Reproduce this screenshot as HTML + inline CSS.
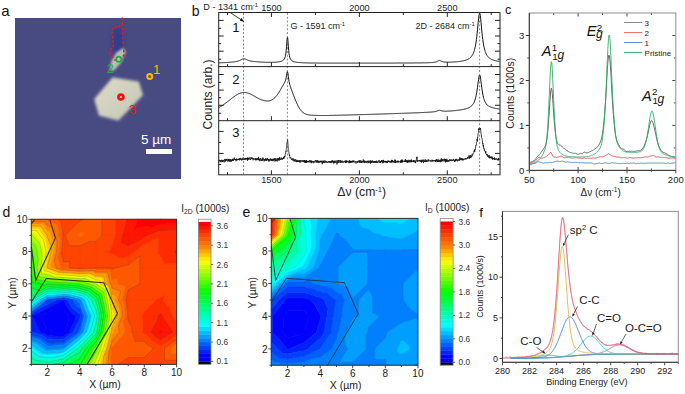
<!DOCTYPE html>
<html><head><meta charset="utf-8"><style>
html,body{margin:0;padding:0;background:#fff;}
svg{display:block;}
text{font-family:"Liberation Sans",sans-serif;}
</style></head><body>
<svg width="685" height="394" viewBox="0 0 685 394">
<defs>
<linearGradient id="hg" x1="0" y1="0" x2="1" y2="1"><stop offset="0" stop-color="#dcdcc8"/><stop offset="1" stop-color="#c4c5b3"/></linearGradient>
<filter id="b1" x="-20%" y="-20%" width="140%" height="140%"><feGaussianBlur stdDeviation="1.2"/></filter>
<filter id="b3" x="-20%" y="-20%" width="140%" height="140%"><feGaussianBlur stdDeviation="1.6"/></filter>
<filter id="b2" x="-30%" y="-30%" width="160%" height="160%"><feGaussianBlur stdDeviation="2"/></filter>
</defs>
<rect width="685" height="394" fill="#fff"/>
<text x="1.2" y="16.2" font-size="15" fill="#111">a</text>
<rect x="15" y="18" width="166" height="161" fill="#484a82"/>
<polygon points="113,31 122,27 123.5,50 116,53 112,49" fill="#2c3a8c" filter="url(#b2)" opacity="0.8"/>
<polygon points="123,48 126,51.5 121.5,62 114,70.5 109.5,70.5 111.5,61 116.5,52.5" fill="#bcbdb4" filter="url(#b1)"/>
<polygon points="113,78.2 138.3,82.2 142.2,95 118.2,119.8 99.6,115 95,99.3" fill="url(#hg)" stroke="url(#hg)" stroke-width="1.5" stroke-linejoin="round" filter="url(#b3)"/>
<g fill="none" stroke="#d82030" stroke-width="1.5" stroke-dasharray="2.6,1.8">
<polyline points="122.4,17.5 122.4,23.5 117.5,28 114.5,26.5 111.7,30.2 113.6,45.5 109.5,51.5 111.5,56 114.8,59.9 118.5,61"/>
<polyline points="122.4,23.5 123.2,40 123.9,54.6 122.4,59.1"/>
</g>
<circle cx="118.8" cy="59.3" r="2.6" fill="none" stroke="#18b040" stroke-width="1.8"/>
<circle cx="149.7" cy="76.5" r="2.5" fill="#6a5a40" stroke="#ffbb00" stroke-width="1.9"/>
<circle cx="120.9" cy="97" r="2.4" fill="#f4e8e8" stroke="#f81010" stroke-width="2.8"/>
<text x="153" y="73.6" font-size="13" fill="#ffbb00">1</text>
<text x="106.4" y="73.2" font-size="13" fill="#18b040">2</text>
<text x="128.8" y="114" font-size="13.5" fill="#f41010">3</text>
<text x="141" y="143.8" font-size="12" fill="#fff" textLength="30.3" lengthAdjust="spacingAndGlyphs">5 µm</text>
<rect x="146" y="149" width="26" height="5" fill="#fff"/>
<text x="191.8" y="15.6" font-size="14" fill="#111">b</text>
<g fill="none" stroke="#111" stroke-width="1" stroke-linejoin="round">
<path d="M218.7,62.8L219.1,62.8L219.4,62.8L219.8,62.8L220.1,62.8L220.5,62.8L220.8,62.8L221.2,62.8L221.5,62.7L221.9,62.7L222.2,62.7L222.6,62.7L222.9,62.7L223.3,62.7L223.6,62.7L224,62.6L224.3,62.6L224.7,62.6L225,62.6L225.4,62.6L225.7,62.6L226.1,62.5L226.4,62.5L226.8,62.5L227.1,62.5L227.5,62.5L227.8,62.4L228.2,62.4L228.5,62.4L228.9,62.4L229.2,62.3L229.6,62.3L230,62.3L230.3,62.3L230.7,62.2L231,62.2L231.4,62.2L231.7,62.1L232.1,62.1L232.4,62.1L232.8,62L233.1,62L233.5,61.9L233.8,61.9L234.2,61.8L234.5,61.8L234.9,61.7L235.2,61.7L235.6,61.6L235.9,61.6L236.3,61.5L236.6,61.4L237,61.4L237.3,61.3L237.7,61.2L238,61.1L238.4,61L238.7,60.9L239.1,60.7L239.4,60.6L239.8,60.5L240.1,60.3L240.5,60.1L240.9,60L241.2,59.8L241.6,59.6L241.9,59.4L242.3,59.2L242.6,59.1L243,58.9L243.3,58.8L243.7,58.8L244,58.7L244.4,58.8L244.7,58.9L245.1,59L245.4,59.1L245.8,59.3L246.1,59.4L246.5,59.6L246.8,59.8L247.2,59.9L247.5,60.1L247.9,60.2L248.2,60.3L248.6,60.5L248.9,60.6L249.3,60.7L249.6,60.8L250,60.8L250.3,60.9L250.7,61L251,61.1L251.4,61.1L251.8,61.2L252.1,61.2L252.5,61.3L252.8,61.3L253.2,61.4L253.5,61.4L253.9,61.5L254.2,61.5L254.6,61.5L254.9,61.6L255.3,61.6L255.6,61.7L256,61.7L256.3,61.7L256.7,61.7L257,61.8L257.4,61.8L257.7,61.8L258.1,61.9L258.4,61.9L258.8,61.9L259.1,61.9L259.5,62L259.8,62L260.2,62L260.5,62L260.9,62.1L261.2,62.1L261.6,62.1L261.9,62.1L262.3,62.1L262.7,62.2L263,62.2L263.4,62.2L263.7,62.2L264.1,62.2L264.4,62.2L264.8,62.2L265.1,62.3L265.5,62.3L265.8,62.3L266.2,62.3L266.5,62.3L266.9,62.3L267.2,62.3L267.6,62.3L267.9,62.3L268.3,62.3L268.6,62.3L269,62.3L269.3,62.3L269.7,62.3L270,62.3L270.4,62.3L270.7,62.3L271.1,62.3L271.4,62.3L271.8,62.3L272.1,62.3L272.5,62.3L272.9,62.3L273.2,62.3L273.6,62.3L273.9,62.3L274.3,62.3L274.6,62.2L275,62.2L275.3,62.2L275.7,62.2L276,62.2L276.4,62.1L276.7,62.1L277.1,62.1L277.4,62L277.8,62L278.1,61.9L278.5,61.9L278.8,61.8L279.2,61.8L279.5,61.7L279.9,61.6L280.2,61.6L280.6,61.5L280.9,61.4L281.3,61.3L281.6,61.1L282,61L282.3,60.8L282.7,60.6L283,60.4L283.4,60.1L283.8,59.7L284.1,59.3L284.5,58.7L284.8,57.9L285.2,56.8L285.5,55.3L285.9,53.2L286.2,50.2L286.6,46.1L286.9,41.2L287.3,37.4L287.6,37.4L288,41.3L288.3,46.2L288.7,50.4L289,53.4L289.4,55.5L289.7,57L290.1,58.1L290.4,58.9L290.8,59.5L291.1,60L291.5,60.4L291.8,60.7L292.2,60.9L292.5,61.1L292.9,61.3L293.2,61.5L293.6,61.6L293.9,61.7L294.3,61.8L294.7,61.9L295,62L295.4,62.1L295.7,62.1L296.1,62.2L296.4,62.2L296.8,62.3L297.1,62.3L297.5,62.4L297.8,62.4L298.2,62.5L298.5,62.5L298.9,62.5L299.2,62.5L299.6,62.6L299.9,62.6L300.3,62.6L300.6,62.6L301,62.7L301.3,62.7L301.7,62.7L302,62.7L302.4,62.7L302.7,62.8L303.1,62.8L303.4,62.8L303.8,62.8L304.1,62.8L304.5,62.8L304.8,62.8L305.2,62.8L305.6,62.9L305.9,62.9L306.3,62.9L306.6,62.9L307,62.9L307.3,62.9L307.7,62.9L308,62.9L308.4,62.9L308.7,62.9L309.1,62.9L309.4,63L309.8,63L310.1,63L310.5,63L310.8,63L311.2,63L311.5,63L311.9,63L312.2,63L312.6,63L312.9,63L313.3,63L313.6,63L314,63L314.3,63L314.7,63L315,63L315.4,63L315.7,63L316.1,63L316.5,63L316.8,63L317.2,63L317.5,63L317.9,63.1L318.2,63.1L318.6,63.1L318.9,63.1L319.3,63.1L319.6,63.1L320,63.1L320.3,63.1L320.7,63.1L321,63.1L321.4,63.1L321.7,63.1L322.1,63.1L322.4,63.1L322.8,63.1L323.1,63.1L323.5,63.1L323.8,63.1L324.2,63.1L324.5,63.1L324.9,63.1L325.2,63.1L325.6,63.1L325.9,63.1L326.3,63.1L326.6,63.1L327,63.1L327.4,63.1L327.7,63.1L328.1,63.1L328.4,63.1L328.8,63.1L329.1,63.1L329.5,63.1L329.8,63.1L330.2,63.1L330.5,63.1L330.9,63.1L331.2,63.1L331.6,63.1L331.9,63.1L332.3,63.1L332.6,63.1L333,63.1L333.3,63.1L333.7,63.1L334,63.1L334.4,63.1L334.7,63.1L335.1,63.1L335.4,63.1L335.8,63.1L336.1,63.1L336.5,63.1L336.8,63.1L337.2,63.1L337.5,63.1L337.9,63.1L338.3,63.1L338.6,63.1L339,63.1L339.3,63.1L339.7,63.1L340,63.1L340.4,63.1L340.7,63.1L341.1,63.1L341.4,63.1L341.8,63.1L342.1,63.1L342.5,63.1L342.8,63.1L343.2,63.1L343.5,63.1L343.9,63.1L344.2,63.1L344.6,63.1L344.9,63.1L345.3,63.1L345.6,63.1L346,63.1L346.3,63.1L346.7,63.1L347,63.1L347.4,63.1L347.7,63.1L348.1,63.1L348.4,63.1L348.8,63.1L349.2,63.1L349.5,63.1L349.9,63.1L350.2,63.1L350.6,63.1L350.9,63.1L351.3,63.1L351.6,63.1L352,63.1L352.3,63.1L352.7,63.1L353,63.1L353.4,63.1L353.7,63.1L354.1,63.1L354.4,63.1L354.8,63.1L355.1,63.1L355.5,63.1L355.8,63.1L356.2,63.1L356.5,63.1L356.9,63.1L357.2,63.1L357.6,63.1L357.9,63.1L358.3,63.1L358.6,63.1L359,63.1L359.4,63.1L359.7,63.1L360.1,63.1L360.4,63.1L360.8,63.1L361.1,63.1L361.5,63.1L361.8,63.1L362.2,63.1L362.5,63.1L362.9,63.1L363.2,63.1L363.6,63.1L363.9,63.1L364.3,63.1L364.6,63.1L365,63.1L365.3,63.1L365.7,63.1L366,63.1L366.4,63.1L366.7,63.1L367.1,63.1L367.4,63.1L367.8,63.1L368.1,63.1L368.5,63.1L368.8,63.1L369.2,63.1L369.5,63.1L369.9,63.1L370.3,63.1L370.6,63.1L371,63.1L371.3,63.1L371.7,63.1L372,63.1L372.4,63.1L372.7,63.1L373.1,63.1L373.4,63.1L373.8,63.1L374.1,63.1L374.5,63.1L374.8,63.1L375.2,63.1L375.5,63.1L375.9,63.1L376.2,63.1L376.6,63.1L376.9,63.1L377.3,63.1L377.6,63.1L378,63.1L378.3,63.1L378.7,63.1L379,63.1L379.4,63.1L379.7,63.1L380.1,63.1L380.4,63.1L380.8,63.1L381.2,63.1L381.5,63.1L381.9,63.1L382.2,63.1L382.6,63.1L382.9,63.1L383.3,63.1L383.6,63.1L384,63.1L384.3,63.1L384.7,63.1L385,63.1L385.4,63.1L385.7,63.1L386.1,63.1L386.4,63.1L386.8,63.1L387.1,63.1L387.5,63.1L387.8,63.1L388.2,63.1L388.5,63.1L388.9,63.1L389.2,63.1L389.6,63.1L389.9,63.1L390.3,63.1L390.6,63.1L391,63.1L391.3,63.1L391.7,63.1L392.1,63.1L392.4,63.1L392.8,63.1L393.1,63.1L393.5,63.1L393.8,63.1L394.2,63.1L394.5,63.1L394.9,63.1L395.2,63.1L395.6,63L395.9,63L396.3,63L396.6,63L397,63L397.3,63L397.7,63L398,63L398.4,63L398.7,63L399.1,63L399.4,63L399.8,63L400.1,63L400.5,63L400.8,63L401.2,63L401.5,63L401.9,63L402.2,63L402.6,63L403,63L403.3,63L403.7,63L404,63L404.4,63L404.7,63L405.1,63L405.4,63L405.8,63L406.1,63L406.5,63L406.8,63L407.2,63L407.5,63L407.9,63L408.2,63L408.6,63L408.9,63L409.3,63L409.6,63L410,63L410.3,63L410.7,63L411,63L411.4,63L411.7,63L412.1,63L412.4,63L412.8,63L413.1,63L413.5,63L413.9,62.9L414.2,62.9L414.6,62.9L414.9,62.9L415.3,62.9L415.6,62.9L416,62.9L416.3,62.9L416.7,62.9L417,62.9L417.4,62.9L417.7,62.9L418.1,62.9L418.4,62.9L418.8,62.9L419.1,62.9L419.5,62.9L419.8,62.9L420.2,62.9L420.5,62.9L420.9,62.9L421.2,62.9L421.6,62.9L421.9,62.9L422.3,62.9L422.6,62.8L423,62.8L423.3,62.8L423.7,62.8L424,62.8L424.4,62.8L424.8,62.8L425.1,62.8L425.5,62.8L425.8,62.8L426.2,62.8L426.5,62.8L426.9,62.8L427.2,62.8L427.6,62.7L427.9,62.7L428.3,62.7L428.6,62.7L429,62.7L429.3,62.7L429.7,62.7L430,62.7L430.4,62.6L430.7,62.6L431.1,62.6L431.4,62.6L431.8,62.6L432.1,62.5L432.5,62.5L432.8,62.5L433.2,62.4L433.5,62.4L433.9,62.3L434.2,62.3L434.6,62.2L434.9,62.2L435.3,62.1L435.7,62L436,61.9L436.4,61.8L436.7,61.6L437.1,61.4L437.4,61.3L437.8,61.1L438.1,60.9L438.5,60.7L438.8,60.6L439.2,60.5L439.5,60.5L439.9,60.5L440.2,60.7L440.6,60.8L440.9,61L441.3,61.2L441.6,61.3L442,61.5L442.3,61.6L442.7,61.7L443,61.8L443.4,61.9L443.7,62L444.1,62L444.4,62L444.8,62.1L445.1,62.1L445.5,62.1L445.8,62.2L446.2,62.2L446.6,62.2L446.9,62.2L447.3,62.2L447.6,62.2L448,62.2L448.3,62.2L448.7,62.2L449,62.2L449.4,62.2L449.7,62.2L450.1,62.2L450.4,62.1L450.8,62.1L451.1,62.1L451.5,62.1L451.8,62.1L452.2,62.1L452.5,62.1L452.9,62L453.2,62L453.6,62L453.9,62L454.3,61.9L454.6,61.9L455,61.9L455.3,61.9L455.7,61.8L456,61.8L456.4,61.8L456.8,61.8L457.1,61.7L457.5,61.7L457.8,61.7L458.2,61.6L458.5,61.6L458.9,61.5L459.2,61.5L459.6,61.4L459.9,61.4L460.3,61.3L460.6,61.3L461,61.2L461.3,61.2L461.7,61.1L462,61.1L462.4,61L462.7,60.9L463.1,60.9L463.4,60.8L463.8,60.7L464.1,60.6L464.5,60.5L464.8,60.4L465.2,60.3L465.5,60.2L465.9,60.1L466.2,60L466.6,59.8L466.9,59.7L467.3,59.5L467.7,59.4L468,59.2L468.4,59L468.7,58.8L469.1,58.6L469.4,58.3L469.8,58.1L470.1,57.8L470.5,57.5L470.8,57.1L471.2,56.8L471.5,56.3L471.9,55.9L472.2,55.3L472.6,54.8L472.9,54.1L473.3,53.4L473.6,52.5L474,51.6L474.3,50.5L474.7,49.2L475,47.8L475.4,46.1L475.7,44.2L476.1,42L476.4,39.5L476.8,36.6L477.1,33.4L477.5,29.9L477.8,26.1L478.2,22.3L478.6,18.8L478.9,15.8L479.3,13.8L479.6,13.1L480,13.8L480.3,15.8L480.7,18.8L481,22.3L481.4,26.1L481.7,29.9L482.1,33.4L482.4,36.6L482.8,39.5L483.1,42L483.5,44.2L483.8,46.1L484.2,47.8L484.5,49.2L484.9,50.5L485.2,51.5L485.6,52.5L485.9,53.3L486.3,54.1L486.6,54.7L487,55.3L487.3,55.9L487.7,56.3L488,56.7L488.4,57.1L488.7,57.5L489.1,57.8L489.5,58.1L489.8,58.3L490.2,58.6L490.5,58.8L490.9,59L491.2,59.2L491.6,59.4L491.9,59.5L492.3,59.7L492.6,59.8L493,60L493.3,60.1L493.7,60.2L494,60.3L494.4,60.4L494.7,60.5L495.1,60.6L495.4,60.7L495.8,60.8L496.1,60.8L496.5,60.9L496.8,61L497.2,61.1L497.5,61.1L497.9,61.2L498.2,61.2L498.6,61.3L498.9,61.3L499.3,61.4L499.6,61.4L500,61.5"/>
<path d="M218.7,107.7L219.1,107.5L219.4,107.3L219.8,107.1L220.1,106.9L220.5,106.7L220.8,106.4L221.2,106.2L221.5,106L221.9,105.8L222.2,105.5L222.6,105.3L222.9,105.1L223.3,104.8L223.6,104.6L224,104.3L224.3,104.1L224.7,103.8L225,103.6L225.4,103.3L225.7,103.1L226.1,102.8L226.4,102.5L226.8,102.3L227.1,102L227.5,101.7L227.8,101.5L228.2,101.2L228.5,100.9L228.9,100.6L229.2,100.4L229.6,100.1L230,99.8L230.3,99.5L230.7,99.3L231,99L231.4,98.7L231.7,98.4L232.1,98.2L232.4,97.9L232.8,97.6L233.1,97.4L233.5,97.1L233.8,96.8L234.2,96.6L234.5,96.3L234.9,96.1L235.2,95.8L235.6,95.6L235.9,95.4L236.3,95.1L236.6,94.9L237,94.7L237.3,94.5L237.7,94.3L238,94.1L238.4,93.9L238.7,93.8L239.1,93.6L239.4,93.5L239.8,93.3L240.1,93.2L240.5,93.1L240.9,92.9L241.2,92.8L241.6,92.8L241.9,92.7L242.3,92.6L242.6,92.6L243,92.5L243.3,92.5L243.7,92.5L244,92.4L244.4,92.4L244.7,92.5L245.1,92.5L245.4,92.5L245.8,92.6L246.1,92.6L246.5,92.7L246.8,92.8L247.2,92.9L247.5,93L247.9,93.1L248.2,93.2L248.6,93.3L248.9,93.4L249.3,93.6L249.6,93.7L250,93.9L250.3,94L250.7,94.2L251,94.4L251.4,94.6L251.8,94.7L252.1,94.9L252.5,95.1L252.8,95.3L253.2,95.5L253.5,95.7L253.9,95.9L254.2,96.1L254.6,96.3L254.9,96.5L255.3,96.7L255.6,96.9L256,97.1L256.3,97.3L256.7,97.5L257,97.6L257.4,97.8L257.7,98L258.1,98.2L258.4,98.4L258.8,98.6L259.1,98.7L259.5,98.9L259.8,99.1L260.2,99.2L260.5,99.4L260.9,99.5L261.2,99.7L261.6,99.8L261.9,100L262.3,100.1L262.7,100.2L263,100.3L263.4,100.4L263.7,100.5L264.1,100.6L264.4,100.7L264.8,100.8L265.1,100.8L265.5,100.9L265.8,100.9L266.2,100.9L266.5,101L266.9,101L267.2,101L267.6,101L267.9,101L268.3,100.9L268.6,100.9L269,100.8L269.3,100.8L269.7,100.7L270,100.6L270.4,100.5L270.7,100.4L271.1,100.2L271.4,100.1L271.8,99.9L272.1,99.7L272.5,99.5L272.9,99.3L273.2,99L273.6,98.8L273.9,98.5L274.3,98.2L274.6,97.9L275,97.5L275.3,97.2L275.7,96.8L276,96.4L276.4,96L276.7,95.6L277.1,95.1L277.4,94.6L277.8,94.1L278.1,93.6L278.5,93.1L278.8,92.5L279.2,91.9L279.5,91.4L279.9,90.8L280.2,90.2L280.6,89.6L280.9,88.9L281.3,88.3L281.6,87.7L282,87.1L282.3,86.5L282.7,85.9L283,85.3L283.4,84.7L283.8,84.1L284.1,83.4L284.5,82.8L284.8,82.1L285.2,81.3L285.5,80.3L285.9,79.1L286.2,77.5L286.6,75.4L286.9,73.1L287.3,71.5L287.6,71.8L288,73.8L288.3,76.6L288.7,79.1L289,81.2L289.4,82.9L289.7,84.3L290.1,85.5L290.4,86.6L290.8,87.7L291.1,88.7L291.5,89.6L291.8,90.6L292.2,91.6L292.5,92.5L292.9,93.5L293.2,94.4L293.6,95.3L293.9,96.3L294.3,97.2L294.7,98.1L295,99L295.4,99.9L295.7,100.8L296.1,101.6L296.4,102.4L296.8,103.2L297.1,104L297.5,104.7L297.8,105.4L298.2,106.1L298.5,106.8L298.9,107.4L299.2,108L299.6,108.6L299.9,109.1L300.3,109.6L300.6,110.1L301,110.5L301.3,110.9L301.7,111.3L302,111.7L302.4,112L302.7,112.3L303.1,112.6L303.4,112.8L303.8,113.1L304.1,113.3L304.5,113.5L304.8,113.7L305.2,113.9L305.6,114L305.9,114.2L306.3,114.3L306.6,114.4L307,114.5L307.3,114.6L307.7,114.7L308,114.8L308.4,114.8L308.7,114.9L309.1,114.9L309.4,115L309.8,115L310.1,115.1L310.5,115.1L310.8,115.2L311.2,115.2L311.5,115.2L311.9,115.2L312.2,115.3L312.6,115.3L312.9,115.3L313.3,115.3L313.6,115.3L314,115.3L314.3,115.3L314.7,115.4L315,115.4L315.4,115.4L315.7,115.4L316.1,115.4L316.5,115.4L316.8,115.4L317.2,115.4L317.5,115.4L317.9,115.4L318.2,115.4L318.6,115.5L318.9,115.5L319.3,115.5L319.6,115.5L320,115.5L320.3,115.5L320.7,115.5L321,115.5L321.4,115.5L321.7,115.5L322.1,115.5L322.4,115.5L322.8,115.5L323.1,115.5L323.5,115.5L323.8,115.5L324.2,115.5L324.5,115.5L324.9,115.5L325.2,115.5L325.6,115.5L325.9,115.5L326.3,115.5L326.6,115.5L327,115.5L327.4,115.5L327.7,115.5L328.1,115.5L328.4,115.5L328.8,115.5L329.1,115.5L329.5,115.4L329.8,115.4L330.2,115.4L330.5,115.4L330.9,115.4L331.2,115.4L331.6,115.4L331.9,115.4L332.3,115.4L332.6,115.4L333,115.4L333.3,115.4L333.7,115.4L334,115.3L334.4,115.3L334.7,115.3L335.1,115.3L335.4,115.3L335.8,115.3L336.1,115.3L336.5,115.3L336.8,115.3L337.2,115.3L337.5,115.3L337.9,115.3L338.3,115.2L338.6,115.2L339,115.2L339.3,115.2L339.7,115.2L340,115.2L340.4,115.2L340.7,115.2L341.1,115.2L341.4,115.2L341.8,115.2L342.1,115.1L342.5,115.1L342.8,115.1L343.2,115.1L343.5,115.1L343.9,115.1L344.2,115.1L344.6,115.1L344.9,115.1L345.3,115.1L345.6,115.1L346,115L346.3,115L346.7,115L347,115L347.4,115L347.7,115L348.1,115L348.4,115L348.8,115L349.2,115L349.5,115L349.9,114.9L350.2,114.9L350.6,114.9L350.9,114.9L351.3,114.9L351.6,114.9L352,114.9L352.3,114.9L352.7,114.9L353,114.9L353.4,114.8L353.7,114.8L354.1,114.8L354.4,114.8L354.8,114.8L355.1,114.8L355.5,114.8L355.8,114.8L356.2,114.8L356.5,114.8L356.9,114.7L357.2,114.7L357.6,114.7L357.9,114.7L358.3,114.7L358.6,114.7L359,114.7L359.4,114.7L359.7,114.7L360.1,114.7L360.4,114.6L360.8,114.6L361.1,114.6L361.5,114.6L361.8,114.6L362.2,114.6L362.5,114.6L362.9,114.6L363.2,114.6L363.6,114.6L363.9,114.5L364.3,114.5L364.6,114.5L365,114.5L365.3,114.5L365.7,114.5L366,114.5L366.4,114.5L366.7,114.5L367.1,114.5L367.4,114.4L367.8,114.4L368.1,114.4L368.5,114.4L368.8,114.4L369.2,114.4L369.5,114.4L369.9,114.4L370.3,114.4L370.6,114.3L371,114.3L371.3,114.3L371.7,114.3L372,114.3L372.4,114.3L372.7,114.3L373.1,114.3L373.4,114.3L373.8,114.2L374.1,114.2L374.5,114.2L374.8,114.2L375.2,114.2L375.5,114.2L375.9,114.2L376.2,114.2L376.6,114.2L376.9,114.2L377.3,114.1L377.6,114.1L378,114.1L378.3,114.1L378.7,114.1L379,114.1L379.4,114.1L379.7,114.1L380.1,114.1L380.4,114L380.8,114L381.2,114L381.5,114L381.9,114L382.2,114L382.6,114L382.9,114L383.3,113.9L383.6,113.9L384,113.9L384.3,113.9L384.7,113.9L385,113.9L385.4,113.9L385.7,113.9L386.1,113.9L386.4,113.8L386.8,113.8L387.1,113.8L387.5,113.8L387.8,113.8L388.2,113.8L388.5,113.8L388.9,113.8L389.2,113.8L389.6,113.7L389.9,113.7L390.3,113.7L390.6,113.7L391,113.7L391.3,113.7L391.7,113.7L392.1,113.7L392.4,113.7L392.8,113.6L393.1,113.6L393.5,113.6L393.8,113.6L394.2,113.6L394.5,113.6L394.9,113.6L395.2,113.6L395.6,113.5L395.9,113.5L396.3,113.5L396.6,113.5L397,113.5L397.3,113.5L397.7,113.5L398,113.5L398.4,113.4L398.7,113.4L399.1,113.4L399.4,113.4L399.8,113.4L400.1,113.4L400.5,113.4L400.8,113.4L401.2,113.4L401.5,113.3L401.9,113.3L402.2,113.3L402.6,113.3L403,113.3L403.3,113.3L403.7,113.3L404,113.3L404.4,113.2L404.7,113.2L405.1,113.2L405.4,113.2L405.8,113.2L406.1,113.2L406.5,113.2L406.8,113.2L407.2,113.1L407.5,113.1L407.9,113.1L408.2,113.1L408.6,113.1L408.9,113.1L409.3,113.1L409.6,113L410,113L410.3,113L410.7,113L411,113L411.4,113L411.7,113L412.1,113L412.4,112.9L412.8,112.9L413.1,112.9L413.5,112.9L413.9,112.9L414.2,112.9L414.6,112.9L414.9,112.8L415.3,112.8L415.6,112.8L416,112.8L416.3,112.8L416.7,112.8L417,112.8L417.4,112.8L417.7,112.7L418.1,112.7L418.4,112.7L418.8,112.7L419.1,112.7L419.5,112.7L419.8,112.6L420.2,112.6L420.5,112.6L420.9,112.6L421.2,112.6L421.6,112.6L421.9,112.6L422.3,112.5L422.6,112.5L423,112.5L423.3,112.5L423.7,112.5L424,112.5L424.4,112.4L424.8,112.4L425.1,112.4L425.5,112.4L425.8,112.4L426.2,112.4L426.5,112.3L426.9,112.3L427.2,112.3L427.6,112.3L427.9,112.3L428.3,112.2L428.6,112.2L429,112.2L429.3,112.2L429.7,112.2L430,112.1L430.4,112.1L430.7,112.1L431.1,112.1L431.4,112L431.8,112L432.1,112L432.5,111.9L432.8,111.9L433.2,111.9L433.5,111.8L433.9,111.8L434.2,111.7L434.6,111.7L434.9,111.6L435.3,111.6L435.7,111.5L436,111.4L436.4,111.3L436.7,111.2L437.1,111.1L437.4,110.9L437.8,110.8L438.1,110.6L438.5,110.5L438.8,110.4L439.2,110.3L439.5,110.3L439.9,110.3L440.2,110.4L440.6,110.5L440.9,110.6L441.3,110.7L441.6,110.8L442,110.9L442.3,111L442.7,111L443,111.1L443.4,111.1L443.7,111.1L444.1,111.2L444.4,111.2L444.8,111.2L445.1,111.2L445.5,111.2L445.8,111.2L446.2,111.2L446.6,111.2L446.9,111.2L447.3,111.1L447.6,111.1L448,111.1L448.3,111.1L448.7,111.1L449,111.1L449.4,111L449.7,111L450.1,111L450.4,111L450.8,110.9L451.1,110.9L451.5,110.9L451.8,110.9L452.2,110.8L452.5,110.8L452.9,110.8L453.2,110.8L453.6,110.7L453.9,110.7L454.3,110.7L454.6,110.6L455,110.6L455.3,110.6L455.7,110.5L456,110.5L456.4,110.4L456.8,110.4L457.1,110.4L457.5,110.3L457.8,110.3L458.2,110.2L458.5,110.2L458.9,110.1L459.2,110.1L459.6,110L459.9,110L460.3,109.9L460.6,109.9L461,109.8L461.3,109.8L461.7,109.7L462,109.6L462.4,109.6L462.7,109.5L463.1,109.4L463.4,109.4L463.8,109.3L464.1,109.2L464.5,109.1L464.8,109L465.2,109L465.5,108.9L465.9,108.8L466.2,108.7L466.6,108.6L466.9,108.4L467.3,108.3L467.7,108.2L468,108L468.4,107.9L468.7,107.7L469.1,107.6L469.4,107.4L469.8,107.2L470.1,107L470.5,106.8L470.8,106.5L471.2,106.2L471.5,105.9L471.9,105.6L472.2,105.2L472.6,104.8L472.9,104.3L473.3,103.8L473.6,103.2L474,102.6L474.3,101.8L474.7,100.9L475,99.9L475.4,98.8L475.7,97.5L476.1,95.9L476.4,94.2L476.8,92.2L477.1,89.9L477.5,87.4L477.8,84.7L478.2,81.9L478.6,79.3L478.9,77.1L479.3,75.6L479.6,75L480,75.5L480.3,77L480.7,79.2L481,81.8L481.4,84.5L481.7,87.2L482.1,89.7L482.4,92L482.8,94L483.1,95.7L483.5,97.2L483.8,98.5L484.2,99.7L484.5,100.6L484.9,101.5L485.2,102.2L485.6,102.9L485.9,103.4L486.3,103.9L486.6,104.4L487,104.7L487.3,105.1L487.7,105.4L488,105.7L488.4,105.9L488.7,106.2L489.1,106.4L489.5,106.6L489.8,106.7L490.2,106.9L490.5,107L490.9,107.2L491.2,107.3L491.6,107.4L491.9,107.5L492.3,107.6L492.6,107.7L493,107.8L493.3,107.9L493.7,108L494,108.1L494.4,108.2L494.7,108.2L495.1,108.3L495.4,108.4L495.8,108.4L496.1,108.5L496.5,108.6L496.8,108.6L497.2,108.7L497.5,108.7L497.9,108.8L498.2,108.8L498.6,108.9L498.9,108.9L499.3,109L499.6,109L500,109"/>
<path d="M218.7,162.5L218.9,161.5L219.1,161.2L219.2,159.8L219.4,160.9L219.6,160.9L219.8,161.1L219.9,160.6L220.1,161.1L220.3,160.7L220.5,160.1L220.6,161.7L220.8,161.7L221,162.3L221.2,161.1L221.3,160.7L221.5,160.6L221.7,159.8L221.9,161.7L222,160.1L222.2,160.1L222.4,160.8L222.6,162L222.7,161.1L222.9,160.1L223.1,160.4L223.3,161.3L223.4,160.7L223.6,160.3L223.8,160.7L224,161.4L224.2,162.3L224.3,159.8L224.5,160.3L224.7,160.1L224.9,158.9L225,160L225.2,159.9L225.4,161.5L225.6,160.6L225.7,159.4L225.9,161.1L226.1,160.4L226.3,159.3L226.4,160.1L226.6,160.1L226.8,159.9L227,160.6L227.1,158.8L227.3,160.3L227.5,161.3L227.7,161.1L227.8,161.3L228,161.3L228.2,161.5L228.4,159.6L228.5,161L228.7,159L228.9,159.9L229.1,158.9L229.2,161.1L229.4,161.3L229.6,160.1L229.8,161.6L230,159.7L230.1,160.3L230.3,160.3L230.5,159.4L230.7,160.5L230.8,161.6L231,159.4L231.2,160.8L231.4,160L231.5,161.4L231.7,160.4L231.9,160.6L232.1,160.5L232.2,160.2L232.4,158.9L232.6,161L232.8,158.9L232.9,160.1L233.1,160.4L233.3,159.3L233.5,160L233.6,160.7L233.8,159.8L234,159.2L234.2,157.6L234.3,159.1L234.5,159.3L234.7,159.4L234.9,159L235.1,160L235.2,159.3L235.4,159.6L235.6,160.2L235.8,159L235.9,159.4L236.1,161.2L236.3,160.2L236.5,158.6L236.6,159.5L236.8,160L237,160.4L237.2,159.6L237.3,159.1L237.5,158.9L237.7,159.9L237.9,159.7L238,159L238.2,159.2L238.4,159.1L238.6,159.9L238.7,158.8L238.9,159.7L239.1,159.9L239.3,159.7L239.4,158.6L239.6,160.3L239.8,158.7L240,159.5L240.1,158.6L240.3,157.9L240.5,159.4L240.7,159.4L240.9,159.1L241,159.3L241.2,158.6L241.4,158.6L241.6,159L241.7,160.5L241.9,159.7L242.1,158.7L242.3,159.5L242.4,158.7L242.6,158.7L242.8,159.6L243,158.6L243.1,157.7L243.3,158.3L243.5,159L243.7,159L243.8,159.9L244,158.4L244.2,159.5L244.4,159.2L244.5,158.8L244.7,159.5L244.9,159.2L245.1,158.2L245.2,159.7L245.4,157.9L245.6,158.9L245.8,158.8L246,159.1L246.1,158.3L246.3,158.8L246.5,158.7L246.7,159.5L246.8,158.2L247,158.8L247.2,158.6L247.4,157.8L247.5,160.8L247.7,158.7L247.9,157.6L248.1,159.8L248.2,157.9L248.4,159L248.6,159.4L248.8,158.2L248.9,158.4L249.1,158.3L249.3,158.6L249.5,157.5L249.6,157.8L249.8,158.6L250,159.5L250.2,159.2L250.3,160L250.5,159.2L250.7,158.3L250.9,158.6L251,157.2L251.2,158L251.4,157.9L251.6,158.9L251.8,159.2L251.9,158.3L252.1,158.3L252.3,157.6L252.5,158.6L252.6,158.9L252.8,159.1L253,158.1L253.2,160.2L253.3,159.6L253.5,158.7L253.7,158.3L253.9,158.5L254,158.9L254.2,158.7L254.4,159.1L254.6,159.3L254.7,159.8L254.9,159.6L255.1,158.7L255.3,159.1L255.4,158.5L255.6,158.4L255.8,160.2L256,158.5L256.1,160.3L256.3,158.6L256.5,159L256.7,159.7L256.9,158.9L257,159.2L257.2,158.7L257.4,158.5L257.6,158.8L257.7,158.4L257.9,160.1L258.1,158.8L258.3,160.2L258.4,156.9L258.6,159L258.8,159.4L259,158.8L259.1,159.8L259.3,159.5L259.5,158.8L259.7,159.4L259.8,161.2L260,159.3L260.2,159.3L260.4,158.8L260.5,159.2L260.7,158.1L260.9,159L261.1,161L261.2,160L261.4,159.6L261.6,160L261.8,160.6L261.9,159.7L262.1,160.8L262.3,160L262.5,159.4L262.7,160.5L262.8,157.5L263,158.9L263.2,159.5L263.4,158.6L263.5,159.2L263.7,158.9L263.9,158.9L264.1,161.4L264.2,159.9L264.4,159.4L264.6,160.4L264.8,159.3L264.9,160.1L265.1,159.7L265.3,160.7L265.5,158.4L265.6,160.1L265.8,159.6L266,158.7L266.2,160.3L266.3,158.9L266.5,160.8L266.7,160L266.9,160.1L267,159.7L267.2,160.3L267.4,158.2L267.6,159.7L267.8,159.2L267.9,159.9L268.1,159.7L268.3,160.2L268.5,159.1L268.6,161.1L268.8,161.5L269,159.6L269.2,159.8L269.3,160L269.5,160.7L269.7,161.2L269.9,158.9L270,159.4L270.2,159L270.4,159L270.6,158.6L270.7,160.1L270.9,159L271.1,161L271.3,160.6L271.4,159.1L271.6,159.1L271.8,159.5L272,161L272.1,159.3L272.3,158.8L272.5,159.9L272.7,160.2L272.9,159.5L273,161.2L273.2,160.1L273.4,160.3L273.6,159.3L273.7,159.9L273.9,159.9L274.1,158.3L274.3,160.2L274.4,158.6L274.6,160L274.8,158.9L275,161.5L275.1,160.2L275.3,160.6L275.5,160.7L275.7,159L275.8,158.2L276,159.7L276.2,160.6L276.4,160L276.5,160.5L276.7,160.6L276.9,158.8L277.1,160.1L277.2,161.4L277.4,159.4L277.6,158.3L277.8,159.7L277.9,159.5L278.1,160.1L278.3,159.1L278.5,159.8L278.7,158.1L278.8,160.3L279,160.9L279.2,160.6L279.4,158.5L279.5,159.8L279.7,157.3L279.9,159.7L280.1,159.4L280.2,158.7L280.4,159.6L280.6,159.4L280.8,160L280.9,159.3L281.1,159.3L281.3,157.6L281.5,158.2L281.6,158.6L281.8,159.1L282,158.8L282.2,159.8L282.3,158L282.5,158.4L282.7,158.6L282.9,158.2L283,158.6L283.2,157.7L283.4,159L283.6,157.6L283.8,158.5L283.9,157.4L284.1,158.4L284.3,156L284.5,157.2L284.6,156.2L284.8,156.4L285,156.7L285.2,154.5L285.3,153.9L285.5,153.5L285.7,153.8L285.9,151.3L286,151.8L286.2,149.6L286.4,148.4L286.6,147.4L286.7,146.2L286.9,143.7L287.1,142.2L287.3,141.4L287.4,140.8L287.6,139.5L287.8,142.4L288,144.4L288.1,147L288.3,149.5L288.5,150.1L288.7,151.1L288.8,151.5L289,153.3L289.2,154.7L289.4,155.8L289.6,154.8L289.7,156.2L289.9,157.1L290.1,158.3L290.3,157.4L290.4,157.1L290.6,157.3L290.8,157.8L291,157.8L291.1,159.1L291.3,159.4L291.5,159.3L291.7,159.8L291.8,158.7L292,159.5L292.2,159L292.4,159.5L292.5,160.4L292.7,159.6L292.9,158.3L293.1,159.6L293.2,159.3L293.4,158.8L293.6,159.4L293.8,160.8L293.9,161.4L294.1,159.8L294.3,161L294.5,161.2L294.7,159.5L294.8,160.4L295,160.4L295.2,160.6L295.4,159.3L295.5,160.3L295.7,161.4L295.9,161.6L296.1,162L296.2,160.4L296.4,162.1L296.6,161.3L296.8,159.8L296.9,161.4L297.1,160.6L297.3,161.3L297.5,160.8L297.6,161.8L297.8,161.1L298,160.7L298.2,161.7L298.3,161.2L298.5,160.7L298.7,162L298.9,160.8L299,160.6L299.2,160.7L299.4,160L299.6,160.7L299.7,162.5L299.9,160.5L300.1,161.2L300.3,160.4L300.5,160.7L300.6,162.4L300.8,161.9L301,160.8L301.2,161.3L301.3,160.6L301.5,160.7L301.7,160.6L301.9,160.6L302,161.6L302.2,161.8L302.4,161.7L302.6,161.2L302.7,160.3L302.9,161.3L303.1,160.7L303.3,162L303.4,161.8L303.6,161.9L303.8,161.1L304,160L304.1,162.1L304.3,162.3L304.5,160.3L304.7,161.5L304.8,162.3L305,160.6L305.2,162.8L305.4,161.2L305.6,160.7L305.7,162.5L305.9,161.7L306.1,161L306.3,162.1L306.4,160L306.6,162.9L306.8,160.9L307,161.7L307.1,161.2L307.3,161.8L307.5,162.2L307.7,160.9L307.8,162.1L308,161.3L308.2,161L308.4,161.4L308.5,160.8L308.7,161L308.9,162.3L309.1,161.4L309.2,162.4L309.4,161.9L309.6,160.8L309.8,160.1L309.9,161.1L310.1,161.8L310.3,161.6L310.5,161L310.6,162.3L310.8,160.3L311,160.6L311.2,161.7L311.4,163.2L311.5,161.9L311.7,160.8L311.9,162L312.1,162.1L312.2,162.3L312.4,161.3L312.6,161L312.8,161.7L312.9,161.9L313.1,162.8L313.3,163.2L313.5,161.1L313.6,161.2L313.8,161.6L314,161.4L314.2,162L314.3,162L314.5,161.8L314.7,162.6L314.9,161.5L315,160.9L315.2,160.5L315.4,160.9L315.6,160.9L315.7,160.2L315.9,162.1L316.1,161.8L316.3,161.3L316.5,161L316.6,160.5L316.8,161L317,163L317.2,160L317.3,161.8L317.5,162.2L317.7,161.8L317.9,161.4L318,162.2L318.2,160.8L318.4,162.1L318.6,162.7L318.7,160.9L318.9,161.1L319.1,161.8L319.3,162.4L319.4,162.7L319.6,162.2L319.8,161.2L320,160.8L320.1,161.9L320.3,162L320.5,160.9L320.7,161.7L320.8,161.9L321,162.5L321.2,160.9L321.4,162.1L321.6,160.8L321.7,161.4L321.9,161.6L322.1,162.8L322.3,164.2L322.4,161.9L322.6,162.1L322.8,162.5L323,160.7L323.1,162.3L323.3,160.8L323.5,162.9L323.7,162.8L323.8,162.1L324,161.1L324.2,163L324.4,161.9L324.5,161.8L324.7,162.1L324.9,160.4L325.1,162L325.2,162.5L325.4,162L325.6,161.8L325.8,161L325.9,162.2L326.1,161.9L326.3,161.7L326.5,161.3L326.6,162.4L326.8,162.6L327,162L327.2,162.4L327.4,162.7L327.5,162.9L327.7,161.9L327.9,161.6L328.1,161.4L328.2,161.7L328.4,162.1L328.6,162.4L328.8,161.4L328.9,161.8L329.1,161L329.3,162.7L329.5,161.4L329.6,162L329.8,161.2L330,161.5L330.2,161.2L330.3,163L330.5,162L330.7,161.6L330.9,161L331,161.3L331.2,162.2L331.4,163L331.6,160.7L331.7,161L331.9,161.6L332.1,161.3L332.3,160.5L332.5,161.7L332.6,162.3L332.8,160.5L333,161.9L333.2,162.5L333.3,162.5L333.5,161.4L333.7,163.5L333.9,162.1L334,161.1L334.2,162.5L334.4,160.9L334.6,162.4L334.7,160.8L334.9,162.3L335.1,161.3L335.3,162.6L335.4,162.3L335.6,162.1L335.8,161.8L336,162.6L336.1,160.4L336.3,162.1L336.5,162L336.7,162.2L336.8,162.4L337,164.5L337.2,161.8L337.4,162.3L337.5,161.9L337.7,162.9L337.9,160.2L338.1,163L338.3,161.2L338.4,160L338.6,160.9L338.8,161.6L339,161.9L339.1,161.7L339.3,162.4L339.5,161.7L339.7,161.7L339.8,160.1L340,162.1L340.2,162.5L340.4,161.4L340.5,160.3L340.7,160.7L340.9,163L341.1,161.3L341.2,161.2L341.4,161.1L341.6,162.3L341.8,161.3L341.9,161.1L342.1,160.6L342.3,161.7L342.5,162.5L342.6,161.6L342.8,162.4L343,161.9L343.2,161.9L343.4,161.9L343.5,161.8L343.7,162.5L343.9,162.1L344.1,161.3L344.2,161.8L344.4,161.7L344.6,162.1L344.8,161.9L344.9,162.1L345.1,160.6L345.3,162L345.5,162.7L345.6,160.7L345.8,162.9L346,162L346.2,161.6L346.3,160.4L346.5,162.6L346.7,161L346.9,161.4L347,162.2L347.2,161L347.4,161L347.6,160.9L347.7,161.7L347.9,162.2L348.1,162.1L348.3,162.1L348.4,161.5L348.6,161.9L348.8,161.2L349,163.2L349.2,161.9L349.3,160.3L349.5,160.9L349.7,163L349.9,160.7L350,161.4L350.2,162.1L350.4,160.9L350.6,162.5L350.7,163L350.9,161.1L351.1,162.6L351.3,161.1L351.4,161L351.6,161.9L351.8,161.9L352,161.3L352.1,162.4L352.3,160.6L352.5,161.1L352.7,160.9L352.8,162.3L353,162.4L353.2,162.3L353.4,160.8L353.5,161.9L353.7,162.1L353.9,160.5L354.1,161.1L354.3,162.2L354.4,162.3L354.6,161.9L354.8,162.2L355,162L355.1,161.9L355.3,161.7L355.5,161.1L355.7,161.6L355.8,161.5L356,163.5L356.2,161.9L356.4,161.7L356.5,161.6L356.7,161.7L356.9,161.5L357.1,162.2L357.2,161.7L357.4,162.4L357.6,161.2L357.8,162L357.9,162.4L358.1,160.9L358.3,161.9L358.5,161.9L358.6,161.5L358.8,161.4L359,160.4L359.2,162.6L359.4,161.1L359.5,160.8L359.7,162.2L359.9,160.4L360.1,162.5L360.2,162.1L360.4,162.2L360.6,161.6L360.8,160.8L360.9,160.3L361.1,162.8L361.3,161.4L361.5,161.4L361.6,162.9L361.8,161.3L362,161.6L362.2,161.6L362.3,161.7L362.5,161L362.7,161.3L362.9,162.7L363,162.3L363.2,159.5L363.4,160.3L363.6,162L363.7,161.7L363.9,161.5L364.1,162.5L364.3,160.4L364.4,162.7L364.6,161.9L364.8,162.2L365,161.9L365.2,162.4L365.3,161.6L365.5,161.3L365.7,162.3L365.9,161.9L366,160.8L366.2,162.8L366.4,162.7L366.6,162.8L366.7,161.8L366.9,162L367.1,161.5L367.3,161L367.4,161.8L367.6,161.9L367.8,161.3L368,163.1L368.1,160.5L368.3,161.1L368.5,161.3L368.7,162.7L368.8,161.6L369,161.5L369.2,161.1L369.4,161.2L369.5,160.8L369.7,162.5L369.9,162.2L370.1,162.5L370.3,161.3L370.4,163.6L370.6,161L370.8,160.2L371,161.5L371.1,161.9L371.3,162.3L371.5,161L371.7,162.2L371.8,163L372,161.1L372.2,161.2L372.4,160.5L372.5,161.9L372.7,162.4L372.9,162.3L373.1,162.4L373.2,162.8L373.4,161.8L373.6,162.5L373.8,161L373.9,161.2L374.1,161.9L374.3,161.1L374.5,162.2L374.6,162.8L374.8,162.1L375,161.2L375.2,161.2L375.3,162.8L375.5,161.2L375.7,161.8L375.9,161.6L376.1,161.8L376.2,162.6L376.4,161.3L376.6,160.7L376.8,162.8L376.9,161.9L377.1,162.3L377.3,161.7L377.5,162.3L377.6,162.7L377.8,162.8L378,161.5L378.2,161.5L378.3,162L378.5,161.9L378.7,162.2L378.9,161.2L379,160L379.2,162.1L379.4,162.3L379.6,162.2L379.7,163L379.9,162.3L380.1,161.4L380.3,162.4L380.4,161.6L380.6,162.6L380.8,161.9L381,162L381.2,161.9L381.3,161.7L381.5,160.6L381.7,161.7L381.9,160L382,162.1L382.2,162.4L382.4,163.2L382.6,161.9L382.7,161.1L382.9,160.5L383.1,163.1L383.3,160.6L383.4,162.3L383.6,159.9L383.8,161.6L384,162.2L384.1,161.9L384.3,161.6L384.5,161L384.7,161L384.8,162.4L385,162L385.2,161.5L385.4,161.8L385.5,160.9L385.7,162.4L385.9,162.6L386.1,161L386.2,161.7L386.4,162.4L386.6,161.1L386.8,163.1L387,162.7L387.1,161.4L387.3,162.3L387.5,162.8L387.7,160.7L387.8,162.1L388,161.5L388.2,161.4L388.4,162.1L388.5,161.2L388.7,160.5L388.9,160.5L389.1,161.6L389.2,162L389.4,161.5L389.6,161.5L389.8,161.5L389.9,162.5L390.1,162L390.3,161L390.5,161.3L390.6,162.5L390.8,161.1L391,161.2L391.2,161.5L391.3,160.7L391.5,162.2L391.7,159.9L391.9,162.6L392.1,161.2L392.2,160.6L392.4,161.7L392.6,160.2L392.8,161.9L392.9,162.1L393.1,161.1L393.3,161.2L393.5,162.2L393.6,161L393.8,161.5L394,161.8L394.2,162.7L394.3,161.1L394.5,161.5L394.7,162.3L394.9,159.6L395,161.3L395.2,160L395.4,160.1L395.6,162.9L395.7,161.6L395.9,162.6L396.1,161.3L396.3,161.9L396.4,161.1L396.6,161L396.8,161.4L397,161.5L397.1,162.6L397.3,161.3L397.5,161.7L397.7,161.2L397.9,161.5L398,160.5L398.2,162.3L398.4,161L398.6,161.5L398.7,161.3L398.9,162.2L399.1,161.8L399.3,161.4L399.4,161.5L399.6,161.7L399.8,162L400,161.8L400.1,162.4L400.3,162.6L400.5,161.9L400.7,160.4L400.8,162.7L401,163L401.2,161.1L401.4,161.1L401.5,159.8L401.7,162L401.9,160.6L402.1,162.7L402.2,159.5L402.4,161.4L402.6,161.9L402.8,161.1L403,160.8L403.1,161.5L403.3,161L403.5,161.1L403.7,161.3L403.8,160.9L404,161.2L404.2,161.9L404.4,161L404.5,161.5L404.7,160.8L404.9,162L405.1,160.4L405.2,162L405.4,159.1L405.6,160.6L405.8,160.1L405.9,162.1L406.1,161.5L406.3,160.3L406.5,160.9L406.6,162.3L406.8,161.2L407,161.7L407.2,160.2L407.3,160.2L407.5,161.7L407.7,163L407.9,160.9L408.1,161.7L408.2,160.6L408.4,162.2L408.6,160.9L408.8,160.9L408.9,159.8L409.1,160.9L409.3,161.4L409.5,162.3L409.6,160.4L409.8,162L410,161L410.2,161L410.3,160.5L410.5,159.9L410.7,160.3L410.9,162.4L411,160.3L411.2,160.9L411.4,162L411.6,159.6L411.7,161.5L411.9,160.8L412.1,161.3L412.3,161.8L412.4,161.1L412.6,161L412.8,161.7L413,161.6L413.1,160.6L413.3,161L413.5,160.1L413.7,162.1L413.9,160.2L414,161.3L414.2,162.4L414.4,161.7L414.6,160.9L414.7,160.6L414.9,160.7L415.1,161.8L415.3,161.4L415.4,161.1L415.6,163.1L415.8,160.5L416,160.8L416.1,160.8L416.3,161.3L416.5,157.3L416.7,156.9L416.8,157.7L417,157.5L417.2,156.9L417.4,159.3L417.5,161.7L417.7,160.4L417.9,160.6L418.1,161L418.2,160.1L418.4,160.5L418.6,161.1L418.8,160.8L419,161.3L419.1,160.4L419.3,160.9L419.5,160.2L419.7,160.8L419.8,161.2L420,160.8L420.2,159.9L420.4,160.9L420.5,161.1L420.7,161.9L420.9,161L421.1,160.7L421.2,160.1L421.4,162.5L421.6,160.3L421.8,160.1L421.9,160.9L422.1,159.6L422.3,161.8L422.5,161.1L422.6,161.3L422.8,160.2L423,160.6L423.2,161.6L423.3,161.6L423.5,163.1L423.7,161.8L423.9,159.5L424,161L424.2,160.7L424.4,161.8L424.6,160.9L424.8,161.3L424.9,160.7L425.1,161.4L425.3,162L425.5,160.5L425.6,159.4L425.8,160.2L426,162.1L426.2,161.1L426.3,160.7L426.5,160.2L426.7,161.7L426.9,161.1L427,160.8L427.2,160.5L427.4,160.8L427.6,160.7L427.7,161.3L427.9,161.9L428.1,159.4L428.3,159.8L428.4,160.8L428.6,160.9L428.8,159.7L429,160.4L429.1,160.6L429.3,160.5L429.5,160.5L429.7,160.8L429.9,161.5L430,161.4L430.2,161.3L430.4,161.1L430.6,160.3L430.7,160.5L430.9,161.4L431.1,160.9L431.3,161.4L431.4,161L431.6,160.9L431.8,161.1L432,159.7L432.1,160.7L432.3,160.4L432.5,161.4L432.7,160.3L432.8,161L433,160.5L433.2,161.1L433.4,161.3L433.5,160.6L433.7,160.9L433.9,160.9L434.1,161.3L434.2,160.5L434.4,160.8L434.6,160.4L434.8,160L434.9,160.9L435.1,161.1L435.3,160.1L435.5,161.9L435.7,160.2L435.8,161.3L436,161L436.2,159.4L436.4,160.7L436.5,159.5L436.7,160.6L436.9,161.2L437.1,162.1L437.2,161.3L437.4,159.5L437.6,160.4L437.8,161.8L437.9,160.8L438.1,162L438.3,160.1L438.5,160.2L438.6,159.6L438.8,160.4L439,161.6L439.2,159.9L439.3,161.3L439.5,161L439.7,161.2L439.9,160.4L440,160.6L440.2,162.2L440.4,159.7L440.6,161.2L440.8,161.7L440.9,160.9L441.1,161.8L441.3,158.4L441.5,160.3L441.6,159.7L441.8,160.2L442,160.5L442.2,160.9L442.3,159.9L442.5,161.2L442.7,159.3L442.9,161.2L443,160.3L443.2,159.2L443.4,159.2L443.6,159.2L443.7,159.7L443.9,160.6L444.1,161.5L444.3,161.1L444.4,159.5L444.6,158.7L444.8,160.2L445,159.4L445.1,160.3L445.3,159.9L445.5,162.4L445.7,159.1L445.8,160.6L446,161.8L446.2,160.1L446.4,159.8L446.6,161.6L446.7,158.8L446.9,159.1L447.1,159.4L447.3,160.7L447.4,160.9L447.6,160.2L447.8,162L448,160.2L448.1,160.3L448.3,160.1L448.5,161.2L448.7,160.3L448.8,160L449,161.6L449.2,161.3L449.4,161.1L449.5,159.3L449.7,159.5L449.9,160.1L450.1,160.1L450.2,159.9L450.4,160.1L450.6,160.8L450.8,159.5L450.9,160.4L451.1,159.9L451.3,159.9L451.5,160L451.7,160.8L451.8,160.4L452,159.6L452.2,160.5L452.4,160.3L452.5,160.5L452.7,160L452.9,160.9L453.1,160.5L453.2,159.3L453.4,159.2L453.6,159.1L453.8,160.5L453.9,159.6L454.1,159.9L454.3,160.1L454.5,161L454.6,161.8L454.8,160L455,161.6L455.2,160.5L455.3,161L455.5,159.9L455.7,159.1L455.9,160.4L456,161L456.2,158.8L456.4,160L456.6,160.2L456.8,160.4L456.9,159.2L457.1,159.5L457.3,160.6L457.5,161.3L457.6,160L457.8,160.6L458,160L458.2,160.2L458.3,159.6L458.5,159.7L458.7,159.4L458.9,159.9L459,160.6L459.2,159.9L459.4,160.3L459.6,159.3L459.7,160.3L459.9,157.3L460.1,158.6L460.3,159.4L460.4,158.3L460.6,160.1L460.8,159.8L461,158.9L461.1,159.6L461.3,158.4L461.5,158.9L461.7,159.2L461.8,158.3L462,160.3L462.2,158.9L462.4,160.2L462.6,159.3L462.7,159.6L462.9,158.7L463.1,159.1L463.3,159L463.4,159.4L463.6,160.3L463.8,158.8L464,159L464.1,159.4L464.3,159.7L464.5,159L464.7,158.7L464.8,158.5L465,159L465.2,159.1L465.4,158.4L465.5,158.6L465.7,159.4L465.9,158.7L466.1,158.3L466.2,159.2L466.4,159.1L466.6,159L466.8,159L466.9,158.1L467.1,158.5L467.3,158.6L467.5,158.3L467.7,156.9L467.8,158.1L468,158.3L468.2,158.4L468.4,157.7L468.5,157.9L468.7,156.4L468.9,156.5L469.1,155.3L469.2,157.3L469.4,158.6L469.6,158.6L469.8,156.3L469.9,157.6L470.1,157.9L470.3,156.6L470.5,155.2L470.6,157.6L470.8,156.2L471,156L471.2,157.4L471.3,156.3L471.5,156.4L471.7,156.8L471.9,155.3L472,154.5L472.2,155.6L472.4,154.8L472.6,155.1L472.7,154.6L472.9,153.5L473.1,153.8L473.3,153.2L473.5,153L473.6,152.8L473.8,152.7L474,152.3L474.2,150.7L474.3,151.8L474.5,149.8L474.7,152L474.9,149.3L475,149.2L475.2,149.7L475.4,148L475.6,146.5L475.7,145.7L475.9,146.2L476.1,145.5L476.3,145L476.4,143.8L476.6,142.3L476.8,142L477,141.8L477.1,139.1L477.3,141.3L477.5,137.2L477.7,137.4L477.8,136.8L478,134.9L478.2,133.4L478.4,132.8L478.6,132.3L478.7,128.5L478.9,130.1L479.1,128.9L479.3,128.2L479.4,128.5L479.6,128.5L479.8,128.8L480,128.3L480.1,130L480.3,128.1L480.5,129.7L480.7,130.3L480.8,132.2L481,132.8L481.2,134.6L481.4,134.7L481.5,137.3L481.7,138L481.9,138.1L482.1,138.3L482.2,139.7L482.4,140.4L482.6,143.5L482.8,144L482.9,143.3L483.1,146.5L483.3,145.7L483.5,144.9L483.6,148.1L483.8,148.9L484,148.6L484.2,148.5L484.4,150.6L484.5,149.8L484.7,150.7L484.9,151.5L485.1,151.8L485.2,151.6L485.4,151.5L485.6,153.2L485.8,151.4L485.9,153.6L486.1,153.8L486.3,154.3L486.5,153.9L486.6,154.6L486.8,155.2L487,154.1L487.2,155.1L487.3,155.6L487.5,154.5L487.7,154.9L487.9,157L488,156.7L488.2,155.6L488.4,156.8L488.6,156.7L488.7,157.6L488.9,157.5L489.1,155L489.3,156.7L489.5,158L489.6,158.3L489.8,156.7L490,156.4L490.2,157.6L490.3,157L490.5,157.5L490.7,156.8L490.9,158.3L491,158.2L491.2,158.2L491.4,157.1L491.6,156.7L491.7,157.1L491.9,158.5L492.1,156.8L492.3,158.7L492.4,159.6L492.6,157.8L492.8,158.2L493,159.2L493.1,159.2L493.3,158L493.5,158.4L493.7,158.7L493.8,158.4L494,159.1L494.2,159L494.4,159.7L494.5,157.5L494.7,159.7L494.9,159.5L495.1,158.8L495.3,159.2L495.4,159.7L495.6,159.2L495.8,158.8L496,159.2L496.1,158.5L496.3,158.1L496.5,158.4L496.7,158.5L496.8,159.3L497,159.8L497.2,159.4L497.4,160.3L497.5,159.2L497.7,158.8L497.9,158.7L498.1,158.6L498.2,159.1L498.4,160.4L498.6,158.2L498.8,159.8L498.9,159.4L499.1,160L499.3,159.1L499.5,160L499.6,159.1L499.8,159.9L500,158" stroke-width="0.8"/>
</g>
<line x1="243.5" y1="13" x2="243.5" y2="174.5" stroke="#555" stroke-width="0.7" stroke-dasharray="2,1.8"/>
<line x1="287.4" y1="13" x2="287.4" y2="174.5" stroke="#555" stroke-width="0.7" stroke-dasharray="2,1.8"/>
<line x1="479.6" y1="13" x2="479.6" y2="174.5" stroke="#555" stroke-width="0.7" stroke-dasharray="2,1.8"/>
<g stroke="#222" stroke-width="1" fill="none">
<rect x="218.7" y="12.5" width="281.3" height="162.3"/>
<line x1="500.0" y1="12.5" x2="500.0" y2="174.8" stroke="#888"/>
<line x1="218.7" y1="66.6" x2="500.0" y2="66.6"/>
<line x1="218.7" y1="120.7" x2="500.0" y2="120.7"/>
<path d="M227.5,12.5v2.5M227.5,66.6v-2.5M227.5,120.7v-2.5M227.5,174.8v-2.5M271.4,12.5v4.5M271.4,66.6v-4.5M271.4,120.7v-4.5M271.4,174.8v-4.5M315.4,12.5v2.5M315.4,66.6v-2.5M315.4,120.7v-2.5M315.4,174.8v-2.5M359.4,12.5v4.5M359.4,66.6v-4.5M359.4,120.7v-4.5M359.4,174.8v-4.5M403.3,12.5v2.5M403.3,66.6v-2.5M403.3,120.7v-2.5M403.3,174.8v-2.5M447.3,12.5v4.5M447.3,66.6v-4.5M447.3,120.7v-4.5M447.3,174.8v-4.5M491.2,12.5v2.5M491.2,66.6v-2.5M491.2,120.7v-2.5M491.2,174.8v-2.5M218.7,20.4h5M500.0,20.4h-5M218.7,28.3h2.5M500.0,28.3h-2.5M218.7,36h5M500.0,36h-5M218.7,43.6h2.5M500.0,43.6h-2.5M218.7,51.2h5M500.0,51.2h-5M218.7,59.2h2.5M500.0,59.2h-2.5M218.7,74.5h5M500.0,74.5h-5M218.7,82.4h2.5M500.0,82.4h-2.5M218.7,90.1h5M500.0,90.1h-5M218.7,97.7h2.5M500.0,97.7h-2.5M218.7,105.3h5M500.0,105.3h-5M218.7,113.3h2.5M500.0,113.3h-2.5M218.7,131.4h5M500.0,131.4h-5M218.7,142.4h2.5M500.0,142.4h-2.5M218.7,153.4h5M500.0,153.4h-5M218.7,164.5h2.5M500.0,164.5h-2.5"/>
</g>
<text x="271.4" y="10.6" font-size="9.2" text-anchor="middle" fill="#222" >1500</text>
<text x="271.4" y="183.3" font-size="9.2" text-anchor="middle" fill="#222" >1500</text>
<text x="359.4" y="10.6" font-size="9.2" text-anchor="middle" fill="#222" >2000</text>
<text x="359.4" y="183.3" font-size="9.2" text-anchor="middle" fill="#222" >2000</text>
<text x="447.3" y="10.6" font-size="9.2" text-anchor="middle" fill="#222" >2500</text>
<text x="447.3" y="183.3" font-size="9.2" text-anchor="middle" fill="#222" >2500</text>
<text x="203.3" y="10.3" font-size="9.1" text-anchor="start" fill="#222" >D - 1341 cm<tspan font-size="5.8" dy="-3.2">-1</tspan></text>
<text x="290.4" y="28.9" font-size="9.0" text-anchor="start" fill="#222" >G - 1591 cm<tspan font-size="5.8" dy="-3.2">-1</tspan></text>
<text x="415.5" y="29.3" font-size="9.0" text-anchor="start" fill="#222" >2D - 2684 cm<tspan font-size="5.8" dy="-3.2">-1</tspan></text>
<line x1="230.3" y1="12.6" x2="242.5" y2="20.6" stroke="#111" stroke-width="0.8"/>
<polygon points="244.3,22 239.6,20.4 241.6,17.9" fill="#111"/>
<text x="232.2" y="31.9" font-size="13" text-anchor="start" fill="#111" >1</text>
<text x="232.2" y="84.2" font-size="13" text-anchor="start" fill="#111" >2</text>
<text x="232.2" y="137.2" font-size="13" text-anchor="start" fill="#111" >3</text>
<text transform="translate(211.6,94.5) rotate(-90)" font-size="12" text-anchor="middle" fill="#222">Counts (arb.)</text>
<text x="361.7" y="196.3" font-size="12.2" text-anchor="middle" fill="#222">Δν (cm<tspan font-size="7.5" dy="-4">-1</tspan><tspan dy="4">)</tspan></text>
<text x="505" y="14.3" font-size="12.5" fill="#111">c</text>
<path d="M529.3,164.2L529.8,164L530.3,164L530.8,163.7L531.3,163.7L531.7,163.6L532.2,163.5L532.7,163.3L533.2,163.4L533.7,163.3L534.2,163L534.7,163.2L535.2,163.4L535.6,162.9L536.1,162.9L536.6,162.7L537.1,162.2L537.6,161.9L538.1,161.9L538.6,161.6L539.1,161.7L539.6,162.1L540,162L540.5,162.2L541,162.4L541.5,162.5L542,162.6L542.5,162.9L543,163.1L543.5,163.2L543.9,163L544.4,162.9L544.9,162.9L545.4,162.7L545.9,162.6L546.4,162.7L546.9,162.9L547.4,162.9L547.9,162.6L548.3,162.7L548.8,162.5L549.3,162.3L549.8,162.4L550.3,162.7L550.8,162.5L551.3,162.6L551.8,162.5L552.3,162.4L552.7,162.3L553.2,162.1L553.7,162L554.2,162L554.7,161.8L555.2,161.4L555.7,161.5L556.2,161.6L556.6,161.3L557.1,161.1L557.6,161.1L558.1,161.2L558.6,161.3L559.1,161.3L559.6,161.5L560.1,161.6L560.6,161.4L561,161L561.5,161.2L562,161.2L562.5,161.2L563,161.3L563.5,161.5L564,161.6L564.5,161.8L564.9,162L565.4,162L565.9,162.3L566.4,162.3L566.9,162L567.4,161.9L567.9,161.9L568.4,162L568.9,162L569.3,162.2L569.8,162.3L570.3,162.3L570.8,162.4L571.3,162.3L571.8,162.4L572.3,162.4L572.8,162.5L573.2,162.1L573.7,162.4L574.2,162.4L574.7,162.4L575.2,162.3L575.7,162.3L576.2,162.5L576.7,162.4L577.2,162.5L577.6,162.5L578.1,162.8L578.6,162.5L579.1,162.8L579.6,162.8L580.1,162.7L580.6,162.7L581.1,162.8L581.6,162.6L582,162.6L582.5,162.7L583,162.7L583.5,162.7L584,162.7L584.5,162.8L585,163L585.5,162.9L585.9,163L586.4,163.2L586.9,163.1L587.4,162.9L587.9,163L588.4,163L588.9,163L589.4,162.9L589.9,163.1L590.3,163.1L590.8,162.9L591.3,163L591.8,163.1L592.3,163.2L592.8,163.3L593.3,163.7L593.8,163.8L594.2,163.9L594.7,163.8L595.2,163.7L595.7,163.7L596.2,163.5L596.7,163.7L597.2,163.5L597.7,163.4L598.2,163.3L598.6,163.2L599.1,163L599.6,163.1L600.1,163.4L600.6,163.5L601.1,163.4L601.6,163.5L602.1,163.5L602.5,163.5L603,163.4L603.5,163.3L604,163L604.5,163L605,162.9L605.5,162.7L606,162.8L606.5,163.2L606.9,163.1L607.4,163.2L607.9,163.3L608.4,163.3L608.9,163.1L609.4,163.3L609.9,163.1L610.4,163.1L610.9,163L611.3,162.9L611.8,162.7L612.3,162.8L612.8,162.8L613.3,163L613.8,163.1L614.3,163L614.8,163L615.2,162.9L615.7,163L616.2,163.1L616.7,163.3L617.2,163.3L617.7,163.6L618.2,163.5L618.7,163.6L619.2,163.7L619.6,163.7L620.1,163.7L620.6,163.6L621.1,163.5L621.6,163.4L622.1,163.2L622.6,163.3L623.1,163.4L623.5,163.4L624,163.4L624.5,163.7L625,163.6L625.5,163.5L626,163.3L626.5,163.3L627,163.1L627.5,163.1L627.9,163.3L628.4,163.6L628.9,163.4L629.4,163.5L629.9,163.5L630.4,163.2L630.9,163L631.4,163.2L631.8,163.1L632.3,163.1L632.8,163.3L633.3,163.3L633.8,163.1L634.3,163.1L634.8,163.2L635.3,163.4L635.8,163.4L636.2,163.6L636.7,163.7L637.2,163.5L637.7,163.4L638.2,163.4L638.7,163.3L639.2,163.4L639.7,163.5L640.2,163.4L640.6,163.2L641.1,163.3L641.6,163.1L642.1,163.1L642.6,163.2L643.1,163.5L643.6,163.3L644.1,163.3L644.5,163.3L645,163.4L645.5,163.1L646,163.3L646.5,163.3L647,163.3L647.5,163L648,163.2L648.5,163.1L648.9,162.8L649.4,162.9L649.9,163.1L650.4,163L650.9,163L651.4,163.3L651.9,163.1L652.4,163L652.8,163.1L653.3,163L653.8,162.9L654.3,163L654.8,162.9L655.3,162.9L655.8,163L656.3,163L656.8,163.1L657.2,163L657.7,163.1L658.2,163L658.7,163L659.2,163L659.7,162.9L660.2,162.9L660.7,163.1L661.1,163.1L661.6,163.1L662.1,163.1L662.6,163L663.1,162.9L663.6,163L664.1,163.2L664.6,163.4L665.1,163.5L665.5,163.5L666,163.5L666.5,163.3L667,163.2L667.5,163L668,163.2L668.5,163.2L669,163.4L669.5,163.3L669.9,163.4L670.4,163.4L670.9,163.4L671.4,163.2L671.9,163.2L672.4,163.3L672.9,163L673.4,163L673.8,163L674.3,162.9L674.8,162.9L675.3,163L675.8,163.1" fill="none" stroke="#3b7ee0" stroke-width="0.9" stroke-linejoin="round"/>
<path d="M529.3,163.6L529.8,163.4L530.3,163.3L530.8,163.4L531.3,163L531.7,162.9L532.2,162.7L532.7,162.5L533.2,162.2L533.7,162.1L534.2,161.9L534.7,161.6L535.2,161.1L535.6,160.7L536.1,160.2L536.6,159.5L537.1,159L537.6,158.5L538.1,157.9L538.6,157.4L539.1,157.1L539.6,157.3L540,157.5L540.5,157.9L541,158.1L541.5,158.2L542,157.9L542.5,158L543,158.1L543.5,157.8L543.9,157.6L544.4,157.6L544.9,157.2L545.4,157.1L545.9,156.7L546.4,156.2L546.9,156L547.4,155.6L547.9,155L548.3,154.9L548.8,154.4L549.3,153.9L549.8,153.4L550.3,153L550.8,152.3L551.3,153.1L551.8,153.9L552.3,154.8L552.7,155.6L553.2,156.5L553.7,157.1L554.2,157.2L554.7,157.3L555.2,157.2L555.7,157.4L556.2,157.5L556.6,157.5L557.1,157.2L557.6,157.2L558.1,157.1L558.6,157.1L559.1,156.9L559.6,156.7L560.1,156.2L560.6,156.1L561,156.1L561.5,156.3L562,156.5L562.5,156.7L563,156.9L563.5,157.4L564,157.6L564.5,157.7L564.9,157.7L565.4,157.4L565.9,157.4L566.4,157.3L566.9,157.4L567.4,157.3L567.9,157.5L568.4,157.3L568.9,157.5L569.3,157.4L569.8,157.7L570.3,157.7L570.8,158L571.3,157.9L571.8,158.1L572.3,158.1L572.8,158.1L573.2,157.9L573.7,157.9L574.2,157.9L574.7,157.8L575.2,157.7L575.7,157.7L576.2,157.8L576.7,157.6L577.2,157.8L577.6,157.9L578.1,158.1L578.6,157.9L579.1,158.2L579.6,158.1L580.1,158L580.6,158L581.1,158.2L581.6,158.4L582,158.4L582.5,158.4L583,158.3L583.5,158.1L584,157.9L584.5,157.9L585,158.2L585.5,158.2L585.9,158.3L586.4,158.4L586.9,158.4L587.4,158.2L587.9,158.2L588.4,158.3L588.9,158.3L589.4,158.2L589.9,158.3L590.3,158.3L590.8,158.2L591.3,158.2L591.8,158.2L592.3,158.1L592.8,158.1L593.3,157.9L593.8,157.9L594.2,158L594.7,158.1L595.2,158L595.7,158L596.2,157.9L596.7,157.8L597.2,157.5L597.7,157.4L598.2,157.3L598.6,157.2L599.1,157L599.6,156.9L600.1,156.8L600.6,156.7L601.1,156.7L601.6,156.8L602.1,156.8L602.5,156.8L603,156.8L603.5,156.6L604,156.4L604.5,156.2L605,155.8L605.5,155.3L606,155.1L606.5,154.9L606.9,154.8L607.4,154.3L607.9,153.9L608.4,153.6L608.9,153.8L609.4,154L609.9,154.5L610.4,154.8L610.9,155.3L611.3,155.7L611.8,155.8L612.3,156L612.8,156.1L613.3,156.1L613.8,156.3L614.3,156.3L614.8,156.6L615.2,156.7L615.7,156.8L616.2,156.9L616.7,157.1L617.2,157.2L617.7,157.1L618.2,157.2L618.7,157.1L619.2,157.2L619.6,157.3L620.1,157.5L620.6,157.6L621.1,157.7L621.6,157.8L622.1,157.8L622.6,157.9L623.1,157.7L623.5,157.5L624,157.5L624.5,157.7L625,157.5L625.5,157.6L626,157.8L626.5,158L627,157.9L627.5,158.1L627.9,158.2L628.4,158L628.9,157.8L629.4,157.7L629.9,157.5L630.4,157.5L630.9,157.6L631.4,157.8L631.8,158L632.3,158.1L632.8,158.1L633.3,158.1L633.8,158L634.3,157.9L634.8,157.8L635.3,157.8L635.8,158L636.2,158.1L636.7,157.9L637.2,157.9L637.7,157.9L638.2,157.7L638.7,157.6L639.2,157.8L639.7,157.9L640.2,157.8L640.6,157.7L641.1,157.7L641.6,157.7L642.1,157.6L642.6,157.6L643.1,157.5L643.6,157.4L644.1,157.1L644.5,157L645,156.8L645.5,156.8L646,156.7L646.5,156.9L647,156.8L647.5,157L648,156.8L648.5,156.8L648.9,156.6L649.4,156.4L649.9,156.1L650.4,156.1L650.9,155.8L651.4,155.7L651.9,155.7L652.4,155.5L652.8,155.6L653.3,155.6L653.8,155.7L654.3,156L654.8,156.3L655.3,156.6L655.8,156.9L656.3,157.2L656.8,157L657.2,157L657.7,156.7L658.2,156.9L658.7,156.9L659.2,157L659.7,157.1L660.2,157.3L660.7,157.2L661.1,157.2L661.6,157.3L662.1,157.4L662.6,157.3L663.1,157.3L663.6,157.4L664.1,157.4L664.6,157.5L665.1,157.6L665.5,157.7L666,157.8L666.5,157.7L667,157.9L667.5,157.9L668,158L668.5,158.1L669,158.1L669.5,158.1L669.9,158.1L670.4,158L670.9,158L671.4,158.1L671.9,158.1L672.4,157.9L672.9,158.1L673.4,158L673.8,158L674.3,158.2L674.8,158.4L675.3,158.4L675.8,158.5" fill="none" stroke="#e8454a" stroke-width="0.9" stroke-linejoin="round"/>
<path d="M529.3,163L529.8,162.7L530.3,162.4L530.8,162L531.3,161.9L531.7,161.7L532.2,161.4L532.7,161.5L533.2,161.1L533.7,160.8L534.2,160.7L534.7,160.3L535.2,159.5L535.6,159.1L536.1,158.3L536.6,157.6L537.1,157L537.6,156.4L538.1,155.6L538.6,155.4L539.1,154.8L539.6,154.2L540,153.7L540.5,153.4L541,152.4L541.5,151.8L542,151L542.5,150.3L543,149.5L543.5,149.1L543.9,148.5L544.4,147.6L544.9,147L545.4,146.1L545.9,144.5L546.4,142.1L546.9,139.3L547.4,135.2L547.9,130.4L548.3,124.8L548.8,118.3L549.3,110.6L549.8,103L550.3,96L550.8,90.5L551.3,88.2L551.8,89.3L552.3,93.3L552.7,99.4L553.2,106.6L553.7,113.9L554.2,120.7L554.7,126.5L555.2,131.4L555.7,135.3L556.2,138.3L556.6,140.4L557.1,142L557.6,143.2L558.1,144L558.6,144.5L559.1,144.9L559.6,145L560.1,145L560.6,145L561,145.6L561.5,146L562,146.5L562.5,147.2L563,147.6L563.5,148L564,148.5L564.5,148.7L564.9,149.1L565.4,149.3L565.9,149.6L566.4,150L566.9,150.6L567.4,150.8L567.9,151.2L568.4,151.6L568.9,151.8L569.3,152.1L569.8,152.4L570.3,152.5L570.8,152.6L571.3,152.6L571.8,152.8L572.3,153.1L572.8,153.3L573.2,153.4L573.7,153.3L574.2,153.3L574.7,153.2L575.2,153.1L575.7,153.2L576.2,153.7L576.7,153.8L577.2,154L577.6,154.4L578.1,154.4L578.6,154.2L579.1,153.9L579.6,153.7L580.1,153.4L580.6,153.4L581.1,153.4L581.6,153.7L582,153.7L582.5,153.6L583,153.2L583.5,152.6L584,152L584.5,152.1L585,152.1L585.5,152.4L585.9,152.7L586.4,152.8L586.9,152.9L587.4,152.9L587.9,152.7L588.4,152.6L588.9,152.3L589.4,152L589.9,151.8L590.3,151.7L590.8,151.3L591.3,151L591.8,150.9L592.3,150.7L592.8,150.4L593.3,150L593.8,149.8L594.2,149.5L594.7,149.1L595.2,148.7L595.7,148.4L596.2,148L596.7,147.6L597.2,147.2L597.7,146.5L598.2,145.9L598.6,145.4L599.1,144.6L599.6,143.6L600.1,142.7L600.6,141.4L601.1,139.9L601.6,137.9L602.1,135.9L602.5,133.5L603,130L603.5,126L604,121.2L604.5,115.5L605,109L605.5,101.8L606,93.9L606.5,85.3L606.9,76.8L607.4,68.7L607.9,61.9L608.4,57.2L608.9,55.1L609.4,55.8L609.9,59.7L610.4,65.9L610.9,73.5L611.3,82L611.8,90.8L612.3,99.2L612.8,106.5L613.3,113.5L613.8,119.5L614.3,124.7L614.8,129L615.2,132.7L615.7,135.6L616.2,138.2L616.7,140.1L617.2,141.5L617.7,142.9L618.2,143.8L618.7,144.8L619.2,145.4L619.6,146.3L620.1,146.9L620.6,147.6L621.1,147.9L621.6,148.4L622.1,148.8L622.6,149L623.1,149L623.5,149.1L624,149.5L624.5,149.8L625,150.4L625.5,150.8L626,151.3L626.5,151.4L627,151.6L627.5,151.3L627.9,151.3L628.4,151.4L628.9,151.4L629.4,151.2L629.9,151.3L630.4,151.3L630.9,151.1L631.4,151.1L631.8,151.2L632.3,151.2L632.8,151.3L633.3,151.3L633.8,151.5L634.3,151.4L634.8,151.5L635.3,151.2L635.8,151.2L636.2,151.1L636.7,151L637.2,150.9L637.7,150.9L638.2,150.8L638.7,150.7L639.2,150.6L639.7,150.7L640.2,150.5L640.6,150.2L641.1,150.1L641.6,149.7L642.1,149L642.6,148.4L643.1,147.8L643.6,146.8L644.1,146L644.5,144.9L645,143.8L645.5,142.6L646,141L646.5,139.2L647,137.5L647.5,135.5L648,133.1L648.5,130.9L648.9,128.6L649.4,126.4L649.9,124.3L650.4,122.7L650.9,121.5L651.4,120.8L651.9,120.7L652.4,121.4L652.8,122.4L653.3,124L653.8,125.8L654.3,127.8L654.8,130L655.3,132.4L655.8,134.6L656.3,137L656.8,139.1L657.2,141.1L657.7,142.9L658.2,144.4L658.7,145.7L659.2,147.1L659.7,148.1L660.2,149L660.7,149.8L661.1,150.6L661.6,151L662.1,151.6L662.6,152L663.1,152.5L663.6,152.6L664.1,152.7L664.6,152.9L665.1,153.1L665.5,153.3L666,153.6L666.5,153.8L667,154.2L667.5,154.3L668,154.7L668.5,154.9L669,155.5L669.5,155.7L669.9,155.9L670.4,156L670.9,156.2L671.4,156.3L671.9,156.5L672.4,156.8L672.9,156.8L673.4,156.8L673.8,156.9L674.3,157L674.8,157L675.3,157.4L675.8,157.5" fill="none" stroke="#555555" stroke-width="0.9" stroke-linejoin="round"/>
<path d="M529.3,165.2L529.8,165.1L530.3,164.9L530.8,164.6L531.3,164.4L531.7,164.2L532.2,164L532.7,163.8L533.2,163.6L533.7,163.4L534.2,163.2L534.7,162.9L535.2,162.4L535.6,162.2L536.1,161.8L536.6,161.4L537.1,161L537.6,160.8L538.1,160.5L538.6,160.1L539.1,159.6L539.6,159L540,158.5L540.5,157.7L541,157.1L541.5,156.6L542,155.8L542.5,154.9L543,154.1L543.5,153L543.9,151.9L544.4,150.8L544.9,149.5L545.4,147.6L545.9,145.2L546.4,141.7L546.9,137.2L547.4,131.4L547.9,124.3L548.3,115.6L548.8,105.5L549.3,94.5L549.8,83.3L550.3,72.9L550.8,65.2L551.3,61.7L551.8,63.2L552.3,69.4L552.7,78.8L553.2,89.6L553.7,100.6L554.2,111.1L554.7,120.2L555.2,127.9L555.7,134.2L556.2,139.1L556.6,142.8L557.1,145.5L557.6,147.6L558.1,149.1L558.6,150.3L559.1,151.2L559.6,152L560.1,152.6L560.6,153.1L561,153.5L561.5,153.9L562,154.1L562.5,154.4L563,154.7L563.5,154.9L564,155.1L564.5,155.3L564.9,155.6L565.4,155.7L565.9,155.9L566.4,156.1L566.9,156.3L567.4,156.3L567.9,156.4L568.4,156.6L568.9,156.5L569.3,156.5L569.8,156.5L570.3,156.6L570.8,156.6L571.3,156.7L571.8,156.6L572.3,156.7L572.8,156.6L573.2,156.6L573.7,156.7L574.2,156.9L574.7,156.9L575.2,156.9L575.7,157L576.2,157L576.7,157L577.2,157L577.6,157.1L578.1,157L578.6,157L579.1,157L579.6,157.1L580.1,157L580.6,157.1L581.1,156.9L581.6,156.9L582,156.8L582.5,156.9L583,156.9L583.5,156.9L584,156.8L584.5,156.8L585,156.8L585.5,156.6L585.9,156.5L586.4,156.5L586.9,156.6L587.4,156.5L587.9,156.5L588.4,156.6L588.9,156.4L589.4,156.2L589.9,155.9L590.3,155.8L590.8,155.6L591.3,155.3L591.8,155.1L592.3,155L592.8,154.8L593.3,154.5L593.8,154.4L594.2,154.2L594.7,153.9L595.2,153.7L595.7,153.4L596.2,153L596.7,152.5L597.2,152.1L597.7,151.5L598.2,150.9L598.6,150.3L599.1,149.8L599.6,148.9L600.1,148L600.6,146.9L601.1,145.5L601.6,143.6L602.1,141.2L602.5,138.3L603,134.5L603.5,130L604,124.6L604.5,118.1L605,110.4L605.5,101.5L606,91.6L606.5,80.8L606.9,69.4L607.4,58.2L607.9,48.1L608.4,40.1L608.9,35.5L609.4,35L609.9,38.7L610.4,46L610.9,55.8L611.3,66.7L611.8,78L612.3,89L612.8,99L613.3,108L613.8,115.8L614.3,122.3L614.8,127.7L615.2,132.2L615.7,135.8L616.2,138.6L616.7,140.9L617.2,142.7L617.7,144.2L618.2,145.3L618.7,146.3L619.2,147.1L619.6,147.8L620.1,148.3L620.6,148.9L621.1,149.3L621.6,149.7L622.1,150L622.6,150.4L623.1,150.7L623.5,151L624,151.2L624.5,151.5L625,151.7L625.5,151.8L626,152L626.5,152L627,152.1L627.5,152.1L627.9,152.2L628.4,152.1L628.9,152.3L629.4,152.3L629.9,152.4L630.4,152.4L630.9,152.6L631.4,152.6L631.8,152.6L632.3,152.6L632.8,152.6L633.3,152.7L633.8,152.5L634.3,152.5L634.8,152.6L635.3,152.6L635.8,152.5L636.2,152.5L636.7,152.5L637.2,152.4L637.7,152.2L638.2,152.2L638.7,152L639.2,151.8L639.7,151.7L640.2,151.7L640.6,151.6L641.1,151.3L641.6,151L642.1,150.6L642.6,149.9L643.1,149.4L643.6,148.6L644.1,147.6L644.5,146.4L645,145L645.5,143.2L646,141.3L646.5,139.2L647,136.7L647.5,134L648,130.9L648.5,127.8L648.9,124.6L649.4,121.3L649.9,118.1L650.4,115.4L650.9,113.2L651.4,111.6L651.9,110.9L652.4,111.3L652.8,112.4L653.3,114.5L653.8,117.2L654.3,120.2L654.8,123.6L655.3,127L655.8,130.3L656.3,133.6L656.8,136.7L657.2,139.4L657.7,142L658.2,144.1L658.7,146L659.2,147.5L659.7,148.9L660.2,150.1L660.7,151L661.1,151.8L661.6,152.3L662.1,152.9L662.6,153.3L663.1,153.7L663.6,154L664.1,154.3L664.6,154.5L665.1,154.7L665.5,154.7L666,155L666.5,155.2L667,155.4L667.5,155.6L668,155.7L668.5,155.8L669,155.9L669.5,156.1L669.9,156.3L670.4,156.5L670.9,156.6L671.4,156.6L671.9,156.6L672.4,156.7L672.9,156.7L673.4,156.8L673.8,157L674.3,157.1L674.8,157.2L675.3,157.3L675.8,157.4" fill="none" stroke="#2eb06a" stroke-width="0.9" stroke-linejoin="round"/>
<path d="M553.7,13.0v2M553.7,170.4v-2M578.1,13.0v3.5M578.1,170.4v-3.5M602.5,13.0v2M602.5,170.4v-2M627,13.0v3.5M627,170.4v-3.5M651.4,13.0v2M651.4,170.4v-2M529.3,147.9h-2M675.8,147.9h-2M529.3,125.4h-3.5M675.8,125.4h-3.5M529.3,102.9h-2M675.8,102.9h-2M529.3,80.5h-3.5M675.8,80.5h-3.5M529.3,58h-2M675.8,58h-2M529.3,35.5h-3.5M675.8,35.5h-3.5M529.3,170.4v3M553.7,170.4v1.5M578.1,170.4v3M602.5,170.4v1.5M627,170.4v3M651.4,170.4v1.5M675.8,170.4v3M529.3,170.4h-3M529.3,125.4h-3M529.3,80.5h-3M529.3,35.5h-3" stroke="#333" stroke-width="0.9" fill="none"/>
<rect x="529.3" y="13.0" width="146.5" height="157.4" fill="none" stroke="#999" stroke-width="1.1"/>
<path d="M529.3,13.0V170.4H675.8" fill="none" stroke="#333" stroke-width="1"/>
<text x="529.3" y="183" font-size="9.5" text-anchor="middle" fill="#222" >50</text>
<text x="578.1" y="183" font-size="9.5" text-anchor="middle" fill="#222" >100</text>
<text x="627" y="183" font-size="9.5" text-anchor="middle" fill="#222" >150</text>
<text x="675.8" y="183" font-size="9.5" text-anchor="middle" fill="#222" >200</text>
<text x="524.2" y="173.8" font-size="9.5" text-anchor="end" fill="#222" >0</text>
<text x="524.2" y="128.8" font-size="9.5" text-anchor="end" fill="#222" >1</text>
<text x="524.2" y="83.9" font-size="9.5" text-anchor="end" fill="#222" >2</text>
<text x="524.2" y="38.9" font-size="9.5" text-anchor="end" fill="#222" >3</text>
<text transform="translate(513.6,93.3) rotate(-90)" font-size="10.4" text-anchor="middle" fill="#222">Counts (1000s)</text>
<text x="600.6" y="195.8" font-size="10" text-anchor="middle" fill="#222">Δν (cm<tspan font-size="6.5" dy="-3.5">-1</tspan><tspan dy="3.5">)</tspan></text>
<line x1="624" y1="22.5" x2="642.3" y2="22.5" stroke="#888" stroke-width="1"/>
<text x="644.6" y="25.5" font-size="8" text-anchor="start" fill="#222" >3</text>
<line x1="624" y1="32.5" x2="642.3" y2="32.5" stroke="#f07070" stroke-width="1"/>
<text x="644.6" y="35.5" font-size="8" text-anchor="start" fill="#222" >2</text>
<line x1="624" y1="42.5" x2="642.3" y2="42.5" stroke="#5a8fe0" stroke-width="1"/>
<text x="644.6" y="45.5" font-size="8" text-anchor="start" fill="#222" >1</text>
<line x1="624" y1="52.5" x2="642.3" y2="52.5" stroke="#3cb878" stroke-width="1"/>
<text x="644.6" y="55.5" font-size="8" text-anchor="start" fill="#222" >Pristine</text>
<text x="541.8" y="56.4" font-size="14.5" font-family="Liberation Serif, serif" font-style="italic" fill="#111">A</text>
<text x="551.8" y="50.9" font-size="9.8" font-family="Liberation Serif, serif" fill="#111">1</text>
<text x="552.3" y="59.6" font-size="9.8" font-family="Liberation Serif, serif" fill="#111">1</text>
<text x="557.4" y="59.0" font-size="12" font-family="Liberation Serif, serif" font-style="italic" fill="#111">g</text>
<text x="586.8" y="36.0" font-size="14.5" font-family="Liberation Serif, serif" font-style="italic" fill="#111">E</text>
<text x="596.8" y="30.5" font-size="9.8" font-family="Liberation Serif, serif" fill="#111">2</text>
<text x="596.0" y="37.8" font-size="12" font-family="Liberation Serif, serif" font-style="italic" fill="#111">g</text>
<text x="641.9" y="100.8" font-size="14.5" font-family="Liberation Serif, serif" font-style="italic" fill="#111">A</text>
<text x="651.9" y="95.3" font-size="9.8" font-family="Liberation Serif, serif" fill="#111">2</text>
<text x="652.4" y="104.0" font-size="9.8" font-family="Liberation Serif, serif" fill="#111">1</text>
<text x="657.5" y="103.4" font-size="12" font-family="Liberation Serif, serif" font-style="italic" fill="#111">g</text>
<g stroke-width="0.6" stroke-linejoin="round">
<path d="M32.1,234.6L31.3,235.4L31.3,234.6ZM32.6,235.4L31.3,235.4L32.1,234.6ZM31.3,235.4L32.6,235.4L39.6,243.3L37.7,245.2L31.3,238.0ZM41.4,251.5L39.1,251.5L37.7,245.2L39.6,243.3ZM39.1,251.5L41.4,251.5L42.1,256.8L40.1,258.9ZM40.4,267.7L38.7,267.7L40.1,258.9L42.1,256.8ZM38.7,267.7L40.4,267.7L41.4,273.7L39.9,275.2ZM47.4,274.7L47.4,276.4L39.9,275.2L41.4,273.7ZM54.1,277.1L52.9,278.4L47.4,276.4L47.4,274.7ZM63.6,277.5L63.6,278.8L52.9,278.4L54.1,277.1ZM69.4,278.0L68.2,279.2L63.6,278.8L63.6,277.5ZM79.7,278.8L79.7,280.1L68.2,279.2L69.4,278.0ZM84.9,278.6L83.6,279.9L79.7,280.1L79.7,278.8ZM95.4,283.8L91.3,283.8L83.6,279.9L84.9,278.6ZM91.3,283.8L95.4,283.8L95.8,283.9L94.9,284.8ZM95.9,284.0L95.9,285.6L94.9,284.8L95.8,283.9ZM105.5,290.3L104.6,291.2L95.9,285.6L95.9,284.0ZM107.3,299.9L106.1,299.9L104.6,291.2L105.5,290.3ZM106.1,299.9L107.3,299.9L108.2,303.7L107.3,304.6ZM109.8,316.0L108.8,316.0L107.3,304.6L108.2,303.7ZM108.8,316.0L109.8,316.0L109.4,318.7L108.1,319.9ZM107.2,332.2L106.2,332.2L108.1,319.9L109.4,318.7ZM106.2,332.2L107.2,332.2L102.1,342.1L99.9,344.3ZM100.5,348.3L98.9,348.3L99.9,344.3L102.1,342.1ZM95.9,355.8L95.9,359.8L93.4,364.4L91.3,364.4ZM98.9,348.3L100.5,348.3L95.9,359.8L95.9,355.8Z" fill="#b1ff00" stroke="#b1ff00"/>
<path d="M34.2,232.5L32.1,234.6L31.3,234.6L31.3,232.5ZM36.2,235.4L32.6,235.4L32.1,234.6L34.2,232.5ZM32.6,235.4L36.2,235.4L41.5,241.4L39.6,243.3ZM43.7,251.5L41.4,251.5L39.6,243.3L41.5,241.4ZM41.4,251.5L43.7,251.5L44.2,254.8L42.1,256.8ZM42.1,267.7L40.4,267.7L42.1,256.8L44.2,254.8ZM40.4,267.7L42.1,267.7L42.9,272.3L41.4,273.7ZM47.4,273.0L47.4,274.7L41.4,273.7L42.9,272.3ZM55.4,275.9L54.1,277.1L47.4,274.7L47.4,273.0ZM63.6,276.2L63.6,277.5L54.1,277.1L55.4,275.9ZM70.6,276.8L69.4,278.0L63.6,277.5L63.6,276.2ZM79.7,277.5L79.7,278.8L69.4,278.0L70.6,276.8ZM86.3,277.2L84.9,278.6L79.7,278.8L79.7,277.5ZM95.9,282.0L95.9,283.8L95.4,283.8L84.9,278.6L86.3,277.2ZM97.6,282.0L95.9,283.8L95.9,282.0ZM98.0,283.8L95.9,283.8L97.6,282.0ZM95.4,283.8L95.9,283.8L95.8,283.9ZM95.9,283.8L95.9,284.0L95.8,283.9ZM95.9,283.8L98.0,283.8L106.5,289.3L105.5,290.3L95.9,284.0ZM108.4,299.9L107.3,299.9L105.5,290.3L106.5,289.3ZM107.3,299.9L108.4,299.9L109.1,302.8L108.2,303.7ZM110.8,316.0L109.8,316.0L108.2,303.7L109.1,302.8ZM109.8,316.0L110.8,316.0L110.6,317.4L109.4,318.7ZM108.2,332.2L107.2,332.2L109.4,318.7L110.6,317.4ZM107.2,332.2L108.2,332.2L104.2,340.0L102.1,342.1ZM102.1,348.3L100.5,348.3L102.1,342.1L104.2,340.0ZM95.9,359.8L95.9,363.9L95.6,364.4L93.4,364.4ZM100.5,348.3L102.1,348.3L95.9,363.9L95.9,359.8Z" fill="#d1ff00" stroke="#d1ff00"/>
<path d="M36.4,230.3L34.2,232.5L31.3,232.5L31.3,230.3ZM39.8,235.4L36.2,235.4L34.2,232.5L36.4,230.3ZM36.2,235.4L39.8,235.4L43.4,239.5L41.5,241.4ZM46.0,251.5L43.7,251.5L41.5,241.4L43.4,239.5ZM43.7,251.5L46.0,251.5L46.2,252.8L44.2,254.8ZM43.8,267.7L42.1,267.7L44.2,254.8L46.2,252.8ZM42.1,267.7L43.8,267.7L44.3,270.8L42.9,272.3ZM47.4,271.3L47.4,273.0L42.9,272.3L44.3,270.8ZM56.6,274.6L55.4,275.9L47.4,273.0L47.4,271.3ZM63.6,274.9L63.6,276.2L55.4,275.9L56.6,274.6ZM71.8,275.6L70.6,276.8L63.6,276.2L63.6,274.9ZM79.7,276.2L79.7,277.5L70.6,276.8L71.8,275.6ZM87.6,275.9L86.3,277.2L79.7,277.5L79.7,276.2ZM95.9,280.0L95.9,282.0L86.3,277.2L87.6,275.9ZM99.7,280.0L97.6,282.0L95.9,282.0L95.9,280.0ZM100.5,283.8L98.0,283.8L97.6,282.0L99.7,280.0ZM98.0,283.8L100.5,283.8L107.5,288.3L106.5,289.3ZM109.6,299.9L108.4,299.9L106.5,289.3L107.5,288.3ZM108.4,299.9L109.6,299.9L110.1,301.9L109.1,302.8ZM111.9,316.0L110.8,316.0L109.1,302.8L110.1,301.9ZM110.8,316.0L111.9,316.0L111.9,316.2L110.6,317.4ZM109.3,332.2L108.2,332.2L110.6,317.4L111.9,316.2ZM108.2,332.2L109.3,332.2L106.4,337.8L104.2,340.0ZM103.7,348.3L102.1,348.3L104.2,340.0L106.4,337.8ZM95.9,363.9L95.9,364.4L95.6,364.4ZM102.1,348.3L103.7,348.3L98.2,362.1L95.9,364.4L95.9,363.9ZM98.0,364.4L95.9,364.4L98.2,362.1Z" fill="#f1ff00" stroke="#f1ff00"/>
<path d="M38.6,228.2L36.4,230.3L31.3,230.3L31.3,228.2ZM43.4,235.4L39.8,235.4L36.4,230.3L38.6,228.2ZM39.8,235.4L43.4,235.4L45.3,237.6L43.4,239.5ZM47.4,247.6L47.4,251.5L46.0,251.5L43.4,239.5L45.3,237.6ZM48.5,250.5L47.4,251.5L47.4,247.6ZM48.4,251.5L47.4,251.5L48.5,250.5ZM46.0,251.5L47.4,251.5L46.2,252.8ZM47.4,251.5L47.4,255.5L45.5,267.7L43.8,267.7L46.2,252.8ZM47.4,251.5L48.4,251.5L47.4,255.5ZM43.8,267.7L45.5,267.7L45.8,269.3L44.3,270.8ZM47.4,269.6L47.4,271.3L44.3,270.8L45.8,269.3ZM57.8,273.4L56.6,274.6L47.4,271.3L47.4,269.6ZM63.6,273.6L63.6,274.9L56.6,274.6L57.8,273.4ZM73.0,274.4L71.8,275.6L63.6,274.9L63.6,273.6ZM79.7,274.9L79.7,276.2L71.8,275.6L73.0,274.4ZM89.0,274.6L87.6,275.9L79.7,276.2L79.7,274.9ZM95.9,278.0L95.9,280.0L87.6,275.9L89.0,274.6ZM101.7,278.0L99.7,280.0L95.9,280.0L95.9,278.0ZM103.0,283.8L100.5,283.8L99.7,280.0L101.7,278.0ZM100.5,283.8L103.0,283.8L108.5,287.3L107.5,288.3ZM110.7,299.9L109.6,299.9L107.5,288.3L108.5,287.3ZM109.6,299.9L110.7,299.9L111.0,301.0L110.1,301.9ZM112.0,309.0L112.0,316.0L111.9,316.0L110.1,301.9L111.0,301.0ZM114.2,313.9L112.0,316.0L112.0,309.0ZM114.4,316.0L112.0,316.0L114.2,313.9ZM111.9,316.0L112.0,316.0L111.9,316.2ZM112.0,316.0L112.0,321.6L110.3,332.2L109.3,332.2L111.9,316.2ZM112.0,316.0L114.4,316.0L112.0,321.6ZM109.3,332.2L110.3,332.2L108.5,335.7L106.4,337.8ZM105.4,348.3L103.7,348.3L106.4,337.8L108.5,335.7ZM103.7,348.3L105.4,348.3L100.9,359.4L98.2,362.1ZM100.5,364.4L98.0,364.4L98.2,362.1L100.9,359.4Z" fill="#ffeb00" stroke="#ffeb00"/>
<path d="M40.7,226.0L38.6,228.2L31.3,228.2L31.3,226.0ZM47.0,235.4L43.4,235.4L38.6,228.2L40.7,226.0ZM43.4,235.4L47.0,235.4L47.2,235.7L45.3,237.6ZM47.4,236.8L47.4,247.6L45.3,237.6L47.2,235.7ZM51.5,247.5L48.5,250.5L47.4,247.6L47.4,236.8ZM51.1,251.5L48.4,251.5L48.5,250.5L51.5,247.5ZM47.4,255.5L47.4,266.3L47.2,267.7L45.5,267.7ZM48.4,251.5L51.1,251.5L47.4,266.3L47.4,255.5ZM45.5,267.7L47.2,267.7L47.3,267.9L45.8,269.3ZM47.4,267.9L47.4,269.6L45.8,269.3L47.3,267.9ZM59.1,272.2L57.8,273.4L47.4,269.6L47.4,267.9ZM63.6,272.3L63.6,273.6L57.8,273.4L59.1,272.2ZM74.2,273.2L73.0,274.4L63.6,273.6L63.6,272.3ZM79.7,273.6L79.7,274.9L73.0,274.4L74.2,273.2ZM90.3,273.2L89.0,274.6L79.7,274.9L79.7,273.6ZM95.9,276.0L95.9,278.0L89.0,274.6L90.3,273.2ZM103.7,276.0L101.7,278.0L95.9,278.0L95.9,276.0ZM105.5,283.8L103.0,283.8L101.7,278.0L103.7,276.0ZM103.0,283.8L105.5,283.8L109.4,286.4L108.5,287.3ZM111.9,299.9L110.7,299.9L108.5,287.3L109.4,286.4ZM110.7,299.9L111.9,299.9L111.9,300.0L111.0,301.0ZM112.0,301.0L112.0,309.0L111.0,301.0L111.9,300.0ZM116.7,311.4L114.2,313.9L112.0,309.0L112.0,301.0ZM117.1,316.0L114.4,316.0L114.2,313.9L116.7,311.4ZM112.0,321.6L112.0,328.1L111.4,332.2L110.3,332.2ZM114.4,316.0L117.1,316.0L112.0,328.1L112.0,321.6ZM110.3,332.2L111.4,332.2L110.7,333.5L108.5,335.7ZM107.0,348.3L105.4,348.3L108.5,335.7L110.7,333.5ZM105.4,348.3L107.0,348.3L103.6,356.7L100.9,359.4ZM103.0,364.4L100.5,364.4L100.9,359.4L103.6,356.7Z" fill="#ffc900" stroke="#ffc900"/>
<path d="M42.9,223.9L40.7,226.0L31.3,226.0L31.3,223.9ZM47.4,230.7L47.4,235.4L47.0,235.4L40.7,226.0L42.9,223.9ZM50.6,232.3L47.4,235.4L47.4,230.7ZM51.0,235.4L47.4,235.4L50.6,232.3ZM47.0,235.4L47.4,235.4L47.2,235.7ZM47.4,235.4L47.4,236.8L47.2,235.7ZM47.4,235.4L51.0,235.4L54.4,244.6L51.5,247.5L47.4,236.8ZM53.8,251.5L51.1,251.5L51.5,247.5L54.4,244.6ZM47.4,266.3L47.4,267.7L47.2,267.7ZM51.1,251.5L53.8,251.5L50.6,264.5L47.4,267.7L47.4,266.3ZM51.5,267.7L47.4,267.7L50.6,264.5ZM47.2,267.7L47.4,267.7L47.3,267.9ZM47.4,267.7L47.4,267.9L47.3,267.9ZM47.4,267.7L51.5,267.7L60.3,270.9L59.1,272.2L47.4,267.9ZM63.6,271.1L63.6,272.3L59.1,272.2L60.3,270.9ZM75.4,272.0L74.2,273.2L63.6,272.3L63.6,271.1ZM79.7,272.3L79.7,273.6L74.2,273.2L75.4,272.0ZM91.7,271.9L90.3,273.2L79.7,273.6L79.7,272.3ZM95.9,274.0L95.9,276.0L90.3,273.2L91.7,271.9ZM105.7,274.0L103.7,276.0L95.9,276.0L95.9,274.0ZM108.0,283.8L105.5,283.8L103.7,276.0L105.7,274.0ZM105.5,283.8L108.0,283.8L110.4,285.4L109.4,286.4ZM112.0,294.3L112.0,299.9L111.9,299.9L109.4,286.4L110.4,285.4ZM116.0,295.9L112.0,299.9L112.0,294.3ZM115.1,299.9L112.0,299.9L116.0,295.9ZM111.9,299.9L112.0,299.9L111.9,300.0ZM112.0,299.9L112.0,301.0L111.9,300.0ZM112.0,299.9L115.1,299.9L119.2,308.9L116.7,311.4L112.0,301.0ZM119.7,316.0L117.1,316.0L116.7,311.4L119.2,308.9ZM112.0,328.1L112.0,332.2L111.4,332.2ZM117.1,316.0L119.7,316.0L113.7,330.5L112.0,332.2L112.0,328.1ZM114.0,332.2L112.0,332.2L113.7,330.5ZM111.4,332.2L112.0,332.2L110.7,333.5ZM112.0,332.2L112.0,334.5L108.6,348.3L107.0,348.3L110.7,333.5ZM112.0,332.2L114.0,332.2L112.0,334.5ZM107.0,348.3L108.6,348.3L106.3,354.0L103.6,356.7ZM105.5,364.4L103.0,364.4L103.6,356.7L106.3,354.0Z" fill="#ffa700" stroke="#ffa700"/>
<path d="M45.0,221.7L42.9,223.9L31.3,223.9L31.3,221.7ZM47.4,225.4L47.4,230.7L42.9,223.9L45.0,221.7ZM54.2,228.7L50.6,232.3L47.4,230.7L47.4,225.4ZM55.0,235.4L51.0,235.4L50.6,232.3L54.2,228.7ZM51.0,235.4L55.0,235.4L57.3,241.7L54.4,244.6ZM56.5,251.5L53.8,251.5L54.4,244.6L57.3,241.7ZM53.8,251.5L56.5,251.5L54.2,261.0L50.6,264.5ZM56.1,267.7L51.5,267.7L50.6,264.5L54.2,261.0ZM51.5,267.7L56.1,267.7L61.6,269.7L60.3,270.9ZM63.6,269.8L63.6,271.1L60.3,270.9L61.6,269.7ZM76.6,270.8L75.4,272.0L63.6,271.1L63.6,269.8ZM79.7,271.1L79.7,272.3L75.4,272.0L76.6,270.8ZM93.0,270.5L91.7,271.9L79.7,272.3L79.7,271.1ZM95.9,272.0L95.9,274.0L91.7,271.9L93.0,270.5ZM107.7,272.0L105.7,274.0L95.9,274.0L95.9,272.0ZM110.5,283.8L108.0,283.8L105.7,274.0L107.7,272.0ZM108.0,283.8L110.5,283.8L111.4,284.4L110.4,285.4ZM112.0,287.9L112.0,294.3L110.4,285.4L111.4,284.4ZM120.6,291.3L116.0,295.9L112.0,294.3L112.0,287.9ZM118.7,299.9L115.1,299.9L116.0,295.9L120.6,291.3ZM115.1,299.9L118.7,299.9L121.6,306.4L119.2,308.9ZM122.4,316.0L119.7,316.0L119.2,308.9L121.6,306.4ZM119.7,316.0L122.4,316.0L118.3,325.8L113.7,330.5ZM119.4,332.2L114.0,332.2L113.7,330.5L118.3,325.8ZM112.0,334.5L112.0,341.0L110.2,348.3L108.6,348.3ZM114.0,332.2L119.4,332.2L112.0,341.0L112.0,334.5ZM108.6,348.3L110.2,348.3L109.0,351.3L106.3,354.0ZM108.0,364.4L105.5,364.4L106.3,354.0L109.0,351.3Z" fill="#ff8600" stroke="#ff8600"/>
<path d="M47.2,219.6L45.0,221.7L31.3,221.7L31.3,219.6ZM47.4,220.0L47.4,225.4L45.0,221.7L47.2,219.6ZM57.7,225.1L54.2,228.7L47.4,225.4L47.4,220.0ZM59.0,235.4L55.0,235.4L54.2,228.7L57.7,225.1ZM79.7,233.3L79.7,235.4L77.6,235.4ZM83.2,232.0L79.7,235.4L79.7,233.3ZM83.2,235.4L79.7,235.4L83.2,232.0ZM55.0,235.4L59.0,235.4L60.3,238.7L57.3,241.7ZM59.2,251.5L56.5,251.5L57.3,241.7L60.3,238.7ZM77.6,235.4L79.7,235.4L78.2,236.9ZM79.7,235.4L79.7,236.9L78.2,236.9ZM79.7,235.4L83.2,235.4L79.7,236.9ZM56.5,251.5L59.2,251.5L57.7,257.4L54.2,261.0ZM60.7,267.7L56.1,267.7L54.2,261.0L57.7,257.4ZM56.1,267.7L60.7,267.7L62.8,268.4L61.6,269.7ZM63.6,268.5L63.6,269.8L61.6,269.7L62.8,268.4ZM77.8,269.6L76.6,270.8L63.6,269.8L63.6,268.5ZM79.7,269.8L79.7,271.1L76.6,270.8L77.8,269.6ZM94.4,269.2L93.0,270.5L79.7,271.1L79.7,269.8ZM95.9,269.9L95.9,272.0L93.0,270.5L94.4,269.2ZM109.7,269.9L107.7,272.0L95.9,272.0L95.9,269.9ZM112.0,279.8L112.0,283.8L110.5,283.8L107.7,272.0L109.7,269.9ZM118.0,277.8L112.0,283.8L112.0,279.8ZM118.0,283.8L112.0,283.8L118.0,277.8ZM110.5,283.8L112.0,283.8L111.4,284.4ZM112.0,283.8L112.0,287.9L111.4,284.4ZM112.0,283.8L118.0,283.8L125.3,286.7L120.6,291.3L112.0,287.9ZM122.3,299.9L118.7,299.9L120.6,291.3L125.3,286.7ZM118.7,299.9L122.3,299.9L124.1,304.0L121.6,306.4ZM125.1,316.0L122.4,316.0L121.6,306.4L124.1,304.0ZM122.4,316.0L125.1,316.0L123.0,321.2L118.3,325.8ZM124.8,332.2L119.4,332.2L118.3,325.8L123.0,321.2ZM112.0,341.0L112.0,347.4L111.8,348.3L110.2,348.3ZM119.4,332.2L124.8,332.2L112.0,347.4L112.0,341.0ZM176.6,344.3L176.6,348.3L171.0,348.3ZM110.2,348.3L111.8,348.3L111.7,348.6L109.0,351.3ZM110.5,364.4L108.0,364.4L109.0,351.3L111.7,348.6ZM171.0,348.3L176.6,348.3L171.0,353.9ZM176.6,348.3L176.6,353.9L171.0,353.9Z" fill="#ff7000" stroke="#ff7000"/>
<path d="M31.3,219.3L47.4,219.3L47.2,219.6L31.3,219.6ZM47.4,219.3L47.4,220.0L47.2,219.6ZM47.4,219.3L56.8,219.3L61.3,221.6L57.7,225.1L47.4,220.0ZM63.1,235.4L59.0,235.4L57.7,225.1L61.3,221.6ZM79.7,220.9L79.7,233.3L77.6,235.4L65.2,235.4ZM83.9,219.3L95.9,219.3L83.2,232.0L79.7,233.3L79.7,220.9ZM95.9,219.3L95.9,235.4L83.2,235.4L83.2,232.0ZM95.9,219.3L101.9,219.3L101.9,229.5L95.9,235.4ZM101.9,235.4L95.9,235.4L101.9,229.5ZM59.0,235.4L63.1,235.4L63.2,235.8L60.3,238.7ZM61.9,251.5L59.2,251.5L60.3,238.7L63.2,235.8ZM65.2,235.4L77.6,235.4L78.2,236.9L69.2,245.9ZM79.7,236.9L79.7,245.9L69.2,245.9L78.2,236.9ZM83.2,235.4L95.9,235.4L89.9,241.4L79.7,245.9L79.7,236.9ZM95.9,235.4L95.9,241.4L89.9,241.4ZM95.9,235.4L101.9,235.4L95.9,241.4ZM59.2,251.5L61.9,251.5L61.3,253.8L57.7,257.4ZM63.6,261.7L63.6,267.7L60.7,267.7L57.7,257.4L61.3,253.8ZM69.6,261.7L63.6,267.7L63.6,261.7ZM69.6,267.7L63.6,267.7L69.6,261.7ZM128.2,264.7L128.2,267.7L116.2,267.7ZM140.1,255.7L128.2,267.7L128.2,264.7ZM140.1,267.7L128.2,267.7L140.1,255.7ZM60.7,267.7L63.6,267.7L62.8,268.4ZM63.6,267.7L63.6,268.5L62.8,268.4ZM63.6,267.7L69.6,267.7L79.0,268.4L77.8,269.6L63.6,268.5ZM79.7,268.5L79.7,269.8L77.8,269.6L79.0,268.4ZM95.7,267.8L94.4,269.2L79.7,269.8L79.7,268.5ZM95.9,267.9L95.9,269.9L94.4,269.2L95.7,267.8ZM111.8,267.9L109.7,269.9L95.9,269.9L95.9,267.9ZM112.0,269.1L112.0,279.8L109.7,269.9L111.8,267.9ZM116.2,267.7L128.2,267.7L118.0,277.8L112.0,279.8L112.0,269.1ZM128.2,267.7L128.2,283.8L118.0,283.8L118.0,277.8ZM128.2,267.7L140.1,267.7L140.1,271.9L128.2,283.8ZM140.1,283.8L128.2,283.8L140.1,271.9ZM118.0,283.8L128.2,283.8L125.3,286.7ZM128.2,283.8L128.2,289.8L125.9,299.9L122.3,299.9L125.3,286.7ZM128.2,283.8L140.1,283.8L128.2,289.8ZM122.3,299.9L125.9,299.9L126.6,301.5L124.1,304.0ZM127.8,316.0L125.1,316.0L124.1,304.0L126.6,301.5ZM125.1,316.0L127.8,316.0L127.6,316.6L123.0,321.2ZM128.2,320.2L128.2,332.2L124.8,332.2L123.0,321.2L127.6,316.6ZM132.1,328.2L128.2,332.2L128.2,320.2ZM132.1,332.2L128.2,332.2L132.1,328.2ZM112.0,347.4L112.0,348.3L111.8,348.3ZM124.8,332.2L128.2,332.2L112.0,348.3L112.0,347.4ZM128.2,332.2L128.2,348.3L112.0,348.3ZM128.2,332.2L132.1,332.2L135.2,341.3L128.2,348.3ZM144.3,341.3L144.3,348.3L128.2,348.3L135.2,341.3ZM147.8,344.8L144.3,348.3L144.3,341.3ZM153.7,348.3L144.3,348.3L147.8,344.8ZM176.6,339.7L176.6,344.3L171.0,348.3L164.5,348.3ZM111.8,348.3L112.0,348.3L111.7,348.6ZM112.0,348.3L112.0,364.4L110.5,364.4L111.7,348.6ZM112.0,348.3L128.2,348.3L112.0,364.4ZM128.2,348.3L128.2,357.6L118.0,364.4L112.0,364.4ZM128.2,348.3L144.3,348.3L134.9,357.6L128.2,357.6ZM144.3,348.3L144.3,357.6L134.9,357.6ZM144.3,348.3L153.7,348.3L144.3,357.6ZM164.5,348.3L171.0,348.3L171.0,353.9L164.5,360.3ZM176.6,353.9L176.6,360.3L164.5,360.3L171.0,353.9Z" fill="#ff5900" stroke="#ff5900"/>
<path d="M56.8,219.3L63.6,219.3L61.3,221.6ZM63.6,219.3L63.6,235.4L63.1,235.4L61.3,221.6ZM63.6,219.3L79.7,219.3L63.6,235.4ZM79.7,219.3L79.7,220.9L65.2,235.4L63.6,235.4ZM79.7,219.3L83.9,219.3L79.7,220.9ZM101.9,219.3L112.0,219.3L101.9,229.5ZM112.0,219.3L112.0,235.4L101.9,235.4L101.9,229.5ZM112.0,219.3L116.0,219.3L116.0,231.4L112.0,235.4ZM115.0,235.4L112.0,235.4L116.0,231.4ZM63.1,235.4L63.6,235.4L63.2,235.8ZM63.6,235.4L63.6,251.5L61.9,251.5L63.2,235.8ZM63.6,235.4L65.2,235.4L69.2,245.9L63.6,251.5ZM79.7,245.9L79.7,251.5L63.6,251.5L69.2,245.9ZM89.9,241.4L79.7,251.5L79.7,245.9ZM95.9,241.4L95.9,251.5L79.7,251.5L89.9,241.4ZM101.9,235.4L112.0,235.4L95.9,251.5L95.9,241.4ZM112.0,235.4L112.0,247.4L107.8,251.5L95.9,251.5ZM112.0,235.4L115.0,235.4L112.0,247.4ZM144.3,244.5L144.3,251.5L134.9,251.5ZM158.4,237.5L144.3,251.5L144.3,244.5ZM158.4,251.5L144.3,251.5L158.4,237.5ZM61.9,251.5L63.6,251.5L61.3,253.8ZM63.6,251.5L63.6,261.7L61.3,253.8ZM63.6,251.5L79.7,251.5L69.6,261.7L63.6,261.7ZM79.7,251.5L79.7,267.7L69.6,267.7L69.6,261.7ZM79.7,251.5L95.9,251.5L79.7,267.7ZM95.9,251.5L95.9,267.7L79.7,267.7ZM95.9,251.5L107.8,251.5L109.9,253.6L95.9,267.7ZM112.0,253.6L112.0,267.7L95.9,267.7L109.9,253.6ZM121.4,258.3L112.0,267.7L112.0,253.6ZM128.2,256.6L128.2,264.7L116.2,267.7L112.0,267.7L121.4,258.3ZM134.9,251.5L144.3,251.5L140.1,255.7L128.2,264.7L128.2,256.6ZM144.3,251.5L144.3,267.7L140.1,267.7L140.1,255.7ZM144.3,251.5L158.4,251.5L158.4,253.6L144.3,267.7ZM160.5,255.7L160.5,267.7L144.3,267.7L158.4,253.6ZM164.4,263.7L160.5,267.7L160.5,255.7ZM176.6,263.7L176.6,267.7L160.5,267.7L164.4,263.7ZM69.6,267.7L79.7,267.7L79.0,268.4ZM79.7,267.7L79.7,268.5L79.0,268.4ZM79.7,267.7L95.9,267.7L95.7,267.8L79.7,268.5ZM95.9,267.7L95.9,267.9L95.7,267.8ZM95.9,267.7L112.0,267.7L111.8,267.9L95.9,267.9ZM112.0,267.7L112.0,269.1L111.8,267.9ZM112.0,267.7L116.2,267.7L112.0,269.1ZM140.1,267.7L144.3,267.7L140.1,271.9ZM144.3,267.7L144.3,283.8L140.1,283.8L140.1,271.9ZM144.3,267.7L160.5,267.7L144.3,283.8ZM160.5,267.7L160.5,283.8L144.3,283.8ZM160.5,267.7L176.6,267.7L160.5,283.8ZM176.6,267.7L176.6,283.8L160.5,283.8ZM128.2,289.8L128.2,299.9L125.9,299.9ZM140.1,283.8L144.3,283.8L128.2,299.9L128.2,289.8ZM144.3,283.8L144.3,299.9L128.2,299.9ZM144.3,283.8L160.5,283.8L144.3,299.9ZM160.5,283.8L160.5,297.8L156.3,299.9L144.3,299.9ZM160.5,283.8L176.6,283.8L164.7,295.7L160.5,297.8ZM176.6,283.8L176.6,299.9L162.6,299.9L164.7,295.7ZM125.9,299.9L128.2,299.9L126.6,301.5ZM128.2,299.9L128.2,316.0L127.8,316.0L126.6,301.5ZM128.2,299.9L144.3,299.9L128.2,316.0ZM144.3,299.9L144.3,311.8L142.2,316.0L128.2,316.0ZM144.3,299.9L156.3,299.9L144.3,311.8ZM162.6,299.9L176.6,299.9L169.6,306.9ZM176.6,299.9L176.6,316.0L172.6,316.0L169.6,306.9ZM127.8,316.0L128.2,316.0L127.6,316.6ZM128.2,316.0L128.2,320.2L127.6,316.6ZM128.2,316.0L142.2,316.0L142.9,317.4L132.1,328.2L128.2,320.2ZM142.9,332.2L132.1,332.2L132.1,328.2L142.9,317.4ZM172.6,316.0L176.6,316.0L174.2,318.4ZM176.6,316.0L176.6,322.0L174.2,318.4ZM132.1,332.2L142.9,332.2L143.3,333.2L135.2,341.3ZM144.3,333.2L144.3,341.3L135.2,341.3L143.3,333.2ZM151.9,340.7L147.8,344.8L144.3,341.3L144.3,333.2ZM160.5,345.9L160.5,348.3L153.7,348.3L147.8,344.8L151.9,340.7ZM166.4,342.3L160.5,348.3L160.5,345.9ZM176.6,335.1L176.6,339.7L164.5,348.3L160.5,348.3L166.4,342.3ZM128.2,357.6L128.2,364.4L118.0,364.4ZM134.9,357.6L128.2,364.4L128.2,357.6ZM144.3,357.6L144.3,364.4L128.2,364.4L134.9,357.6ZM153.7,348.3L160.5,348.3L144.3,364.4L144.3,357.6ZM160.5,348.3L160.5,364.4L144.3,364.4ZM160.5,348.3L164.5,348.3L164.5,360.3L160.5,364.4ZM176.6,360.3L176.6,364.4L160.5,364.4L164.5,360.3Z" fill="#ff4300" stroke="#ff4300"/>
<path d="M116.0,219.3L126.8,219.3L126.8,220.7L116.0,231.4ZM123.1,235.4L115.0,235.4L116.0,231.4L126.8,220.7ZM160.5,230.2L160.5,235.4L146.4,235.4ZM166.1,229.8L160.5,235.4L160.5,230.2ZM176.6,229.8L176.6,235.4L160.5,235.4L166.1,229.8ZM112.0,247.4L112.0,251.5L107.8,251.5ZM115.0,235.4L123.1,235.4L121.4,242.2L112.0,251.5L112.0,247.4ZM128.2,245.6L128.2,251.5L112.0,251.5L121.4,242.2ZM140.1,239.6L128.2,251.5L128.2,245.6ZM144.3,236.5L144.3,244.5L134.9,251.5L128.2,251.5L140.1,239.6ZM146.4,235.4L160.5,235.4L158.4,237.5L144.3,244.5L144.3,236.5ZM160.5,235.4L160.5,251.5L158.4,251.5L158.4,237.5ZM160.5,235.4L176.6,235.4L160.5,251.5ZM176.6,235.4L176.6,249.4L174.5,251.5L160.5,251.5ZM107.8,251.5L112.0,251.5L109.9,253.6ZM112.0,251.5L112.0,253.6L109.9,253.6ZM112.0,251.5L128.2,251.5L121.4,258.3L112.0,253.6ZM128.2,251.5L128.2,256.6L121.4,258.3ZM128.2,251.5L134.9,251.5L128.2,256.6ZM158.4,251.5L160.5,251.5L158.4,253.6ZM160.5,251.5L160.5,255.7L158.4,253.6ZM160.5,251.5L174.5,251.5L175.2,252.9L164.4,263.7L160.5,255.7ZM176.6,252.9L176.6,263.7L164.4,263.7L175.2,252.9ZM160.5,297.8L160.5,299.9L156.3,299.9ZM164.7,295.7L160.5,299.9L160.5,297.8ZM162.6,299.9L160.5,299.9L164.7,295.7ZM144.3,311.8L144.3,316.0L142.2,316.0ZM156.3,299.9L160.5,299.9L144.3,316.0L144.3,311.8ZM160.5,299.9L160.5,313.9L158.4,316.0L144.3,316.0ZM160.5,299.9L162.6,299.9L169.6,306.9L161.5,315.0L160.5,313.9ZM172.6,316.0L161.9,316.0L161.5,315.0L169.6,306.9ZM142.2,316.0L144.3,316.0L142.9,317.4ZM144.3,316.0L144.3,332.2L142.9,332.2L142.9,317.4ZM144.3,316.0L158.4,316.0L158.4,318.1L144.3,332.2ZM151.3,332.2L144.3,332.2L158.4,318.1ZM161.9,316.0L172.6,316.0L174.2,318.4L167.8,324.9ZM176.6,322.0L176.6,332.2L172.6,332.2L167.8,324.9L174.2,318.4ZM142.9,332.2L144.3,332.2L143.3,333.2ZM144.3,332.2L144.3,333.2L143.3,333.2ZM144.3,332.2L151.3,332.2L155.9,336.7L151.9,340.7L144.3,333.2ZM160.5,339.4L160.5,345.9L151.9,340.7L155.9,336.7ZM172.6,332.2L176.6,332.2L166.4,342.3L160.5,345.9L160.5,339.4ZM176.6,332.2L176.6,335.1L166.4,342.3Z" fill="#ff2c00" stroke="#ff2c00"/>
<path d="M126.8,219.3L128.2,219.3L126.8,220.7ZM128.2,219.3L128.2,235.4L123.1,235.4L126.8,220.7ZM128.2,219.3L137.5,219.3L134.1,229.5L128.2,235.4ZM144.3,226.1L144.3,235.4L128.2,235.4L134.1,229.5ZM152.6,227.2L144.3,235.4L144.3,226.1ZM160.5,224.3L160.5,230.2L146.4,235.4L144.3,235.4L152.6,227.2ZM172.5,223.4L166.1,229.8L160.5,230.2L160.5,224.3ZM176.6,223.4L176.6,229.8L166.1,229.8L172.5,223.4ZM123.1,235.4L128.2,235.4L121.4,242.2ZM128.2,235.4L128.2,245.6L121.4,242.2ZM128.2,235.4L144.3,235.4L140.1,239.6L128.2,245.6ZM144.3,235.4L144.3,236.5L140.1,239.6ZM144.3,235.4L146.4,235.4L144.3,236.5ZM176.6,249.4L176.6,251.5L174.5,251.5ZM174.5,251.5L176.6,251.5L175.2,252.9ZM176.6,251.5L176.6,252.9L175.2,252.9ZM160.5,313.9L160.5,316.0L158.4,316.0ZM161.5,315.0L160.5,316.0L160.5,313.9ZM161.9,316.0L160.5,316.0L161.5,315.0ZM158.4,316.0L160.5,316.0L158.4,318.1ZM160.5,316.0L160.5,330.1L159.4,332.2L151.3,332.2L158.4,318.1ZM160.5,316.0L161.9,316.0L167.8,324.9L161.3,331.3L160.5,330.1ZM172.6,332.2L161.9,332.2L161.3,331.3L167.8,324.9ZM151.3,332.2L159.4,332.2L159.9,332.7L155.9,336.7ZM160.5,333.0L160.5,339.4L155.9,336.7L159.9,332.7ZM161.9,332.2L172.6,332.2L160.5,339.4L160.5,333.0Z" fill="#ff1600" stroke="#ff1600"/>
<path d="M137.5,219.3L144.3,219.3L134.1,229.5ZM144.3,219.3L144.3,226.1L134.1,229.5ZM144.3,219.3L160.5,219.3L152.6,227.2L144.3,226.1ZM160.5,219.3L160.5,224.3L152.6,227.2ZM160.5,219.3L176.6,219.3L172.5,223.4L160.5,224.3ZM176.6,219.3L176.6,223.4L172.5,223.4ZM160.5,330.1L160.5,332.2L159.4,332.2ZM161.3,331.3L160.5,332.2L160.5,330.1ZM161.9,332.2L160.5,332.2L161.3,331.3ZM159.4,332.2L160.5,332.2L159.9,332.7ZM160.5,332.2L160.5,333.0L159.9,332.7ZM160.5,332.2L161.9,332.2L160.5,333.0Z" fill="#ff0000" stroke="#ff0000"/>
<path d="M32.0,250.8L31.3,251.5L31.3,250.1ZM32.2,251.5L31.3,251.5L32.0,250.8ZM31.3,251.5L32.2,251.5L34.1,264.9L32.0,266.9L31.3,261.7ZM33.6,267.7L31.9,267.7L32.0,266.9L34.1,264.9ZM31.9,267.7L33.6,267.7L35.5,279.6L34.0,281.0ZM47.4,281.5L47.4,283.2L34.0,281.0L35.5,279.6ZM49.1,282.1L47.9,283.3L47.4,283.2L47.4,281.5ZM63.6,282.7L63.6,283.8L59.4,283.8L47.9,283.3L49.1,282.1ZM64.6,282.7L63.6,283.8L63.6,282.7ZM77.6,283.8L63.6,283.8L64.6,282.7ZM59.4,283.8L63.6,283.8L63.4,283.9ZM63.6,283.8L63.6,283.9L63.4,283.9ZM63.6,283.8L77.6,283.8L79.6,283.9L78.7,284.8L63.6,283.9ZM79.7,283.9L79.7,285.0L78.7,284.8L79.6,283.9ZM92.3,287.4L91.4,288.3L79.7,285.0L79.7,283.9ZM95.9,290.4L95.9,292.1L91.4,288.3L92.3,287.4ZM101.6,294.2L100.6,295.2L95.9,292.1L95.9,290.4ZM102.6,299.9L101.5,299.9L100.6,295.2L101.6,294.2ZM101.5,299.9L102.6,299.9L104.5,307.4L103.6,308.3ZM105.6,316.0L104.6,316.0L103.6,308.3L104.5,307.4ZM104.6,316.0L105.6,316.0L104.4,323.6L103.2,324.9ZM103.0,332.2L102.0,332.2L103.2,324.9L104.4,323.6ZM95.9,344.0L95.9,346.0L93.7,348.3L91.8,348.3ZM102.0,332.2L103.0,332.2L95.9,346.0L95.9,344.0ZM91.8,348.3L93.7,348.3L90.7,353.5L86.1,358.1ZM84.8,364.4L82.7,364.4L86.1,358.1L90.7,353.5Z" fill="#30ff00" stroke="#30ff00"/>
<path d="M33.9,248.9L32.0,250.8L31.3,250.1L31.3,246.0ZM34.5,251.5L32.2,251.5L32.0,250.8L33.9,248.9ZM32.2,251.5L34.5,251.5L36.1,262.9L34.1,264.9ZM35.3,267.7L33.6,267.7L34.1,264.9L36.1,262.9ZM33.6,267.7L35.3,267.7L37.0,278.1L35.5,279.6ZM47.4,279.8L47.4,281.5L35.5,279.6L37.0,278.1ZM50.4,280.8L49.1,282.1L47.4,281.5L47.4,279.8ZM63.6,281.4L63.6,282.7L49.1,282.1L50.4,280.8ZM65.8,281.6L64.6,282.7L63.6,282.7L63.6,281.4ZM79.7,282.7L79.7,283.8L77.6,283.8L64.6,282.7L65.8,281.6ZM80.9,282.6L79.7,283.8L79.7,282.7ZM83.2,283.8L79.7,283.8L80.9,282.6ZM77.6,283.8L79.7,283.8L79.6,283.9ZM79.7,283.8L79.7,283.9L79.6,283.9ZM79.7,283.8L83.2,283.8L93.1,286.5L92.3,287.4L79.7,283.9ZM95.9,288.8L95.9,290.4L92.3,287.4L93.1,286.5ZM102.6,293.2L101.6,294.2L95.9,290.4L95.9,288.8ZM103.8,299.9L102.6,299.9L101.6,294.2L102.6,293.2ZM102.6,299.9L103.8,299.9L105.4,306.5L104.5,307.4ZM106.7,316.0L105.6,316.0L104.5,307.4L105.4,306.5ZM105.6,316.0L106.7,316.0L105.7,322.4L104.4,323.6ZM104.1,332.2L103.0,332.2L104.4,323.6L105.7,322.4ZM95.9,346.0L95.9,348.0L95.6,348.3L93.7,348.3ZM103.0,332.2L104.1,332.2L95.9,348.0L95.9,346.0ZM93.7,348.3L95.6,348.3L95.3,348.9L90.7,353.5ZM87.0,364.4L84.8,364.4L90.7,353.5L95.3,348.9Z" fill="#50ff00" stroke="#50ff00"/>
<path d="M35.8,247.0L33.9,248.9L31.3,246.0L31.3,242.0ZM36.8,251.5L34.5,251.5L33.9,248.9L35.8,247.0ZM34.5,251.5L36.8,251.5L38.1,260.9L36.1,262.9ZM37.0,267.7L35.3,267.7L36.1,262.9L38.1,260.9ZM35.3,267.7L37.0,267.7L38.4,276.7L37.0,278.1ZM47.4,278.1L47.4,279.8L37.0,278.1L38.4,276.7ZM51.6,279.6L50.4,280.8L47.4,279.8L47.4,278.1ZM63.6,280.1L63.6,281.4L50.4,280.8L51.6,279.6ZM67.0,280.4L65.8,281.6L63.6,281.4L63.6,280.1ZM79.7,281.4L79.7,282.7L65.8,281.6L67.0,280.4ZM82.2,281.3L80.9,282.6L79.7,282.7L79.7,281.4ZM87.3,283.8L83.2,283.8L80.9,282.6L82.2,281.3ZM83.2,283.8L87.3,283.8L94.0,285.6L93.1,286.5ZM95.9,287.2L95.9,288.8L93.1,286.5L94.0,285.6ZM103.6,292.2L102.6,293.2L95.9,288.8L95.9,287.2ZM105.0,299.9L103.8,299.9L102.6,293.2L103.6,292.2ZM103.8,299.9L105.0,299.9L106.4,305.6L105.4,306.5ZM107.7,316.0L106.7,316.0L105.4,306.5L106.4,305.6ZM106.7,316.0L107.7,316.0L106.9,321.2L105.7,322.4ZM105.1,332.2L104.1,332.2L105.7,322.4L106.9,321.2ZM95.9,348.0L95.9,348.3L95.6,348.3ZM104.1,332.2L105.1,332.2L97.8,346.4L95.9,348.3L95.9,348.0ZM97.3,348.3L95.9,348.3L97.8,346.4ZM95.6,348.3L95.9,348.3L95.3,348.9ZM95.9,348.3L95.9,351.8L89.1,364.4L87.0,364.4L95.3,348.9ZM95.9,348.3L97.3,348.3L95.9,351.8Z" fill="#71ff00" stroke="#71ff00"/>
<path d="M37.7,245.2L35.8,247.0L31.3,242.0L31.3,238.0ZM39.1,251.5L36.8,251.5L35.8,247.0L37.7,245.2ZM36.8,251.5L39.1,251.5L40.1,258.9L38.1,260.9ZM38.7,267.7L37.0,267.7L38.1,260.9L40.1,258.9ZM37.0,267.7L38.7,267.7L39.9,275.2L38.4,276.7ZM47.4,276.4L47.4,278.1L38.4,276.7L39.9,275.2ZM52.9,278.4L51.6,279.6L47.4,278.1L47.4,276.4ZM63.6,278.8L63.6,280.1L51.6,279.6L52.9,278.4ZM68.2,279.2L67.0,280.4L63.6,280.1L63.6,278.8ZM79.7,280.1L79.7,281.4L67.0,280.4L68.2,279.2ZM83.6,279.9L82.2,281.3L79.7,281.4L79.7,280.1ZM91.3,283.8L87.3,283.8L82.2,281.3L83.6,279.9ZM87.3,283.8L91.3,283.8L94.9,284.8L94.0,285.6ZM95.9,285.6L95.9,287.2L94.0,285.6L94.9,284.8ZM104.6,291.2L103.6,292.2L95.9,287.2L95.9,285.6ZM106.1,299.9L105.0,299.9L103.6,292.2L104.6,291.2ZM105.0,299.9L106.1,299.9L107.3,304.6L106.4,305.6ZM108.8,316.0L107.7,316.0L106.4,305.6L107.3,304.6ZM107.7,316.0L108.8,316.0L108.1,319.9L106.9,321.2ZM106.2,332.2L105.1,332.2L106.9,321.2L108.1,319.9ZM105.1,332.2L106.2,332.2L99.9,344.3L97.8,346.4ZM98.9,348.3L97.3,348.3L97.8,346.4L99.9,344.3ZM95.9,351.8L95.9,355.8L91.3,364.4L89.1,364.4ZM97.3,348.3L98.9,348.3L95.9,355.8L95.9,351.8Z" fill="#91ff00" stroke="#91ff00"/>
<path d="M32.0,266.9L31.3,267.7L31.3,261.7ZM31.9,267.7L31.3,267.7L32.0,266.9ZM31.3,267.7L31.9,267.7L34.0,281.0L32.6,282.5L31.3,274.4ZM47.4,283.2L47.4,283.8L40.7,283.8L32.6,282.5L34.0,281.0ZM47.9,283.3L47.4,283.8L47.4,283.2ZM59.4,283.8L47.4,283.8L47.9,283.3ZM40.7,283.8L47.4,283.8L45.7,285.5ZM47.4,283.8L47.4,284.5L45.7,285.5ZM47.4,283.8L59.4,283.8L63.4,283.9L62.4,285.0L47.4,284.5ZM63.6,283.9L63.6,284.9L62.4,285.0L63.4,283.9ZM78.7,284.8L77.8,285.7L63.6,284.9L63.6,283.9ZM79.7,285.0L79.7,286.2L77.8,285.7L78.7,284.8ZM91.4,288.3L90.5,289.1L79.7,286.2L79.7,285.0ZM95.9,292.1L95.9,293.7L90.5,289.1L91.4,288.3ZM100.6,295.2L99.7,296.1L95.9,293.7L95.9,292.1ZM101.5,299.9L100.3,299.9L99.7,296.1L100.6,295.2ZM100.3,299.9L101.5,299.9L103.6,308.3L102.7,309.2ZM104.6,316.0L103.6,316.0L102.7,309.2L103.6,308.3ZM103.6,316.0L104.6,316.0L103.2,324.9L101.9,326.1ZM102.0,332.2L101.0,332.2L101.9,326.1L103.2,324.9ZM95.9,342.0L95.9,344.0L91.8,348.3L89.9,348.3ZM101.0,332.2L102.0,332.2L95.9,344.0L95.9,342.0ZM89.9,348.3L91.8,348.3L86.1,358.1L81.4,362.7ZM82.7,364.4L80.5,364.4L81.4,362.7L86.1,358.1Z" fill="#10ff00" stroke="#10ff00"/>
<path d="M32.6,282.5L31.3,283.8L31.3,274.4ZM40.7,283.8L31.3,283.8L32.6,282.5ZM31.3,283.8L40.7,283.8L45.7,285.5L43.1,288.2L31.3,284.3ZM47.4,284.5L47.4,285.6L43.1,288.2L45.7,285.5ZM62.4,285.0L61.3,286.1L47.4,285.6L47.4,284.5ZM63.6,284.9L63.6,285.8L61.3,286.1L62.4,285.0ZM77.8,285.7L76.9,286.6L63.6,285.8L63.6,284.9ZM79.7,286.2L79.7,287.3L76.9,286.6L77.8,285.7ZM90.5,289.1L89.7,290.0L79.7,287.3L79.7,286.2ZM95.9,293.7L95.9,295.3L89.7,290.0L90.5,289.1ZM99.7,296.1L98.7,297.1L95.9,295.3L95.9,293.7ZM100.3,299.9L99.2,299.9L98.7,297.1L99.7,296.1ZM99.2,299.9L100.3,299.9L102.7,309.2L101.8,310.2ZM103.6,316.0L102.5,316.0L101.8,310.2L102.7,309.2ZM102.5,316.0L103.6,316.0L101.9,326.1L100.7,327.4ZM101.0,332.2L99.9,332.2L100.7,327.4L101.9,326.1ZM95.9,340.0L95.9,342.0L89.9,348.3L88.0,348.3ZM99.9,332.2L101.0,332.2L95.9,342.0L95.9,340.0ZM79.7,362.4L79.7,364.4L75.7,364.4ZM88.0,348.3L89.9,348.3L81.4,362.7L79.7,364.4L79.7,362.4ZM80.5,364.4L79.7,364.4L81.4,362.7Z" fill="#00ff0f" stroke="#00ff0f"/>
<path d="M32.3,298.9L31.3,299.9L31.3,298.6ZM47.4,290.0L47.4,291.2L32.5,299.9L31.3,299.9L32.3,298.9ZM57.0,290.4L55.9,291.5L47.4,291.2L47.4,290.0ZM63.6,289.6L63.6,290.6L55.9,291.5L57.0,290.4ZM73.3,290.2L72.4,291.1L63.6,290.6L63.6,289.6ZM79.7,291.7L79.7,292.8L72.4,291.1L73.3,290.2ZM86.2,293.5L85.3,294.4L79.7,292.8L79.7,291.7ZM93.7,299.9L91.8,299.9L85.3,294.4L86.2,293.5ZM31.3,299.9L32.5,299.9L31.3,300.9ZM91.8,299.9L93.7,299.9L94.3,301.5L92.9,302.9ZM95.9,305.1L95.9,309.7L92.9,302.9L94.3,301.5ZM98.1,313.8L97.1,314.8L95.9,309.7L95.9,305.1ZM98.3,316.0L97.3,316.0L97.1,314.8L98.1,313.8ZM95.9,324.9L95.9,331.3L95.6,332.2L93.7,332.2ZM97.3,316.0L98.3,316.0L95.9,331.3L95.9,324.9ZM79.7,347.0L79.7,348.3L78.2,348.3ZM93.7,332.2L95.6,332.2L91.7,336.3L79.7,348.3L79.7,347.0ZM80.4,348.3L79.7,348.3L91.7,336.3ZM35.3,360.4L33.4,362.3L31.3,360.8L31.3,357.5ZM47.4,362.0L47.4,364.1L33.4,362.3L35.3,360.4ZM50.1,361.8L47.7,364.1L47.4,364.1L47.4,362.0ZM63.6,358.8L63.6,360.6L47.7,364.1L50.1,361.8ZM78.2,348.3L79.7,348.3L77.3,350.7L63.6,360.6L63.6,358.8ZM79.7,348.3L79.7,349.5L77.3,350.7ZM79.7,348.3L80.4,348.3L79.7,349.5Z" fill="#00ffa6" stroke="#00ffa6"/>
<path d="M35.0,296.2L32.3,298.9L31.3,298.6L31.3,295.0ZM47.4,288.9L47.4,290.0L32.3,298.9L35.0,296.2ZM58.1,289.3L57.0,290.4L47.4,290.0L47.4,288.9ZM63.6,288.7L63.6,289.6L57.0,290.4L58.1,289.3ZM74.2,289.3L73.3,290.2L63.6,289.6L63.6,288.7ZM79.7,290.6L79.7,291.7L73.3,290.2L74.2,289.3ZM87.0,292.6L86.2,293.5L79.7,291.7L79.7,290.6ZM95.6,299.9L93.7,299.9L86.2,293.5L87.0,292.6ZM93.7,299.9L95.6,299.9L95.7,300.1L94.3,301.5ZM95.9,300.5L95.9,305.1L94.3,301.5L95.7,300.1ZM99.0,312.9L98.1,313.8L95.9,305.1L95.9,300.5ZM99.4,316.0L98.3,316.0L98.1,313.8L99.0,312.9ZM95.9,331.3L95.9,332.2L95.6,332.2ZM98.3,316.0L99.4,316.0L97.0,331.1L95.9,332.2L95.9,331.3ZM96.8,332.2L95.9,332.2L97.0,331.1ZM95.6,332.2L95.9,332.2L91.7,336.3ZM95.9,332.2L95.9,333.9L82.3,348.3L80.4,348.3L91.7,336.3ZM95.9,332.2L96.8,332.2L95.9,333.9ZM33.4,362.3L31.5,364.2L31.3,364.0L31.3,360.8ZM47.4,364.1L47.4,364.4L33.4,364.4L31.5,364.2L33.4,362.3ZM47.7,364.1L47.4,364.4L47.4,364.1ZM63.6,360.6L63.6,362.4L54.5,364.4L47.4,364.4L47.7,364.1ZM77.3,350.7L70.9,357.1L63.6,362.4L63.6,360.6ZM79.7,349.5L79.7,352.7L70.9,357.1L77.3,350.7ZM80.4,348.3L82.3,348.3L79.7,352.7L79.7,349.5Z" fill="#00ff88" stroke="#00ff88"/>
<path d="M37.7,293.5L35.0,296.2L31.3,295.0L31.3,291.4ZM47.4,287.8L47.4,288.9L35.0,296.2L37.7,293.5ZM59.1,288.2L58.1,289.3L47.4,288.9L47.4,287.8ZM63.6,287.7L63.6,288.7L58.1,289.3L59.1,288.2ZM75.1,288.4L74.2,289.3L63.6,288.7L63.6,287.7ZM79.7,289.5L79.7,290.6L74.2,289.3L75.1,288.4ZM87.9,291.7L87.0,292.6L79.7,290.6L79.7,289.5ZM95.9,298.5L95.9,299.9L95.6,299.9L87.0,292.6L87.9,291.7ZM96.7,299.1L95.9,299.9L95.9,298.5ZM96.9,299.9L95.9,299.9L96.7,299.1ZM95.6,299.9L95.9,299.9L95.7,300.1ZM95.9,299.9L95.9,300.5L95.7,300.1ZM95.9,299.9L96.9,299.9L99.9,312.0L99.0,312.9L95.9,300.5ZM100.4,316.0L99.4,316.0L99.0,312.9L99.9,312.0ZM99.4,316.0L100.4,316.0L98.2,329.8L97.0,331.1ZM97.8,332.2L96.8,332.2L97.0,331.1L98.2,329.8ZM95.9,333.9L95.9,335.9L84.2,348.3L82.3,348.3ZM96.8,332.2L97.8,332.2L95.9,335.9L95.9,333.9ZM31.5,364.2L31.3,364.4L31.3,364.0ZM33.4,364.4L31.3,364.4L31.5,364.2ZM63.6,362.4L63.6,364.2L62.5,364.4L54.5,364.4ZM70.9,357.1L64.4,363.6L63.6,364.2L63.6,362.4ZM79.7,352.7L79.7,355.9L64.4,363.6L70.9,357.1ZM82.3,348.3L84.2,348.3L79.7,355.9L79.7,352.7Z" fill="#00ff69" stroke="#00ff69"/>
<path d="M40.4,290.9L37.7,293.5L31.3,291.4L31.3,287.8ZM47.4,286.7L47.4,287.8L37.7,293.5L40.4,290.9ZM60.2,287.2L59.1,288.2L47.4,287.8L47.4,286.7ZM63.6,286.8L63.6,287.7L59.1,288.2L60.2,287.2ZM76.0,287.5L75.1,288.4L63.6,287.7L63.6,286.8ZM79.7,288.4L79.7,289.5L75.1,288.4L76.0,287.5ZM88.8,290.9L87.9,291.7L79.7,289.5L79.7,288.4ZM95.9,296.9L95.9,298.5L87.9,291.7L88.8,290.9ZM97.7,298.1L96.7,299.1L95.9,298.5L95.9,296.9ZM98.0,299.9L96.9,299.9L96.7,299.1L97.7,298.1ZM96.9,299.9L98.0,299.9L100.8,311.1L99.9,312.0ZM101.5,316.0L100.4,316.0L99.9,312.0L100.8,311.1ZM100.4,316.0L101.5,316.0L99.4,328.6L98.2,329.8ZM98.9,332.2L97.8,332.2L98.2,329.8L99.4,328.6ZM95.9,335.9L95.9,337.9L86.1,348.3L84.2,348.3ZM97.8,332.2L98.9,332.2L95.9,337.9L95.9,335.9ZM63.6,364.2L63.6,364.4L62.5,364.4ZM64.4,363.6L63.6,364.4L63.6,364.2ZM79.7,355.9L79.7,359.1L69.2,364.4L63.6,364.4L64.4,363.6ZM84.2,348.3L86.1,348.3L79.7,359.1L79.7,355.9Z" fill="#00ff4b" stroke="#00ff4b"/>
<path d="M43.1,288.2L40.4,290.9L31.3,287.8L31.3,284.3ZM47.4,285.6L47.4,286.7L40.4,290.9L43.1,288.2ZM61.3,286.1L60.2,287.2L47.4,286.7L47.4,285.6ZM63.6,285.8L63.6,286.8L60.2,287.2L61.3,286.1ZM76.9,286.6L76.0,287.5L63.6,286.8L63.6,285.8ZM79.7,287.3L79.7,288.4L76.0,287.5L76.9,286.6ZM89.7,290.0L88.8,290.9L79.7,288.4L79.7,287.3ZM95.9,295.3L95.9,296.9L88.8,290.9L89.7,290.0ZM98.7,297.1L97.7,298.1L95.9,296.9L95.9,295.3ZM99.2,299.9L98.0,299.9L97.7,298.1L98.7,297.1ZM98.0,299.9L99.2,299.9L101.8,310.2L100.8,311.1ZM102.5,316.0L101.5,316.0L100.8,311.1L101.8,310.2ZM101.5,316.0L102.5,316.0L100.7,327.4L99.4,328.6ZM99.9,332.2L98.9,332.2L99.4,328.6L100.7,327.4ZM95.9,337.9L95.9,340.0L88.0,348.3L86.1,348.3ZM98.9,332.2L99.9,332.2L95.9,340.0L95.9,337.9ZM79.7,359.1L79.7,362.4L75.7,364.4L69.2,364.4ZM86.1,348.3L88.0,348.3L79.7,362.4L79.7,359.1Z" fill="#00ff2d" stroke="#00ff2d"/>
<path d="M47.4,298.9L47.4,299.9L45.8,299.9ZM48.4,299.0L47.4,299.9L47.4,298.9ZM63.6,297.2L63.6,298.1L48.5,299.9L47.4,299.9L48.4,299.0ZM66.2,297.3L65.3,298.2L63.6,298.1L63.6,297.2ZM76.8,299.9L72.2,299.9L65.3,298.2L66.2,297.3ZM45.8,299.9L47.4,299.9L46.4,301.0L31.3,313.2L31.3,311.6ZM47.4,299.9L47.4,300.4L46.4,301.0ZM47.4,299.9L48.5,299.9L47.4,300.4ZM72.2,299.9L76.8,299.9L77.9,301.8L74.9,304.7ZM79.7,303.3L79.7,308.7L74.9,304.7L77.9,301.8ZM83.1,312.7L81.7,314.1L79.7,308.7L79.7,303.3ZM84.5,316.0L82.5,316.0L81.7,314.1L83.1,312.7ZM79.7,327.1L79.7,332.2L77.2,332.2ZM82.5,316.0L84.5,316.0L80.7,331.2L79.7,332.2L79.7,327.1ZM80.4,332.2L79.7,332.2L80.7,331.2ZM41.7,337.9L39.6,340.0L31.3,337.2L31.3,334.5ZM47.4,342.4L47.4,346.0L39.6,340.0L41.7,337.9ZM52.7,343.0L49.5,346.2L47.4,346.0L47.4,342.4ZM63.6,342.0L63.6,345.0L49.5,346.2L52.7,343.0ZM77.2,332.2L79.7,332.2L75.8,336.1L63.6,345.0L63.6,342.0ZM79.7,332.2L79.7,332.9L75.8,336.1ZM79.7,332.2L80.4,332.2L79.7,332.9Z" fill="#0060ff" stroke="#0060ff"/>
<path d="M47.4,297.8L47.4,298.9L45.8,299.9L43.9,299.9ZM49.5,297.9L48.4,299.0L47.4,298.9L47.4,297.8ZM63.6,296.2L63.6,297.2L48.4,299.0L49.5,297.9ZM67.1,296.4L66.2,297.3L63.6,297.2L63.6,296.2ZM79.7,299.5L79.7,299.9L76.8,299.9L66.2,297.3L67.1,296.4ZM80.1,299.6L79.7,299.9L79.7,299.5ZM80.4,299.9L79.7,299.9L80.1,299.6ZM43.9,299.9L45.8,299.9L31.3,311.6L31.3,310.1ZM76.8,299.9L79.7,299.9L77.9,301.8ZM79.7,299.9L79.7,303.3L77.9,301.8ZM79.7,299.9L80.4,299.9L84.5,311.3L83.1,312.7L79.7,303.3ZM86.5,316.0L84.5,316.0L83.1,312.7L84.5,311.3ZM84.5,316.0L86.5,316.0L83.4,328.5L80.7,331.2ZM82.3,332.2L80.4,332.2L80.7,331.2L83.4,328.5ZM39.6,340.0L37.6,342.0L31.3,339.9L31.3,337.2ZM47.4,346.0L47.4,348.3L45.7,348.3L37.6,342.0L39.6,340.0ZM49.5,346.2L47.4,348.3L47.4,346.0ZM63.6,345.0L63.6,347.9L59.4,348.3L47.4,348.3L49.5,346.2ZM75.8,336.1L65.0,346.9L63.6,347.9L63.6,345.0ZM79.7,332.9L79.7,334.9L65.0,346.9L75.8,336.1ZM80.4,332.2L82.3,332.2L79.7,334.9L79.7,332.9ZM45.7,348.3L47.4,348.3L46.7,349.0ZM47.4,348.3L47.4,349.1L46.7,349.0ZM47.4,348.3L59.4,348.3L47.4,349.1Z" fill="#0080ff" stroke="#0080ff"/>
<path d="M47.4,296.7L47.4,297.8L43.9,299.9L42.0,299.9ZM50.5,296.8L49.5,297.9L47.4,297.8L47.4,296.7ZM63.6,295.3L63.6,296.2L49.5,297.9L50.5,296.8ZM68.0,295.5L67.1,296.4L63.6,296.2L63.6,295.3ZM79.7,298.4L79.7,299.5L67.1,296.4L68.0,295.5ZM80.9,298.7L80.1,299.6L79.7,299.5L79.7,298.4ZM82.3,299.9L80.4,299.9L80.1,299.6L80.9,298.7ZM42.0,299.9L43.9,299.9L31.3,310.1L31.3,308.6ZM80.4,299.9L82.3,299.9L85.9,309.9L84.5,311.3ZM88.6,316.0L86.5,316.0L84.5,311.3L85.9,309.9ZM86.5,316.0L88.6,316.0L86.1,325.8L83.4,328.5ZM84.2,332.2L82.3,332.2L83.4,328.5L86.1,325.8ZM37.6,342.0L35.6,344.0L31.3,342.6L31.3,339.9ZM45.7,348.3L41.1,348.3L35.6,344.0L37.6,342.0ZM63.6,347.9L63.6,348.3L59.4,348.3ZM65.0,346.9L63.6,348.3L63.6,347.9ZM79.7,334.9L79.7,336.9L65.7,348.3L63.6,348.3L65.0,346.9ZM82.3,332.2L84.2,332.2L79.7,336.9L79.7,334.9ZM41.1,348.3L45.7,348.3L46.7,349.0L44.8,350.9ZM47.4,349.1L47.4,351.2L44.8,350.9L46.7,349.0ZM59.4,348.3L63.6,348.3L61.6,350.3L47.4,351.2L47.4,349.1ZM63.6,348.3L63.6,349.8L61.6,350.3ZM63.6,348.3L65.7,348.3L63.6,349.8Z" fill="#009fff" stroke="#009fff"/>
<path d="M47.4,295.6L47.4,296.7L42.0,299.9L40.1,299.9ZM51.6,295.8L50.5,296.8L47.4,296.7L47.4,295.6ZM63.6,294.3L63.6,295.3L50.5,296.8L51.6,295.8ZM68.9,294.7L68.0,295.5L63.6,295.3L63.6,294.3ZM79.7,297.3L79.7,298.4L68.0,295.5L68.9,294.7ZM81.8,297.8L80.9,298.7L79.7,298.4L79.7,297.3ZM84.2,299.9L82.3,299.9L80.9,298.7L81.8,297.8ZM40.1,299.9L42.0,299.9L31.3,308.6L31.3,307.0ZM82.3,299.9L84.2,299.9L87.3,308.5L85.9,309.9ZM90.6,316.0L88.6,316.0L85.9,309.9L87.3,308.5ZM88.6,316.0L90.6,316.0L88.8,323.1L86.1,325.8ZM86.1,332.2L84.2,332.2L86.1,325.8L88.8,323.1ZM35.6,344.0L33.6,346.0L31.3,345.2L31.3,342.6ZM41.1,348.3L36.5,348.3L33.6,346.0L35.6,344.0ZM79.7,336.9L79.7,338.9L68.2,348.3L65.7,348.3ZM84.2,332.2L86.1,332.2L79.7,338.9L79.7,336.9ZM36.5,348.3L41.1,348.3L44.8,350.9L42.9,352.8ZM47.4,351.2L47.4,353.4L42.9,352.8L44.8,350.9ZM61.6,350.3L59.3,352.6L47.4,353.4L47.4,351.2ZM63.6,349.8L63.6,351.6L59.3,352.6L61.6,350.3ZM65.7,348.3L68.2,348.3L63.6,351.6L63.6,349.8Z" fill="#00bfff" stroke="#00bfff"/>
<path d="M47.4,294.5L47.4,295.6L40.1,299.9L38.2,299.9ZM52.7,294.7L51.6,295.8L47.4,295.6L47.4,294.5ZM63.6,293.4L63.6,294.3L51.6,295.8L52.7,294.7ZM69.8,293.8L68.9,294.7L63.6,294.3L63.6,293.4ZM79.7,296.2L79.7,297.3L68.9,294.7L69.8,293.8ZM82.7,297.0L81.8,297.8L79.7,297.3L79.7,296.2ZM86.1,299.9L84.2,299.9L81.8,297.8L82.7,297.0ZM38.2,299.9L40.1,299.9L31.3,307.0L31.3,305.5ZM84.2,299.9L86.1,299.9L88.7,307.1L87.3,308.5ZM92.6,316.0L90.6,316.0L87.3,308.5L88.7,307.1ZM90.6,316.0L92.6,316.0L91.5,320.4L88.8,323.1ZM88.0,332.2L86.1,332.2L88.8,323.1L91.5,320.4ZM33.6,346.0L31.6,348.0L31.3,347.9L31.3,345.2ZM36.5,348.3L31.9,348.3L31.6,348.0L33.6,346.0ZM79.7,338.9L79.7,341.0L70.7,348.3L68.2,348.3ZM86.1,332.2L88.0,332.2L79.7,341.0L79.7,338.9ZM31.9,348.3L36.5,348.3L42.9,352.8L41.0,354.7ZM47.4,353.4L47.4,355.5L41.0,354.7L42.9,352.8ZM59.3,352.6L57.0,354.9L47.4,355.5L47.4,353.4ZM63.6,351.6L63.6,353.4L57.0,354.9L59.3,352.6ZM68.2,348.3L70.7,348.3L63.6,353.4L63.6,351.6Z" fill="#00deff" stroke="#00deff"/>
<path d="M47.4,293.4L47.4,294.5L38.2,299.9L36.3,299.9ZM53.8,293.6L52.7,294.7L47.4,294.5L47.4,293.4ZM63.6,292.4L63.6,293.4L52.7,294.7L53.8,293.6ZM70.6,292.9L69.8,293.8L63.6,293.4L63.6,292.4ZM79.7,295.1L79.7,296.2L69.8,293.8L70.6,292.9ZM83.5,296.1L82.7,297.0L79.7,296.2L79.7,295.1ZM88.0,299.9L86.1,299.9L82.7,297.0L83.5,296.1ZM36.3,299.9L38.2,299.9L31.3,305.5L31.3,303.9ZM86.1,299.9L88.0,299.9L90.1,305.7L88.7,307.1ZM94.6,316.0L92.6,316.0L88.7,307.1L90.1,305.7ZM92.6,316.0L94.6,316.0L94.2,317.7L91.5,320.4ZM89.9,332.2L88.0,332.2L91.5,320.4L94.2,317.7ZM31.6,348.0L31.3,348.3L31.3,347.9ZM31.9,348.3L31.3,348.3L31.6,348.0ZM79.7,341.0L79.7,343.0L73.2,348.3L70.7,348.3ZM88.0,332.2L89.9,332.2L79.7,343.0L79.7,341.0ZM31.3,348.3L31.9,348.3L41.0,354.7L39.1,356.6L31.3,351.1ZM47.4,355.5L47.4,357.7L39.1,356.6L41.0,354.7ZM57.0,354.9L54.7,357.2L47.4,357.7L47.4,355.5ZM63.6,353.4L63.6,355.2L54.7,357.2L57.0,354.9ZM70.7,348.3L73.2,348.3L63.6,355.2L63.6,353.4Z" fill="#00feff" stroke="#00feff"/>
<path d="M47.4,292.3L47.4,293.4L36.3,299.9L34.4,299.9ZM54.8,292.5L53.8,293.6L47.4,293.4L47.4,292.3ZM63.6,291.5L63.6,292.4L53.8,293.6L54.8,292.5ZM71.5,292.0L70.6,292.9L63.6,292.4L63.6,291.5ZM79.7,293.9L79.7,295.1L70.6,292.9L71.5,292.0ZM84.4,295.2L83.5,296.1L79.7,295.1L79.7,293.9ZM89.9,299.9L88.0,299.9L83.5,296.1L84.4,295.2ZM34.4,299.9L36.3,299.9L31.3,303.9L31.3,302.4ZM88.0,299.9L89.9,299.9L91.5,304.3L90.1,305.7ZM95.9,314.3L95.9,316.0L94.6,316.0L90.1,305.7L91.5,304.3ZM96.2,315.7L95.9,316.0L95.9,314.3ZM96.3,316.0L95.9,316.0L96.2,315.7ZM94.6,316.0L95.9,316.0L94.2,317.7ZM95.9,316.0L95.9,318.4L91.8,332.2L89.9,332.2L94.2,317.7ZM95.9,316.0L96.3,316.0L95.9,318.4ZM79.7,343.0L79.7,345.0L75.7,348.3L73.2,348.3ZM89.9,332.2L91.8,332.2L79.7,345.0L79.7,343.0ZM39.1,356.6L37.2,358.5L31.3,354.3L31.3,351.1ZM47.4,357.7L47.4,359.8L37.2,358.5L39.1,356.6ZM54.7,357.2L52.4,359.5L47.4,359.8L47.4,357.7ZM63.6,355.2L63.6,357.0L52.4,359.5L54.7,357.2ZM73.2,348.3L75.7,348.3L63.6,357.0L63.6,355.2Z" fill="#00ffe2" stroke="#00ffe2"/>
<path d="M47.4,291.2L47.4,292.3L34.4,299.9L32.5,299.9ZM55.9,291.5L54.8,292.5L47.4,292.3L47.4,291.2ZM63.6,290.6L63.6,291.5L54.8,292.5L55.9,291.5ZM72.4,291.1L71.5,292.0L63.6,291.5L63.6,290.6ZM79.7,292.8L79.7,293.9L71.5,292.0L72.4,291.1ZM85.3,294.4L84.4,295.2L79.7,293.9L79.7,292.8ZM91.8,299.9L89.9,299.9L84.4,295.2L85.3,294.4ZM32.5,299.9L34.4,299.9L31.3,302.4L31.3,300.9ZM89.9,299.9L91.8,299.9L92.9,302.9L91.5,304.3ZM95.9,309.7L95.9,314.3L91.5,304.3L92.9,302.9ZM97.1,314.8L96.2,315.7L95.9,314.3L95.9,309.7ZM97.3,316.0L96.3,316.0L96.2,315.7L97.1,314.8ZM95.9,318.4L95.9,324.9L93.7,332.2L91.8,332.2ZM96.3,316.0L97.3,316.0L95.9,324.9L95.9,318.4ZM79.7,345.0L79.7,347.0L78.2,348.3L75.7,348.3ZM91.8,332.2L93.7,332.2L79.7,347.0L79.7,345.0ZM37.2,358.5L35.3,360.4L31.3,357.5L31.3,354.3ZM47.4,359.8L47.4,362.0L35.3,360.4L37.2,358.5ZM52.4,359.5L50.1,361.8L47.4,362.0L47.4,359.8ZM63.6,357.0L63.6,358.8L50.1,361.8L52.4,359.5ZM75.7,348.3L78.2,348.3L63.6,358.8L63.6,357.0Z" fill="#00ffc4" stroke="#00ffc4"/>
<path d="M63.6,299.1L63.6,299.9L56.6,299.9ZM64.4,299.1L63.6,299.9L63.6,299.1ZM67.6,299.9L63.6,299.9L64.4,299.1ZM38.3,309.0L31.3,316.0L31.3,314.7ZM47.4,304.5L47.4,308.5L32.3,316.0L31.3,316.0L38.3,309.0ZM56.6,299.9L63.6,299.9L62.5,301.0L47.4,308.5L47.4,304.5ZM63.6,299.9L63.6,301.0L62.5,301.0ZM63.6,299.9L67.6,299.9L72.0,307.6L69.1,310.6L63.6,301.0ZM79.7,314.0L79.7,316.0L75.7,316.0L69.1,310.6L72.0,307.6ZM80.3,315.5L79.7,316.0L79.7,314.0ZM80.5,316.0L79.7,316.0L80.3,315.5ZM31.3,316.0L32.3,316.0L37.4,326.1L32.0,331.5L31.3,330.1ZM40.4,332.2L32.3,332.2L32.0,331.5L37.4,326.1ZM75.7,316.0L79.7,316.0L74.6,321.1ZM79.7,316.0L79.7,319.0L73.2,332.2L69.1,332.2L74.6,321.1ZM79.7,316.0L80.5,316.0L79.7,319.0ZM32.3,332.2L40.4,332.2L45.7,333.9L43.7,335.9ZM47.4,335.3L47.4,338.9L43.7,335.9L45.7,333.9ZM59.2,336.6L55.9,339.8L47.4,338.9L47.4,335.3ZM63.6,336.2L63.6,339.1L55.9,339.8L59.2,336.6ZM69.1,332.2L73.2,332.2L63.6,339.1L63.6,336.2Z" fill="#0021ff" stroke="#0021ff"/>
<path d="M63.6,298.1L63.6,299.1L56.6,299.9L48.5,299.9ZM65.3,298.2L64.4,299.1L63.6,299.1L63.6,298.1ZM72.2,299.9L67.6,299.9L64.4,299.1L65.3,298.2ZM46.4,301.0L38.3,309.0L31.3,314.7L31.3,313.2ZM47.4,300.4L47.4,304.5L38.3,309.0L46.4,301.0ZM48.5,299.9L56.6,299.9L47.4,304.5L47.4,300.4ZM67.6,299.9L72.2,299.9L74.9,304.7L72.0,307.6ZM79.7,308.7L79.7,314.0L72.0,307.6L74.9,304.7ZM81.7,314.1L80.3,315.5L79.7,314.0L79.7,308.7ZM82.5,316.0L80.5,316.0L80.3,315.5L81.7,314.1ZM32.0,331.5L31.3,332.2L31.3,330.1ZM32.3,332.2L31.3,332.2L32.0,331.5ZM79.7,319.0L79.7,327.1L77.2,332.2L73.2,332.2ZM80.5,316.0L82.5,316.0L79.7,327.1L79.7,319.0ZM31.3,332.2L32.3,332.2L43.7,335.9L41.7,337.9L31.3,334.5ZM47.4,338.9L47.4,342.4L41.7,337.9L43.7,335.9ZM55.9,339.8L52.7,343.0L47.4,342.4L47.4,338.9ZM63.6,339.1L63.6,342.0L52.7,343.0L55.9,339.8ZM73.2,332.2L77.2,332.2L63.6,342.0L63.6,339.1Z" fill="#0041ff" stroke="#0041ff"/>
<path d="M47.4,312.5L47.4,316.0L40.4,316.0ZM54.5,309.0L47.4,316.0L47.4,312.5ZM63.6,309.0L63.6,316.0L47.4,316.0L54.5,309.0ZM66.1,313.5L63.6,316.0L63.6,309.0ZM69.2,316.0L63.6,316.0L66.1,313.5ZM40.4,316.0L47.4,316.0L42.8,320.7ZM47.4,316.0L47.4,330.1L42.8,320.7ZM47.4,316.0L63.6,316.0L49.5,330.1L47.4,330.1ZM63.6,316.0L63.6,332.2L51.6,332.2L49.5,330.1ZM63.6,316.0L69.2,316.0L66.6,329.2L63.6,332.2ZM65.1,332.2L63.6,332.2L66.6,329.2ZM51.6,332.2L63.6,332.2L62.4,333.3ZM63.6,332.2L63.6,333.2L62.4,333.3ZM63.6,332.2L65.1,332.2L63.6,333.2Z" fill="#0000fd" stroke="#0000fd"/>
<path d="M47.4,308.5L47.4,312.5L40.4,316.0L32.3,316.0ZM62.5,301.0L54.5,309.0L47.4,312.5L47.4,308.5ZM63.6,301.0L63.6,309.0L54.5,309.0L62.5,301.0ZM69.1,310.6L66.1,313.5L63.6,309.0L63.6,301.0ZM75.7,316.0L69.2,316.0L66.1,313.5L69.1,310.6ZM32.3,316.0L40.4,316.0L42.8,320.7L37.4,326.1ZM47.4,330.1L47.4,332.2L40.4,332.2L37.4,326.1L42.8,320.7ZM49.5,330.1L47.4,332.2L47.4,330.1ZM51.6,332.2L47.4,332.2L49.5,330.1ZM69.2,316.0L75.7,316.0L74.6,321.1L66.6,329.2ZM69.1,332.2L65.1,332.2L66.6,329.2L74.6,321.1ZM40.4,332.2L47.4,332.2L45.7,333.9ZM47.4,332.2L47.4,335.3L45.7,333.9ZM47.4,332.2L51.6,332.2L62.4,333.3L59.2,336.6L47.4,335.3ZM63.6,333.2L63.6,336.2L59.2,336.6L62.4,333.3ZM65.1,332.2L69.1,332.2L63.6,336.2L63.6,333.2Z" fill="#0002ff" stroke="#0002ff"/>
</g>
<path d="M47.4,308.5L32.3,316.0M62.5,301.0L47.4,308.5M63.6,301.0L62.5,301.0M69.1,310.6L63.6,301.0M75.7,316.0L69.1,310.6M32.3,316.0L37.4,326.1M40.4,332.2L37.4,326.1M75.7,316.0L74.6,321.1M69.1,332.2L74.6,321.1M40.4,332.2L45.7,333.9M47.4,335.3L45.7,333.9M59.2,336.6L47.4,335.3M63.6,336.2L59.2,336.6M69.1,332.2L63.6,336.2M63.6,298.1L48.5,299.9M65.3,298.2L63.6,298.1M72.2,299.9L65.3,298.2M46.4,301.0L31.3,313.2M47.4,300.4L46.4,301.0M48.5,299.9L47.4,300.4M72.2,299.9L74.9,304.7M79.7,308.7L74.9,304.7M81.7,314.1L79.7,308.7M82.5,316.0L81.7,314.1M79.7,327.1L77.2,332.2M82.5,316.0L79.7,327.1M41.7,337.9L31.3,334.5M47.4,342.4L41.7,337.9M52.7,343.0L47.4,342.4M63.6,342.0L52.7,343.0M77.2,332.2L63.6,342.0M47.4,297.8L43.9,299.9M49.5,297.9L47.4,297.8M63.6,296.2L49.5,297.9M67.1,296.4L63.6,296.2M79.7,299.5L67.1,296.4M80.1,299.6L79.7,299.5M80.4,299.9L80.1,299.6M43.9,299.9L31.3,310.1M80.4,299.9L84.5,311.3M86.5,316.0L84.5,311.3M86.5,316.0L83.4,328.5M82.3,332.2L83.4,328.5M37.6,342.0L31.3,339.9M45.7,348.3L37.6,342.0M63.6,347.9L59.4,348.3M65.0,346.9L63.6,347.9M79.7,334.9L65.0,346.9M82.3,332.2L79.7,334.9M45.7,348.3L46.7,349.0M47.4,349.1L46.7,349.0M59.4,348.3L47.4,349.1M47.4,295.6L40.1,299.9M51.6,295.8L47.4,295.6M63.6,294.3L51.6,295.8M68.9,294.7L63.6,294.3M79.7,297.3L68.9,294.7M81.8,297.8L79.7,297.3M84.2,299.9L81.8,297.8M40.1,299.9L31.3,307.0M84.2,299.9L87.3,308.5M90.6,316.0L87.3,308.5M90.6,316.0L88.8,323.1M86.1,332.2L88.8,323.1M33.6,346.0L31.3,345.2M36.5,348.3L33.6,346.0M79.7,338.9L68.2,348.3M86.1,332.2L79.7,338.9M36.5,348.3L42.9,352.8M47.4,353.4L42.9,352.8M59.3,352.6L47.4,353.4M63.6,351.6L59.3,352.6M68.2,348.3L63.6,351.6M47.4,293.4L36.3,299.9M53.8,293.6L47.4,293.4M63.6,292.4L53.8,293.6M70.6,292.9L63.6,292.4M79.7,295.1L70.6,292.9M83.5,296.1L79.7,295.1M88.0,299.9L83.5,296.1M36.3,299.9L31.3,303.9M88.0,299.9L90.1,305.7M94.6,316.0L90.1,305.7M94.6,316.0L94.2,317.7M89.9,332.2L94.2,317.7M79.7,343.0L73.2,348.3M89.9,332.2L79.7,343.0M39.1,356.6L31.3,351.1M47.4,357.7L39.1,356.6M54.7,357.2L47.4,357.7M63.6,355.2L54.7,357.2M73.2,348.3L63.6,355.2M47.4,291.2L32.5,299.9M55.9,291.5L47.4,291.2M63.6,290.6L55.9,291.5M72.4,291.1L63.6,290.6M79.7,292.8L72.4,291.1M85.3,294.4L79.7,292.8M91.8,299.9L85.3,294.4M32.5,299.9L31.3,300.9M91.8,299.9L92.9,302.9M95.9,309.7L92.9,302.9M97.1,314.8L95.9,309.7M97.3,316.0L97.1,314.8M95.9,324.9L93.7,332.2M97.3,316.0L95.9,324.9M79.7,347.0L78.2,348.3M93.7,332.2L79.7,347.0M35.3,360.4L31.3,357.5M47.4,362.0L35.3,360.4M50.1,361.8L47.4,362.0M63.6,358.8L50.1,361.8M78.2,348.3L63.6,358.8M35.0,296.2L31.3,295.0M47.4,288.9L35.0,296.2M58.1,289.3L47.4,288.9M63.6,288.7L58.1,289.3M74.2,289.3L63.6,288.7M79.7,290.6L74.2,289.3M87.0,292.6L79.7,290.6M95.6,299.9L87.0,292.6M95.6,299.9L95.7,300.1M95.9,300.5L95.7,300.1M99.0,312.9L95.9,300.5M99.4,316.0L99.0,312.9M99.4,316.0L97.0,331.1M96.8,332.2L97.0,331.1M95.9,333.9L82.3,348.3M96.8,332.2L95.9,333.9M31.5,364.2L31.3,364.0M33.4,364.4L31.5,364.2M63.6,362.4L54.5,364.4M70.9,357.1L63.6,362.4M79.7,352.7L70.9,357.1M82.3,348.3L79.7,352.7M40.4,290.9L31.3,287.8M47.4,286.7L40.4,290.9M60.2,287.2L47.4,286.7M63.6,286.8L60.2,287.2M76.0,287.5L63.6,286.8M79.7,288.4L76.0,287.5M88.8,290.9L79.7,288.4M95.9,296.9L88.8,290.9M97.7,298.1L95.9,296.9M98.0,299.9L97.7,298.1M98.0,299.9L100.8,311.1M101.5,316.0L100.8,311.1M101.5,316.0L99.4,328.6M98.9,332.2L99.4,328.6M95.9,337.9L86.1,348.3M98.9,332.2L95.9,337.9M79.7,359.1L69.2,364.4M86.1,348.3L79.7,359.1M32.6,282.5L31.3,274.4M40.7,283.8L32.6,282.5M40.7,283.8L45.7,285.5M47.4,284.5L45.7,285.5M62.4,285.0L47.4,284.5M63.6,284.9L62.4,285.0M77.8,285.7L63.6,284.9M79.7,286.2L77.8,285.7M90.5,289.1L79.7,286.2M95.9,293.7L90.5,289.1M99.7,296.1L95.9,293.7M100.3,299.9L99.7,296.1M100.3,299.9L102.7,309.2M103.6,316.0L102.7,309.2M103.6,316.0L101.9,326.1M101.0,332.2L101.9,326.1M95.9,342.0L89.9,348.3M101.0,332.2L95.9,342.0M89.9,348.3L81.4,362.7M80.5,364.4L81.4,362.7M32.0,250.8L31.3,250.1M32.2,251.5L32.0,250.8M32.2,251.5L34.1,264.9M33.6,267.7L34.1,264.9M33.6,267.7L35.5,279.6M47.4,281.5L35.5,279.6M49.1,282.1L47.4,281.5M63.6,282.7L49.1,282.1M64.6,282.7L63.6,282.7M77.6,283.8L64.6,282.7M77.6,283.8L79.6,283.9M79.7,283.9L79.6,283.9M92.3,287.4L79.7,283.9M95.9,290.4L92.3,287.4M101.6,294.2L95.9,290.4M102.6,299.9L101.6,294.2M102.6,299.9L104.5,307.4M105.6,316.0L104.5,307.4M105.6,316.0L104.4,323.6M103.0,332.2L104.4,323.6M95.9,346.0L93.7,348.3M103.0,332.2L95.9,346.0M93.7,348.3L90.7,353.5M84.8,364.4L90.7,353.5M35.8,247.0L31.3,242.0M36.8,251.5L35.8,247.0M36.8,251.5L38.1,260.9M37.0,267.7L38.1,260.9M37.0,267.7L38.4,276.7M47.4,278.1L38.4,276.7M51.6,279.6L47.4,278.1M63.6,280.1L51.6,279.6M67.0,280.4L63.6,280.1M79.7,281.4L67.0,280.4M82.2,281.3L79.7,281.4M87.3,283.8L82.2,281.3M87.3,283.8L94.0,285.6M95.9,287.2L94.0,285.6M103.6,292.2L95.9,287.2M105.0,299.9L103.6,292.2M105.0,299.9L106.4,305.6M107.7,316.0L106.4,305.6M107.7,316.0L106.9,321.2M105.1,332.2L106.9,321.2M105.1,332.2L97.8,346.4M97.3,348.3L97.8,346.4M95.9,351.8L89.1,364.4M97.3,348.3L95.9,351.8M32.1,234.6L31.3,234.6M32.6,235.4L32.1,234.6M32.6,235.4L39.6,243.3M41.4,251.5L39.6,243.3M41.4,251.5L42.1,256.8M40.4,267.7L42.1,256.8M40.4,267.7L41.4,273.7M47.4,274.7L41.4,273.7M54.1,277.1L47.4,274.7M63.6,277.5L54.1,277.1M69.4,278.0L63.6,277.5M79.7,278.8L69.4,278.0M84.9,278.6L79.7,278.8M95.4,283.8L84.9,278.6M95.4,283.8L95.8,283.9M95.9,284.0L95.8,283.9M105.5,290.3L95.9,284.0M107.3,299.9L105.5,290.3M107.3,299.9L108.2,303.7M109.8,316.0L108.2,303.7M109.8,316.0L109.4,318.7M107.2,332.2L109.4,318.7M107.2,332.2L102.1,342.1M100.5,348.3L102.1,342.1M95.9,359.8L93.4,364.4M100.5,348.3L95.9,359.8M36.4,230.3L31.3,230.3M39.8,235.4L36.4,230.3M39.8,235.4L43.4,239.5M46.0,251.5L43.4,239.5M46.0,251.5L46.2,252.8M43.8,267.7L46.2,252.8M43.8,267.7L44.3,270.8M47.4,271.3L44.3,270.8M56.6,274.6L47.4,271.3M63.6,274.9L56.6,274.6M71.8,275.6L63.6,274.9M79.7,276.2L71.8,275.6M87.6,275.9L79.7,276.2M95.9,280.0L87.6,275.9M99.7,280.0L95.9,280.0M100.5,283.8L99.7,280.0M100.5,283.8L107.5,288.3M109.6,299.9L107.5,288.3M109.6,299.9L110.1,301.9M111.9,316.0L110.1,301.9M111.9,316.0L111.9,316.2M109.3,332.2L111.9,316.2M109.3,332.2L106.4,337.8M103.7,348.3L106.4,337.8M103.7,348.3L98.2,362.1M98.0,364.4L98.2,362.1M40.7,226.0L31.3,226.0M47.0,235.4L40.7,226.0M47.0,235.4L47.2,235.7M47.4,236.8L47.2,235.7M51.5,247.5L47.4,236.8M51.1,251.5L51.5,247.5M47.4,266.3L47.2,267.7M51.1,251.5L47.4,266.3M47.2,267.7L47.3,267.9M47.4,267.9L47.3,267.9M59.1,272.2L47.4,267.9M63.6,272.3L59.1,272.2M74.2,273.2L63.6,272.3M79.7,273.6L74.2,273.2M90.3,273.2L79.7,273.6M95.9,276.0L90.3,273.2M103.7,276.0L95.9,276.0M105.5,283.8L103.7,276.0M105.5,283.8L109.4,286.4M111.9,299.9L109.4,286.4M111.9,299.9L111.9,300.0M112.0,301.0L111.9,300.0M116.7,311.4L112.0,301.0M117.1,316.0L116.7,311.4M112.0,328.1L111.4,332.2M117.1,316.0L112.0,328.1M111.4,332.2L110.7,333.5M107.0,348.3L110.7,333.5M107.0,348.3L103.6,356.7M103.0,364.4L103.6,356.7M45.0,221.7L31.3,221.7M47.4,225.4L45.0,221.7M54.2,228.7L47.4,225.4M55.0,235.4L54.2,228.7M55.0,235.4L57.3,241.7M56.5,251.5L57.3,241.7M56.5,251.5L54.2,261.0M56.1,267.7L54.2,261.0M56.1,267.7L61.6,269.7M63.6,269.8L61.6,269.7M76.6,270.8L63.6,269.8M79.7,271.1L76.6,270.8M93.0,270.5L79.7,271.1M95.9,272.0L93.0,270.5M107.7,272.0L95.9,272.0M110.5,283.8L107.7,272.0M110.5,283.8L111.4,284.4M112.0,287.9L111.4,284.4M120.6,291.3L112.0,287.9M118.7,299.9L120.6,291.3M118.7,299.9L121.6,306.4M122.4,316.0L121.6,306.4M122.4,316.0L118.3,325.8M119.4,332.2L118.3,325.8M112.0,341.0L110.2,348.3M119.4,332.2L112.0,341.0M110.2,348.3L109.0,351.3M108.0,364.4L109.0,351.3M56.8,219.3L61.3,221.6M63.1,235.4L61.3,221.6M79.7,220.9L65.2,235.4M83.9,219.3L79.7,220.9M101.9,219.3L101.9,229.5M101.9,235.4L101.9,229.5M63.1,235.4L63.2,235.8M61.9,251.5L63.2,235.8M65.2,235.4L69.2,245.9M79.7,245.9L69.2,245.9M89.9,241.4L79.7,245.9M95.9,241.4L89.9,241.4M101.9,235.4L95.9,241.4M61.9,251.5L61.3,253.8M63.6,261.7L61.3,253.8M69.6,261.7L63.6,261.7M69.6,267.7L69.6,261.7M128.2,264.7L116.2,267.7M140.1,255.7L128.2,264.7M140.1,267.7L140.1,255.7M69.6,267.7L79.0,268.4M79.7,268.5L79.0,268.4M95.7,267.8L79.7,268.5M95.9,267.9L95.7,267.8M111.8,267.9L95.9,267.9M112.0,269.1L111.8,267.9M116.2,267.7L112.0,269.1M140.1,267.7L140.1,271.9M140.1,283.8L140.1,271.9M128.2,289.8L125.9,299.9M140.1,283.8L128.2,289.8M125.9,299.9L126.6,301.5M127.8,316.0L126.6,301.5M127.8,316.0L127.6,316.6M128.2,320.2L127.6,316.6M132.1,328.2L128.2,320.2M132.1,332.2L132.1,328.2M132.1,332.2L135.2,341.3M144.3,341.3L135.2,341.3M147.8,344.8L144.3,341.3M153.7,348.3L147.8,344.8M176.6,339.7L164.5,348.3M128.2,357.6L118.0,364.4M134.9,357.6L128.2,357.6M144.3,357.6L134.9,357.6M153.7,348.3L144.3,357.6M164.5,348.3L164.5,360.3M176.6,360.3L164.5,360.3M126.8,219.3L126.8,220.7M123.1,235.4L126.8,220.7M160.5,230.2L146.4,235.4M166.1,229.8L160.5,230.2M176.6,229.8L166.1,229.8M123.1,235.4L121.4,242.2M128.2,245.6L121.4,242.2M140.1,239.6L128.2,245.6M144.3,236.5L140.1,239.6M146.4,235.4L144.3,236.5M176.6,249.4L174.5,251.5M174.5,251.5L175.2,252.9M176.6,252.9L175.2,252.9M160.5,313.9L158.4,316.0M161.5,315.0L160.5,313.9M161.9,316.0L161.5,315.0M158.4,316.0L158.4,318.1M151.3,332.2L158.4,318.1M161.9,316.0L167.8,324.9M172.6,332.2L167.8,324.9M151.3,332.2L155.9,336.7M160.5,339.4L155.9,336.7M172.6,332.2L160.5,339.4" stroke="#333" stroke-opacity="0.45" stroke-width="0.5" fill="none"/>
<g fill="none" stroke="#263238" stroke-width="1.1" stroke-linejoin="miter">
<polyline points="34.9,219.3 31.3,223.8"/>
<polyline points="31.3,246.7 35.7,280.6 55.4,238.0 49.7,219.3"/>
<polyline points="31.3,302.0 46.3,278.5 103.8,282.8 117.5,313.5 87.0,364.4"/>
</g>
<path d="M31.3,364.4v1.8M31.3,364.4h-1.8M47.4,364.4v3M31.3,348.3h-3M63.6,364.4v1.8M31.3,332.2h-1.8M79.7,364.4v3M31.3,316.0h-3M95.9,364.4v1.8M31.3,299.9h-1.8M112.0,364.4v3M31.3,283.8h-3M128.2,364.4v1.8M31.3,267.7h-1.8M144.3,364.4v3M31.3,251.5h-3M160.5,364.4v1.8M31.3,235.4h-1.8M176.6,364.4v3M31.3,219.3h-3" stroke="#333" stroke-width="0.9" fill="none"/>
<rect x="31.3" y="219.3" width="145.3" height="145.1" fill="none" stroke="#333" stroke-width="1"/>
<text x="47.4" y="376" font-size="10" text-anchor="middle" fill="#222" >2</text>
<text x="27.5" y="351.9" font-size="10" text-anchor="end" fill="#222" >2</text>
<text x="79.7" y="376" font-size="10" text-anchor="middle" fill="#222" >4</text>
<text x="27.5" y="319.6" font-size="10" text-anchor="end" fill="#222" >4</text>
<text x="112" y="376" font-size="10" text-anchor="middle" fill="#222" >6</text>
<text x="27.5" y="287.4" font-size="10" text-anchor="end" fill="#222" >6</text>
<text x="144.3" y="376" font-size="10" text-anchor="middle" fill="#222" >8</text>
<text x="27.5" y="255.1" font-size="10" text-anchor="end" fill="#222" >8</text>
<text x="176.6" y="376" font-size="10" text-anchor="middle" fill="#222" >10</text>
<text x="27.5" y="222.9" font-size="10" text-anchor="end" fill="#222" >10</text>
<text x="2.5" y="217.3" font-size="14" text-anchor="start" fill="#111" >d</text>
<text x="105.0" y="387.7" font-size="10.5" text-anchor="middle" fill="#222">X (µm)</text>
<text transform="translate(16.0,292.9) rotate(-90)" font-size="10.5" text-anchor="middle" fill="#222">Y (µm)</text>
<rect x="198.4" y="219.2" width="12.6" height="2.7" fill="#fff"/>
<rect x="198.4" y="361.4" width="12.6" height="2.9" fill="#000"/>
<rect x="198.4" y="357.52" width="12.6" height="4.17" fill="#0000fd"/>
<rect x="198.4" y="353.65" width="12.6" height="4.17" fill="#0002ff"/>
<rect x="198.4" y="349.77" width="12.6" height="4.17" fill="#0021ff"/>
<rect x="198.4" y="345.90" width="12.6" height="4.17" fill="#0041ff"/>
<rect x="198.4" y="342.02" width="12.6" height="4.17" fill="#0060ff"/>
<rect x="198.4" y="338.15" width="12.6" height="4.17" fill="#0080ff"/>
<rect x="198.4" y="334.27" width="12.6" height="4.17" fill="#009fff"/>
<rect x="198.4" y="330.40" width="12.6" height="4.17" fill="#00bfff"/>
<rect x="198.4" y="326.52" width="12.6" height="4.17" fill="#00deff"/>
<rect x="198.4" y="322.65" width="12.6" height="4.17" fill="#00feff"/>
<rect x="198.4" y="318.77" width="12.6" height="4.17" fill="#00ffe2"/>
<rect x="198.4" y="314.90" width="12.6" height="4.17" fill="#00ffc4"/>
<rect x="198.4" y="311.02" width="12.6" height="4.17" fill="#00ffa6"/>
<rect x="198.4" y="307.15" width="12.6" height="4.17" fill="#00ff88"/>
<rect x="198.4" y="303.27" width="12.6" height="4.17" fill="#00ff69"/>
<rect x="198.4" y="299.40" width="12.6" height="4.17" fill="#00ff4b"/>
<rect x="198.4" y="295.52" width="12.6" height="4.17" fill="#00ff2d"/>
<rect x="198.4" y="291.65" width="12.6" height="4.17" fill="#00ff0f"/>
<rect x="198.4" y="287.77" width="12.6" height="4.17" fill="#10ff00"/>
<rect x="198.4" y="283.90" width="12.6" height="4.17" fill="#30ff00"/>
<rect x="198.4" y="280.02" width="12.6" height="4.17" fill="#50ff00"/>
<rect x="198.4" y="276.15" width="12.6" height="4.17" fill="#71ff00"/>
<rect x="198.4" y="272.27" width="12.6" height="4.17" fill="#91ff00"/>
<rect x="198.4" y="268.40" width="12.6" height="4.17" fill="#b1ff00"/>
<rect x="198.4" y="264.52" width="12.6" height="4.17" fill="#d1ff00"/>
<rect x="198.4" y="260.65" width="12.6" height="4.17" fill="#f1ff00"/>
<rect x="198.4" y="256.77" width="12.6" height="4.17" fill="#ffeb00"/>
<rect x="198.4" y="252.90" width="12.6" height="4.17" fill="#ffc900"/>
<rect x="198.4" y="249.03" width="12.6" height="4.17" fill="#ffa700"/>
<rect x="198.4" y="245.15" width="12.6" height="4.17" fill="#ff8600"/>
<rect x="198.4" y="241.28" width="12.6" height="4.17" fill="#ff7000"/>
<rect x="198.4" y="237.40" width="12.6" height="4.17" fill="#ff5900"/>
<rect x="198.4" y="233.53" width="12.6" height="4.17" fill="#ff4300"/>
<rect x="198.4" y="229.65" width="12.6" height="4.17" fill="#ff2c00"/>
<rect x="198.4" y="225.78" width="12.6" height="4.17" fill="#ff1600"/>
<rect x="198.4" y="221.90" width="12.6" height="4.17" fill="#ff0000"/>
<rect x="198.4" y="219.2" width="12.6" height="145.1" fill="none" stroke="#888" stroke-width="0.8"/>
<text x="216.5" y="364.4" font-size="8.3" text-anchor="start" fill="#333" >0.1</text>
<text x="216.5" y="345" font-size="8.3" text-anchor="start" fill="#333" >0.6</text>
<text x="216.5" y="325.6" font-size="8.3" text-anchor="start" fill="#333" >1.1</text>
<text x="216.5" y="306.3" font-size="8.3" text-anchor="start" fill="#333" >1.6</text>
<text x="216.5" y="286.9" font-size="8.3" text-anchor="start" fill="#333" >2.1</text>
<text x="216.5" y="267.5" font-size="8.3" text-anchor="start" fill="#333" >2.6</text>
<text x="216.5" y="248.2" font-size="8.3" text-anchor="start" fill="#333" >3.1</text>
<text x="216.5" y="228.8" font-size="8.3" text-anchor="start" fill="#333" >3.6</text>
<path d="M211,361.4h2.2M211,342.0h2.2M211,322.6h2.2M211,303.3h2.2M211,283.9h2.2M211,264.5h2.2M211,245.2h2.2M211,225.8h2.2" stroke="#444" stroke-width="0.8"/>
<text x="181.2" y="211.6" font-size="10" fill="#222">I<tspan font-size="6.8" dy="2.6">2D</tspan><tspan dy="-2.6"> (1000s)</tspan></text>
<g stroke-width="0.6" stroke-linejoin="round">
<path d="M286.5,218.4L287.6,218.4L286.4,219.6ZM287.6,218.4L287.6,219.0L284.0,234.7L283.0,234.7L286.4,219.6ZM287.6,218.4L287.8,218.4L287.6,219.0ZM283.0,234.7L284.0,234.7L271.3,246.7L271.3,245.7Z" fill="#91ff00" stroke="#91ff00"/>
<path d="M285.2,218.4L286.5,218.4L286.4,219.6L285.1,220.9ZM283.0,234.7L281.9,234.7L285.1,220.9L286.4,219.6ZM281.9,234.7L283.0,234.7L271.3,245.7L271.3,244.7Z" fill="#b1ff00" stroke="#b1ff00"/>
<path d="M284.0,218.4L285.2,218.4L285.1,220.9L283.7,222.3ZM281.9,234.7L280.9,234.7L283.7,222.3L285.1,220.9ZM280.9,234.7L281.9,234.7L271.3,244.7L271.3,243.7Z" fill="#d1ff00" stroke="#d1ff00"/>
<path d="M282.7,218.4L284.0,218.4L283.7,222.3L282.3,223.7ZM280.9,234.7L279.8,234.7L282.3,223.7L283.7,222.3ZM279.8,234.7L280.9,234.7L271.3,243.7L271.3,242.7Z" fill="#f1ff00" stroke="#f1ff00"/>
<path d="M281.5,218.4L282.7,218.4L282.3,223.7L281.0,225.0ZM279.8,234.7L278.8,234.7L281.0,225.0L282.3,223.7ZM278.8,234.7L279.8,234.7L271.3,242.7L271.3,241.8Z" fill="#ffeb00" stroke="#ffeb00"/>
<path d="M280.2,218.4L281.5,218.4L281.0,225.0L279.6,226.4ZM278.8,234.7L277.7,234.7L279.6,226.4L281.0,225.0ZM277.7,234.7L278.8,234.7L271.3,241.8L271.3,240.8Z" fill="#ffc900" stroke="#ffc900"/>
<path d="M279.0,218.4L280.2,218.4L279.6,226.4L278.3,227.7ZM277.7,234.7L276.7,234.7L278.3,227.7L279.6,226.4ZM276.7,234.7L277.7,234.7L271.3,240.8L271.3,239.8Z" fill="#ffa700" stroke="#ffa700"/>
<path d="M277.7,218.4L279.0,218.4L278.3,227.7L276.9,229.1ZM276.7,234.7L275.6,234.7L276.9,229.1L278.3,227.7ZM275.6,234.7L276.7,234.7L271.3,239.8L271.3,238.8Z" fill="#ff8600" stroke="#ff8600"/>
<path d="M276.5,218.4L277.7,218.4L276.9,229.1L275.5,230.5ZM275.6,234.7L274.6,234.7L275.5,230.5L276.9,229.1ZM274.6,234.7L275.6,234.7L271.3,238.8L271.3,237.8Z" fill="#ff7000" stroke="#ff7000"/>
<path d="M275.2,218.4L276.5,218.4L275.5,230.5L274.2,231.8ZM274.6,234.7L273.5,234.7L274.2,231.8L275.5,230.5ZM273.5,234.7L274.6,234.7L271.3,237.8L271.3,236.8Z" fill="#ff5900" stroke="#ff5900"/>
<path d="M274.0,218.4L275.2,218.4L274.2,231.8L272.8,233.2ZM273.5,234.7L272.5,234.7L272.8,233.2L274.2,231.8ZM272.5,234.7L273.5,234.7L271.3,236.8L271.3,235.8Z" fill="#ff4300" stroke="#ff4300"/>
<path d="M272.7,218.4L274.0,218.4L272.8,233.2L271.5,234.5ZM272.5,234.7L271.4,234.7L271.5,234.5L272.8,233.2ZM271.4,234.7L272.5,234.7L271.3,235.8L271.3,234.8Z" fill="#ff2c00" stroke="#ff2c00"/>
<path d="M271.5,218.4L272.7,218.4L271.5,234.5L271.3,234.7L271.3,220.5ZM271.4,234.7L271.3,234.7L271.5,234.5ZM271.3,234.7L271.4,234.7L271.3,234.8Z" fill="#ff1600" stroke="#ff1600"/>
<path d="M271.3,218.4L271.5,218.4L271.3,220.5Z" fill="#ff0000" stroke="#ff0000"/>
<path d="M287.6,233.0L287.6,234.7L287.2,234.7ZM291.8,218.4L293.1,218.4L288.8,233.5L287.6,234.7L287.6,233.0ZM288.8,234.7L287.6,234.7L288.8,233.5ZM287.2,234.7L287.6,234.7L277.3,245.0L271.3,250.7L271.3,249.7ZM287.6,234.7L287.6,237.0L277.3,245.0ZM287.6,234.7L288.8,234.7L287.6,237.0Z" fill="#10ff00" stroke="#10ff00"/>
<path d="M287.6,228.3L287.6,233.0L287.2,234.7L286.1,234.7ZM290.4,218.4L291.8,218.4L287.6,233.0L287.6,228.3ZM286.1,234.7L287.2,234.7L271.3,249.7L271.3,248.7Z" fill="#30ff00" stroke="#30ff00"/>
<path d="M287.6,223.7L287.6,228.3L286.1,234.7L285.1,234.7ZM289.1,218.4L290.4,218.4L287.6,228.3L287.6,223.7ZM285.1,234.7L286.1,234.7L271.3,248.7L271.3,247.7Z" fill="#50ff00" stroke="#50ff00"/>
<path d="M287.6,219.0L287.6,223.7L285.1,234.7L284.0,234.7ZM287.8,218.4L289.1,218.4L287.6,223.7L287.6,219.0ZM284.0,234.7L285.1,234.7L271.3,247.7L271.3,246.7Z" fill="#71ff00" stroke="#71ff00"/>
<path d="M303.8,218.4L303.9,218.4L303.7,218.5ZM303.9,218.4L303.9,221.3L303.7,218.5ZM303.9,218.4L310.2,218.4L311.6,227.0L305.8,232.8L303.9,221.3ZM310.6,234.7L305.6,234.7L305.8,232.8L311.6,227.0ZM305.6,234.7L310.6,234.7L311.5,243.4L306.8,248.1ZM310.7,251.0L306.5,251.0L306.8,248.1L311.5,243.4ZM303.9,256.2L303.9,264.3L301.5,267.3L295.0,267.3ZM306.5,251.0L310.7,251.0L303.9,264.3L303.9,256.2ZM287.6,270.2L287.6,272.7L274.6,283.6L271.7,283.6ZM295.0,267.3L301.5,267.3L287.6,272.7L287.6,270.2ZM271.7,283.6L274.6,283.6L271.3,286.7L271.3,284.0Z" fill="#00feff" stroke="#00feff"/>
<path d="M302.4,218.4L303.8,218.4L303.7,218.5L301.9,220.4ZM303.9,221.3L303.9,234.7L302.6,234.7L301.9,220.4L303.7,218.5ZM305.8,232.8L303.9,234.7L303.9,221.3ZM305.6,234.7L303.9,234.7L305.8,232.8ZM302.6,234.7L303.9,234.7L301.0,237.6ZM303.9,234.7L303.9,251.0L302.2,251.0L301.0,237.6ZM303.9,234.7L305.6,234.7L306.8,248.1L303.9,251.0ZM306.5,251.0L303.9,251.0L306.8,248.1ZM302.2,251.0L303.9,251.0L291.8,263.1ZM303.9,251.0L303.9,256.2L295.0,267.3L288.4,267.3L291.8,263.1ZM303.9,251.0L306.5,251.0L303.9,256.2ZM285.5,269.5L271.3,283.6L271.3,278.0ZM287.6,267.7L287.6,270.2L271.7,283.6L271.3,283.6L285.5,269.5ZM288.4,267.3L295.0,267.3L287.6,270.2L287.6,267.7ZM271.3,283.6L271.7,283.6L271.3,284.0Z" fill="#00ffe2" stroke="#00ffe2"/>
<path d="M301.1,218.4L302.4,218.4L301.9,220.4L300.0,222.3ZM302.6,234.7L300.6,234.7L300.0,222.3L301.9,220.4ZM300.6,234.7L302.6,234.7L301.0,237.6L296.7,241.9ZM302.2,251.0L297.5,251.0L296.7,241.9L301.0,237.6ZM287.6,262.6L287.6,267.3L278.1,267.3ZM297.5,251.0L302.2,251.0L291.8,263.1L287.6,267.3L287.6,262.6ZM288.4,267.3L287.6,267.3L291.8,263.1ZM278.1,267.3L287.6,267.3L285.5,269.5L271.3,278.0L271.3,271.4ZM287.6,267.3L287.6,267.7L285.5,269.5ZM287.6,267.3L288.4,267.3L287.6,267.7Z" fill="#00ffc4" stroke="#00ffc4"/>
<path d="M299.8,218.4L301.1,218.4L300.0,222.3L298.1,224.2ZM300.6,234.7L298.6,234.7L298.1,224.2L300.0,222.3ZM298.6,234.7L300.6,234.7L296.7,241.9L292.4,246.2ZM297.5,251.0L292.8,251.0L292.4,246.2L296.7,241.9ZM275.3,263.3L271.3,267.3L271.3,266.1ZM287.6,257.2L287.6,262.6L278.1,267.3L271.3,267.3L275.3,263.3ZM292.8,251.0L297.5,251.0L287.6,262.6L287.6,257.2ZM271.3,267.3L278.1,267.3L271.3,271.4Z" fill="#00ffa6" stroke="#00ffa6"/>
<path d="M298.4,218.4L299.8,218.4L298.1,224.2L296.3,226.0ZM298.6,234.7L296.7,234.7L296.3,226.0L298.1,224.2ZM296.7,234.7L298.6,234.7L292.4,246.2L288.1,250.5ZM292.8,251.0L288.2,251.0L288.1,250.5L292.4,246.2ZM286.2,252.4L275.3,263.3L271.3,266.1L271.3,262.9ZM287.6,251.7L287.6,257.2L275.3,263.3L286.2,252.4ZM288.2,251.0L292.8,251.0L287.6,257.2L287.6,251.7Z" fill="#00ff88" stroke="#00ff88"/>
<path d="M297.1,218.4L298.4,218.4L296.3,226.0L294.4,227.9ZM296.7,234.7L294.7,234.7L294.4,227.9L296.3,226.0ZM287.6,247.9L287.6,251.0L283.5,251.0ZM294.7,234.7L296.7,234.7L288.1,250.5L287.6,251.0L287.6,247.9ZM288.2,251.0L287.6,251.0L288.1,250.5ZM283.5,251.0L287.6,251.0L286.2,252.4L271.3,262.9L271.3,259.6ZM287.6,251.0L287.6,251.7L286.2,252.4ZM287.6,251.0L288.2,251.0L287.6,251.7Z" fill="#00ff69" stroke="#00ff69"/>
<path d="M295.8,218.4L297.1,218.4L294.4,227.9L292.5,229.8ZM294.7,234.7L292.8,234.7L292.5,229.8L294.4,227.9ZM287.6,244.2L287.6,247.9L283.5,251.0L278.9,251.0ZM292.8,234.7L294.7,234.7L287.6,247.9L287.6,244.2ZM278.9,251.0L283.5,251.0L271.3,259.6L271.3,256.3Z" fill="#00ff4b" stroke="#00ff4b"/>
<path d="M294.4,218.4L295.8,218.4L292.5,229.8L290.6,231.7ZM292.8,234.7L290.8,234.7L290.6,231.7L292.5,229.8ZM287.6,240.6L287.6,244.2L278.9,251.0L274.2,251.0ZM290.8,234.7L292.8,234.7L287.6,244.2L287.6,240.6ZM274.2,251.0L278.9,251.0L271.3,256.3L271.3,253.1Z" fill="#00ff2d" stroke="#00ff2d"/>
<path d="M293.1,218.4L294.4,218.4L290.6,231.7L288.8,233.5ZM290.8,234.7L288.8,234.7L288.8,233.5L290.6,231.7ZM277.3,245.0L271.3,251.0L271.3,250.7ZM287.6,237.0L287.6,240.6L274.2,251.0L271.3,251.0L277.3,245.0ZM288.8,234.7L290.8,234.7L287.6,240.6L287.6,237.0ZM271.3,251.0L274.2,251.0L271.3,253.1Z" fill="#00ff0f" stroke="#00ff0f"/>
<path d="M317.0,218.4L320.2,218.4L317.4,221.1ZM320.2,218.4L320.2,234.7L315.7,234.7L317.4,221.1ZM320.2,218.4L331.0,218.4L325.5,229.4L320.2,234.7ZM321.9,234.7L320.2,234.7L325.5,229.4ZM358.2,218.4L369.0,218.4L360.4,227.0ZM369.0,218.4L369.0,229.2L360.4,227.0ZM369.0,218.4L378.6,218.4L382.0,221.8L371.8,232.0L369.0,229.2ZM385.3,222.9L385.3,234.7L380.0,234.7L371.8,232.0L382.0,221.8ZM397.1,222.9L385.3,234.7L385.3,222.9ZM401.6,223.8L401.6,234.7L385.3,234.7L397.1,222.9ZM410.6,218.4L417.9,218.4L401.6,234.7L401.6,223.8ZM417.9,218.4L417.9,230.3L410.6,234.7L401.6,234.7ZM315.7,234.7L320.2,234.7L316.1,238.8ZM320.2,234.7L320.2,240.0L319.0,251.0L314.9,251.0L316.1,238.8ZM320.2,234.7L321.9,234.7L320.2,240.0ZM380.0,234.7L385.3,234.7L383.6,236.5ZM385.3,234.7L385.3,236.5L383.6,236.5ZM385.3,234.7L401.6,234.7L397.8,238.6L385.3,236.5ZM401.6,234.7L401.6,238.6L397.8,238.6ZM401.6,234.7L410.6,234.7L401.6,238.6ZM314.9,251.0L319.0,251.0L317.9,253.3L309.3,261.9ZM313.7,267.3L307.7,267.3L309.3,261.9L317.9,253.3ZM287.6,275.2L287.6,277.7L280.6,283.6L277.6,283.6ZM301.3,269.9L297.2,274.0L287.6,277.7L287.6,275.2ZM303.9,269.9L303.9,274.0L297.2,274.0L301.3,269.9ZM307.7,267.3L313.7,267.3L303.9,274.0L303.9,269.9ZM277.6,283.6L280.6,283.6L271.3,292.2L271.3,289.4ZM401.6,339.9L401.6,348.9L397.1,348.9ZM407.0,343.5L401.6,348.9L401.6,339.9ZM410.6,348.9L401.6,348.9L407.0,343.5ZM397.1,348.9L401.6,348.9L397.8,352.7ZM401.6,348.9L401.6,354.3L397.8,352.7ZM401.6,348.9L410.6,348.9L401.6,354.3Z" fill="#00bfff" stroke="#00bfff"/>
<path d="M310.2,218.4L317.0,218.4L317.4,221.1L311.6,227.0ZM315.7,234.7L310.6,234.7L311.6,227.0L317.4,221.1ZM378.6,218.4L385.3,218.4L382.0,221.8ZM385.3,218.4L385.3,222.9L382.0,221.8ZM385.3,218.4L401.6,218.4L397.1,222.9L385.3,222.9ZM401.6,218.4L401.6,223.8L397.1,222.9ZM401.6,218.4L410.6,218.4L401.6,223.8ZM310.6,234.7L315.7,234.7L316.1,238.8L311.5,243.4ZM314.9,251.0L310.7,251.0L311.5,243.4L316.1,238.8ZM303.9,264.3L303.9,267.3L301.5,267.3ZM310.7,251.0L314.9,251.0L309.3,261.9L303.9,267.3L303.9,264.3ZM307.7,267.3L303.9,267.3L309.3,261.9ZM287.6,272.7L287.6,275.2L277.6,283.6L274.6,283.6ZM301.5,267.3L303.9,267.3L301.3,269.9L287.6,275.2L287.6,272.7ZM303.9,267.3L303.9,269.9L301.3,269.9ZM303.9,267.3L307.7,267.3L303.9,269.9ZM274.6,283.6L277.6,283.6L271.3,289.4L271.3,286.7Z" fill="#00deff" stroke="#00deff"/>
<path d="M331.0,218.4L336.5,218.4L325.5,229.4ZM336.5,218.4L336.5,233.3L335.5,234.7L321.9,234.7L325.5,229.4ZM336.5,218.4L352.7,218.4L337.9,233.3L336.5,233.3ZM352.7,218.4L352.7,234.7L338.4,234.7L337.9,233.3ZM352.7,218.4L358.2,218.4L360.4,227.0L352.7,234.7ZM369.0,229.2L369.0,234.7L352.7,234.7L360.4,227.0ZM371.8,232.0L369.0,234.7L369.0,229.2ZM380.0,234.7L369.0,234.7L371.8,232.0ZM417.9,230.3L417.9,234.7L410.6,234.7ZM320.2,240.0L320.2,251.0L319.0,251.0ZM321.9,234.7L335.5,234.7L335.0,236.1L320.2,251.0L320.2,240.0ZM327.6,251.0L320.2,251.0L335.0,236.1ZM338.4,234.7L352.7,234.7L346.6,240.9ZM352.7,234.7L352.7,249.1L346.6,240.9ZM352.7,234.7L369.0,234.7L354.2,249.6L352.7,249.1ZM369.0,234.7L369.0,249.6L354.2,249.6ZM369.0,234.7L380.0,234.7L383.6,236.5L370.0,250.1L369.0,249.6ZM385.3,236.5L385.3,250.1L370.0,250.1L383.6,236.5ZM397.8,238.6L386.1,250.2L385.3,250.1L385.3,236.5ZM401.6,238.6L401.6,250.2L386.1,250.2L397.8,238.6ZM410.6,234.7L417.9,234.7L403.0,249.6L401.6,250.2L401.6,238.6ZM417.9,234.7L417.9,249.6L403.0,249.6ZM319.0,251.0L320.2,251.0L317.9,253.3ZM320.2,251.0L320.2,265.9L319.7,267.3L313.7,267.3L317.9,253.3ZM320.2,251.0L327.6,251.0L320.2,265.9ZM352.7,252.4L352.7,267.3L337.9,267.3ZM367.6,252.4L352.7,267.3L352.7,252.4ZM367.6,267.3L352.7,267.3L367.6,252.4ZM287.6,277.7L287.6,280.2L283.5,283.6L280.6,283.6ZM297.2,274.0L293.2,278.1L287.6,280.2L287.6,277.7ZM303.9,274.0L303.9,278.1L293.2,278.1L297.2,274.0ZM313.7,267.3L319.7,267.3L303.9,278.1L303.9,274.0ZM337.9,267.3L352.7,267.3L337.9,282.2ZM352.7,267.3L352.7,283.6L337.9,283.6L337.9,282.2ZM352.7,267.3L367.6,267.3L367.6,268.8L352.7,283.6ZM367.6,283.6L352.7,283.6L367.6,268.8ZM417.9,268.8L417.9,283.6L403.0,283.6ZM280.6,283.6L283.5,283.6L271.3,294.9L271.3,292.2ZM337.9,283.6L352.7,283.6L348.2,288.2ZM352.7,283.6L352.7,298.5L348.2,288.2ZM352.7,283.6L367.6,283.6L352.7,298.5ZM369.0,289.4L369.0,300.0L358.4,300.0ZM372.6,296.4L369.0,300.0L369.0,289.4ZM372.6,300.0L369.0,300.0L372.6,296.4ZM403.0,283.6L417.9,283.6L403.0,298.5ZM417.9,283.6L417.9,300.0L403.5,300.0L403.0,298.5ZM358.4,300.0L369.0,300.0L358.4,310.6ZM369.0,300.0L369.0,316.3L358.4,316.3L358.4,310.6ZM369.0,300.0L372.6,300.0L372.6,312.7L369.0,316.3ZM379.6,316.3L369.0,316.3L372.6,312.7ZM403.5,300.0L417.9,300.0L409.3,308.6ZM417.9,300.0L417.9,314.4L409.3,308.6ZM352.7,317.7L352.7,332.6L346.5,332.6ZM358.4,316.3L369.0,316.3L352.7,332.6L352.7,317.7ZM369.0,316.3L369.0,326.9L367.6,332.6L352.7,332.6ZM369.0,316.3L379.6,316.3L369.0,326.9ZM401.6,322.7L401.6,332.6L386.7,332.6ZM416.5,317.7L401.6,332.6L401.6,322.7ZM417.9,319.1L417.9,332.6L401.6,332.6L416.5,317.7ZM346.5,332.6L352.7,332.6L344.3,341.1ZM352.7,332.6L352.7,348.9L347.4,348.9L344.3,341.1ZM352.7,332.6L367.6,332.6L366.2,335.4L352.7,348.9ZM366.2,348.9L352.7,348.9L366.2,335.4ZM385.3,338.3L385.3,348.9L374.7,348.9ZM386.7,332.6L401.6,332.6L385.3,348.9L385.3,338.3ZM401.6,332.6L401.6,339.9L397.1,348.9L385.3,348.9ZM401.6,332.6L417.9,332.6L407.0,343.5L401.6,339.9ZM417.9,332.6L417.9,348.9L410.6,348.9L407.0,343.5ZM347.4,348.9L352.7,348.9L339.3,362.3ZM352.7,348.9L352.7,362.3L339.3,362.3ZM352.7,348.9L366.2,348.9L352.7,362.3ZM374.7,348.9L385.3,348.9L374.7,359.5ZM385.3,348.9L385.3,359.5L374.7,359.5ZM385.3,348.9L397.1,348.9L397.8,352.7L386.1,364.4L385.3,359.5ZM401.6,354.3L401.6,365.2L388.2,365.2L386.1,364.4L397.8,352.7ZM410.6,348.9L417.9,348.9L401.6,365.2L401.6,354.3ZM417.9,348.9L417.9,363.8L415.0,365.2L401.6,365.2Z" fill="#009fff" stroke="#009fff"/>
<path d="M336.5,233.3L336.5,234.7L335.5,234.7ZM337.9,233.3L336.5,234.7L336.5,233.3ZM338.4,234.7L336.5,234.7L337.9,233.3ZM335.5,234.7L336.5,234.7L335.0,236.1ZM336.5,234.7L336.5,251.0L327.6,251.0L335.0,236.1ZM336.5,234.7L338.4,234.7L346.6,240.9L336.5,251.0ZM352.7,249.1L352.7,251.0L336.5,251.0L346.6,240.9ZM354.2,249.6L352.7,251.0L352.7,249.1ZM369.0,249.6L369.0,251.0L352.7,251.0L354.2,249.6ZM370.0,250.1L369.0,251.0L369.0,249.6ZM385.3,250.1L385.3,251.0L369.0,251.0L370.0,250.1ZM386.1,250.2L385.3,251.0L385.3,250.1ZM401.6,250.2L401.6,251.0L385.3,251.0L386.1,250.2ZM403.0,249.6L401.6,251.0L401.6,250.2ZM417.9,249.6L417.9,251.0L401.6,251.0L403.0,249.6ZM320.2,265.9L320.2,267.3L319.7,267.3ZM327.6,251.0L336.5,251.0L320.2,267.3L320.2,265.9ZM336.5,251.0L336.5,267.3L320.2,267.3ZM336.5,251.0L352.7,251.0L336.5,267.3ZM352.7,251.0L352.7,252.4L337.9,267.3L336.5,267.3ZM352.7,251.0L369.0,251.0L367.6,252.4L352.7,252.4ZM369.0,251.0L369.0,267.3L367.6,267.3L367.6,252.4ZM369.0,251.0L385.3,251.0L369.0,267.3ZM385.3,251.0L385.3,267.3L369.0,267.3ZM385.3,251.0L401.6,251.0L385.3,267.3ZM401.6,251.0L401.6,267.3L385.3,267.3ZM401.6,251.0L417.9,251.0L401.6,267.3ZM417.9,251.0L417.9,267.3L401.6,267.3ZM287.6,280.2L287.6,282.7L286.5,283.6L283.5,283.6ZM293.2,278.1L289.1,282.1L287.6,282.7L287.6,280.2ZM303.9,278.1L303.9,282.1L289.1,282.1L293.2,278.1ZM319.7,267.3L320.2,267.3L308.5,279.0L303.9,282.1L303.9,278.1ZM320.2,267.3L320.2,283.6L312.5,283.6L308.5,279.0ZM320.2,267.3L336.5,267.3L320.2,283.6ZM336.5,267.3L336.5,283.6L320.2,283.6ZM336.5,267.3L337.9,267.3L337.9,282.2L336.5,283.6ZM337.9,283.6L336.5,283.6L337.9,282.2ZM367.6,267.3L369.0,267.3L367.6,268.8ZM369.0,267.3L369.0,283.6L367.6,283.6L367.6,268.8ZM369.0,267.3L385.3,267.3L369.0,283.6ZM385.3,267.3L385.3,283.6L369.0,283.6ZM385.3,267.3L401.6,267.3L385.3,283.6ZM401.6,267.3L401.6,283.6L385.3,283.6ZM401.6,267.3L417.9,267.3L401.6,283.6ZM417.9,267.3L417.9,268.8L403.0,283.6L401.6,283.6ZM283.5,283.6L286.5,283.6L271.3,297.6L271.3,294.9ZM312.5,283.6L320.2,283.6L318.7,285.1ZM320.2,283.6L320.2,285.6L318.7,285.1ZM320.2,283.6L336.5,283.6L331.9,288.2L320.2,285.6ZM336.5,283.6L336.5,292.1L331.9,288.2ZM336.5,283.6L337.9,283.6L348.2,288.2L341.9,294.5L336.5,292.1ZM352.7,298.5L352.7,300.0L344.3,300.0L341.9,294.5L348.2,288.2ZM367.6,283.6L369.0,283.6L352.7,300.0L352.7,298.5ZM369.0,283.6L369.0,289.4L358.4,300.0L352.7,300.0ZM369.0,283.6L385.3,283.6L372.6,296.4L369.0,289.4ZM385.3,283.6L385.3,300.0L372.6,300.0L372.6,296.4ZM385.3,283.6L401.6,283.6L385.3,300.0ZM401.6,283.6L401.6,300.0L385.3,300.0ZM401.6,283.6L403.0,283.6L403.0,298.5L401.6,300.0ZM403.5,300.0L401.6,300.0L403.0,298.5ZM344.3,300.0L352.7,300.0L341.9,310.8ZM352.7,300.0L352.7,316.3L341.9,316.3L341.9,310.8ZM352.7,300.0L358.4,300.0L358.4,310.6L352.7,316.3ZM358.4,316.3L352.7,316.3L358.4,310.6ZM372.6,300.0L385.3,300.0L372.6,312.7ZM385.3,300.0L385.3,316.3L379.6,316.3L372.6,312.7ZM385.3,300.0L401.6,300.0L385.3,316.3ZM401.6,300.0L401.6,316.3L385.3,316.3ZM401.6,300.0L403.5,300.0L409.3,308.6L401.6,316.3ZM417.9,314.4L417.9,316.3L401.6,316.3L409.3,308.6ZM341.9,316.3L352.7,316.3L339.0,330.1ZM352.7,316.3L352.7,317.7L346.5,332.6L337.9,332.6L339.0,330.1ZM352.7,316.3L358.4,316.3L352.7,317.7ZM369.0,326.9L369.0,332.6L367.6,332.6ZM379.6,316.3L385.3,316.3L369.0,332.6L369.0,326.9ZM385.3,316.3L385.3,332.6L369.0,332.6ZM385.3,316.3L401.6,316.3L385.3,332.6ZM401.6,316.3L401.6,322.7L386.7,332.6L385.3,332.6ZM401.6,316.3L417.9,316.3L416.5,317.7L401.6,322.7ZM417.9,316.3L417.9,319.1L416.5,317.7ZM336.5,338.1L336.5,348.9L332.0,348.9ZM337.9,332.6L346.5,332.6L344.3,341.1L336.5,348.9L336.5,338.1ZM347.4,348.9L336.5,348.9L344.3,341.1ZM367.6,332.6L369.0,332.6L366.2,335.4ZM369.0,332.6L369.0,348.9L366.2,348.9L366.2,335.4ZM369.0,332.6L385.3,332.6L369.0,348.9ZM385.3,332.6L385.3,338.3L374.7,348.9L369.0,348.9ZM385.3,332.6L386.7,332.6L385.3,338.3ZM274.4,362.1L271.3,365.2L271.3,359.5ZM287.6,363.6L287.6,365.2L271.3,365.2L274.4,362.1ZM289.6,363.2L287.6,365.2L287.6,363.6ZM303.9,362.2L303.9,365.2L287.6,365.2L289.6,363.2ZM310.0,359.0L303.9,365.2L303.9,362.2ZM320.2,357.2L320.2,365.2L303.9,365.2L310.0,359.0ZM332.0,348.9L336.5,348.9L320.2,365.2L320.2,357.2ZM336.5,348.9L336.5,365.2L320.2,365.2ZM336.5,348.9L347.4,348.9L339.3,362.3L336.5,365.2ZM352.7,362.3L352.7,365.2L336.5,365.2L339.3,362.3ZM366.2,348.9L369.0,348.9L352.7,365.2L352.7,362.3ZM369.0,348.9L369.0,365.2L352.7,365.2ZM369.0,348.9L374.7,348.9L374.7,359.5L369.0,365.2ZM385.3,359.5L385.3,365.2L369.0,365.2L374.7,359.5ZM386.1,364.4L385.3,365.2L385.3,359.5ZM388.2,365.2L385.3,365.2L386.1,364.4ZM417.9,363.8L417.9,365.2L415.0,365.2Z" fill="#0080ff" stroke="#0080ff"/>
<path d="M287.6,282.7L287.6,283.6L286.5,283.6ZM289.1,282.1L287.6,283.6L287.6,282.7ZM303.9,282.1L303.9,283.6L287.6,283.6L289.1,282.1ZM308.5,279.0L303.9,283.6L303.9,282.1ZM312.5,283.6L303.9,283.6L308.5,279.0ZM286.5,283.6L287.6,283.6L271.3,300.0L271.3,297.6ZM287.6,283.6L287.6,287.1L272.1,300.0L271.3,300.0ZM287.6,283.6L303.9,283.6L300.5,287.1L287.6,287.1ZM303.9,283.6L303.9,287.1L300.5,287.1ZM303.9,283.6L312.5,283.6L318.7,285.1L314.3,289.5L303.9,287.1ZM320.2,285.6L320.2,291.7L314.3,289.5L318.7,285.1ZM331.9,288.2L326.9,293.2L320.2,291.7L320.2,285.6ZM336.5,292.1L336.5,300.0L335.0,300.0L326.9,293.2L331.9,288.2ZM341.9,294.5L336.5,300.0L336.5,292.1ZM344.3,300.0L336.5,300.0L341.9,294.5ZM271.3,300.0L272.1,300.0L271.3,301.0ZM335.0,300.0L336.5,300.0L335.5,300.9ZM336.5,300.0L336.5,316.3L333.1,316.3L335.5,300.9ZM336.5,300.0L344.3,300.0L341.9,310.8L336.5,316.3ZM341.9,316.3L336.5,316.3L341.9,310.8ZM333.1,316.3L336.5,316.3L332.5,320.2ZM336.5,316.3L336.5,332.6L331.0,332.6L332.5,320.2ZM336.5,316.3L341.9,316.3L339.0,330.1L336.5,332.6ZM337.9,332.6L336.5,332.6L339.0,330.1ZM320.2,347.7L320.2,348.9L318.8,348.9ZM331.0,332.6L336.5,332.6L320.2,348.9L320.2,347.7ZM336.5,332.6L336.5,338.1L332.0,348.9L320.2,348.9ZM336.5,332.6L337.9,332.6L336.5,338.1ZM278.7,357.8L274.4,362.1L271.3,359.5L271.3,351.8ZM287.6,358.8L287.6,363.6L274.4,362.1L278.7,357.8ZM295.6,357.2L289.6,363.2L287.6,363.6L287.6,358.8ZM303.9,356.6L303.9,362.2L289.6,363.2L295.6,357.2ZM318.8,348.9L320.2,348.9L310.0,359.0L303.9,362.2L303.9,356.6ZM320.2,348.9L320.2,357.2L310.0,359.0ZM320.2,348.9L332.0,348.9L320.2,357.2Z" fill="#0060ff" stroke="#0060ff"/>
<path d="M287.6,297.9L287.6,300.0L285.2,300.0ZM289.6,297.9L287.6,300.0L287.6,297.9ZM303.9,297.9L303.9,300.0L287.6,300.0L289.6,297.9ZM305.5,298.3L303.9,300.0L303.9,297.9ZM309.9,300.0L303.9,300.0L305.5,298.3ZM285.2,300.0L287.6,300.0L275.5,312.0ZM287.6,300.0L287.6,310.2L283.6,316.3L272.7,316.3L275.5,312.0ZM287.6,300.0L303.9,300.0L293.6,310.2L287.6,310.2ZM303.9,300.0L303.9,310.2L293.6,310.2ZM303.9,300.0L309.9,300.0L315.0,305.1L306.9,313.2L303.9,310.2ZM320.2,314.6L320.2,316.3L308.5,316.3L306.9,313.2L315.0,305.1ZM320.7,315.7L320.2,316.3L320.2,314.6ZM320.6,316.3L320.2,316.3L320.7,315.7ZM272.7,316.3L283.6,316.3L283.6,320.3L272.7,331.2ZM282.8,332.6L272.6,332.6L272.7,331.2L283.6,320.3ZM308.5,316.3L320.2,316.3L305.0,331.4ZM320.2,316.3L320.2,319.1L316.3,332.6L304.7,332.6L305.0,331.4ZM320.2,316.3L320.6,316.3L320.2,319.1ZM272.6,332.6L282.8,332.6L285.1,335.1L279.9,340.3ZM287.6,338.1L287.6,348.9L286.9,348.9L279.9,340.3L285.1,335.1ZM302.7,333.7L287.6,348.9L287.6,338.1ZM303.9,333.2L303.9,342.8L289.2,348.9L287.6,348.9L302.7,333.7ZM304.7,332.6L316.3,332.6L303.9,342.8L303.9,333.2ZM286.9,348.9L287.6,348.9L287.3,349.2ZM287.6,348.9L287.6,349.2L287.3,349.2ZM287.6,348.9L289.2,348.9L287.6,349.2Z" fill="#0002ff" stroke="#0002ff"/>
<path d="M287.6,292.5L287.6,297.9L285.2,300.0L278.7,300.0ZM295.0,292.5L289.6,297.9L287.6,297.9L287.6,292.5ZM303.9,292.5L303.9,297.9L289.6,297.9L295.0,292.5ZM309.9,293.9L305.5,298.3L303.9,297.9L303.9,292.5ZM320.2,297.7L320.2,300.0L309.9,300.0L305.5,298.3L309.9,293.9ZM322.0,298.1L320.2,300.0L320.2,297.7ZM324.2,300.0L320.2,300.0L322.0,298.1ZM278.7,300.0L285.2,300.0L275.5,312.0L271.3,316.3L271.3,309.2ZM272.7,316.3L271.3,316.3L275.5,312.0ZM309.9,300.0L320.2,300.0L315.0,305.1ZM320.2,300.0L320.2,314.6L315.0,305.1ZM320.2,300.0L324.2,300.0L328.1,308.3L320.7,315.7L320.2,314.6ZM326.9,316.3L320.6,316.3L320.7,315.7L328.1,308.3ZM271.3,316.3L272.7,316.3L272.7,331.2L271.3,332.6ZM272.6,332.6L271.3,332.6L272.7,331.2ZM320.2,319.1L320.2,332.6L316.3,332.6ZM320.6,316.3L326.9,316.3L325.1,327.6L320.2,332.6L320.2,319.1ZM324.5,332.6L320.2,332.6L325.1,327.6ZM271.3,332.6L272.6,332.6L279.9,340.3L274.6,345.6L271.3,342.0ZM286.9,348.9L277.3,348.9L274.6,345.6L279.9,340.3ZM303.9,342.8L303.9,348.9L289.2,348.9ZM316.3,332.6L320.2,332.6L303.9,348.9L303.9,342.8ZM320.2,332.6L320.2,338.6L307.9,348.9L303.9,348.9ZM320.2,332.6L324.5,332.6L320.2,338.6ZM277.3,348.9L286.9,348.9L287.3,349.2L283.0,353.5ZM287.6,349.2L287.6,354.0L283.0,353.5L287.3,349.2ZM289.2,348.9L303.9,348.9L301.6,351.1L287.6,354.0L287.6,349.2ZM303.9,348.9L303.9,351.0L301.6,351.1ZM303.9,348.9L307.9,348.9L303.9,351.0Z" fill="#0021ff" stroke="#0021ff"/>
<path d="M287.6,287.1L287.6,292.5L278.7,300.0L272.1,300.0ZM300.5,287.1L295.0,292.5L287.6,292.5L287.6,287.1ZM303.9,287.1L303.9,292.5L295.0,292.5L300.5,287.1ZM314.3,289.5L309.9,293.9L303.9,292.5L303.9,287.1ZM320.2,291.7L320.2,297.7L309.9,293.9L314.3,289.5ZM326.9,293.2L322.0,298.1L320.2,297.7L320.2,291.7ZM335.0,300.0L324.2,300.0L322.0,298.1L326.9,293.2ZM272.1,300.0L278.7,300.0L271.3,309.2L271.3,301.0ZM324.2,300.0L335.0,300.0L335.5,300.9L328.1,308.3ZM333.1,316.3L326.9,316.3L328.1,308.3L335.5,300.9ZM326.9,316.3L333.1,316.3L332.5,320.2L325.1,327.6ZM331.0,332.6L324.5,332.6L325.1,327.6L332.5,320.2ZM274.6,345.6L271.3,348.9L271.3,342.0ZM277.3,348.9L271.3,348.9L274.6,345.6ZM320.2,338.6L320.2,347.7L318.8,348.9L307.9,348.9ZM324.5,332.6L331.0,332.6L320.2,347.7L320.2,338.6ZM271.3,348.9L277.3,348.9L283.0,353.5L278.7,357.8L271.3,351.8ZM287.6,354.0L287.6,358.8L278.7,357.8L283.0,353.5ZM301.6,351.1L295.6,357.2L287.6,358.8L287.6,354.0ZM303.9,351.0L303.9,356.6L295.6,357.2L301.6,351.1ZM307.9,348.9L318.8,348.9L303.9,356.6L303.9,351.0Z" fill="#0041ff" stroke="#0041ff"/>
<path d="M287.6,310.2L287.6,316.3L283.6,316.3ZM293.6,310.2L287.6,316.3L287.6,310.2ZM303.9,310.2L303.9,316.3L287.6,316.3L293.6,310.2ZM306.9,313.2L303.9,316.3L303.9,310.2ZM308.5,316.3L303.9,316.3L306.9,313.2ZM283.6,316.3L287.6,316.3L283.6,320.3ZM287.6,316.3L287.6,332.6L282.8,332.6L283.6,320.3ZM287.6,316.3L303.9,316.3L287.6,332.6ZM303.9,316.3L303.9,332.6L287.6,332.6ZM303.9,316.3L308.5,316.3L305.0,331.4L303.9,332.6ZM304.7,332.6L303.9,332.6L305.0,331.4ZM282.8,332.6L287.6,332.6L285.1,335.1ZM287.6,332.6L287.6,338.1L285.1,335.1ZM287.6,332.6L303.9,332.6L302.7,333.7L287.6,338.1ZM303.9,332.6L303.9,333.2L302.7,333.7ZM303.9,332.6L304.7,332.6L303.9,333.2Z" fill="#0000fd" stroke="#0000fd"/>
</g>
<path d="M287.6,297.9L285.2,300.0M289.6,297.9L287.6,297.9M303.9,297.9L289.6,297.9M305.5,298.3L303.9,297.9M309.9,300.0L305.5,298.3M285.2,300.0L275.5,312.0M272.7,316.3L275.5,312.0M309.9,300.0L315.0,305.1M320.2,314.6L315.0,305.1M320.7,315.7L320.2,314.6M320.6,316.3L320.7,315.7M272.7,316.3L272.7,331.2M272.6,332.6L272.7,331.2M320.2,319.1L316.3,332.6M320.6,316.3L320.2,319.1M272.6,332.6L279.9,340.3M286.9,348.9L279.9,340.3M303.9,342.8L289.2,348.9M316.3,332.6L303.9,342.8M286.9,348.9L287.3,349.2M287.6,349.2L287.3,349.2M289.2,348.9L287.6,349.2M287.6,287.1L272.1,300.0M300.5,287.1L287.6,287.1M303.9,287.1L300.5,287.1M314.3,289.5L303.9,287.1M320.2,291.7L314.3,289.5M326.9,293.2L320.2,291.7M335.0,300.0L326.9,293.2M272.1,300.0L271.3,301.0M335.0,300.0L335.5,300.9M333.1,316.3L335.5,300.9M333.1,316.3L332.5,320.2M331.0,332.6L332.5,320.2M320.2,347.7L318.8,348.9M331.0,332.6L320.2,347.7M278.7,357.8L271.3,351.8M287.6,358.8L278.7,357.8M295.6,357.2L287.6,358.8M303.9,356.6L295.6,357.2M318.8,348.9L303.9,356.6M336.5,233.3L335.5,234.7M337.9,233.3L336.5,233.3M338.4,234.7L337.9,233.3M335.5,234.7L335.0,236.1M327.6,251.0L335.0,236.1M338.4,234.7L346.6,240.9M352.7,249.1L346.6,240.9M354.2,249.6L352.7,249.1M369.0,249.6L354.2,249.6M370.0,250.1L369.0,249.6M385.3,250.1L370.0,250.1M386.1,250.2L385.3,250.1M401.6,250.2L386.1,250.2M403.0,249.6L401.6,250.2M417.9,249.6L403.0,249.6M320.2,265.9L319.7,267.3M327.6,251.0L320.2,265.9M352.7,252.4L337.9,267.3M367.6,252.4L352.7,252.4M367.6,267.3L367.6,252.4M287.6,280.2L283.5,283.6M293.2,278.1L287.6,280.2M303.9,278.1L293.2,278.1M319.7,267.3L303.9,278.1M337.9,267.3L337.9,282.2M337.9,283.6L337.9,282.2M367.6,267.3L367.6,268.8M367.6,283.6L367.6,268.8M417.9,268.8L403.0,283.6M283.5,283.6L271.3,294.9M337.9,283.6L348.2,288.2M352.7,298.5L348.2,288.2M367.6,283.6L352.7,298.5M369.0,289.4L358.4,300.0M372.6,296.4L369.0,289.4M372.6,300.0L372.6,296.4M403.0,283.6L403.0,298.5M403.5,300.0L403.0,298.5M358.4,300.0L358.4,310.6M358.4,316.3L358.4,310.6M372.6,300.0L372.6,312.7M379.6,316.3L372.6,312.7M403.5,300.0L409.3,308.6M417.9,314.4L409.3,308.6M352.7,317.7L346.5,332.6M358.4,316.3L352.7,317.7M369.0,326.9L367.6,332.6M379.6,316.3L369.0,326.9M401.6,322.7L386.7,332.6M416.5,317.7L401.6,322.7M417.9,319.1L416.5,317.7M346.5,332.6L344.3,341.1M347.4,348.9L344.3,341.1M367.6,332.6L366.2,335.4M366.2,348.9L366.2,335.4M385.3,338.3L374.7,348.9M386.7,332.6L385.3,338.3M347.4,348.9L339.3,362.3M352.7,362.3L339.3,362.3M366.2,348.9L352.7,362.3M374.7,348.9L374.7,359.5M385.3,359.5L374.7,359.5M386.1,364.4L385.3,359.5M388.2,365.2L386.1,364.4M417.9,363.8L415.0,365.2M317.0,218.4L317.4,221.1M315.7,234.7L317.4,221.1M378.6,218.4L382.0,221.8M385.3,222.9L382.0,221.8M397.1,222.9L385.3,222.9M401.6,223.8L397.1,222.9M410.6,218.4L401.6,223.8M315.7,234.7L316.1,238.8M314.9,251.0L316.1,238.8M314.9,251.0L309.3,261.9M307.7,267.3L309.3,261.9M287.6,275.2L277.6,283.6M301.3,269.9L287.6,275.2M303.9,269.9L301.3,269.9M307.7,267.3L303.9,269.9M277.6,283.6L271.3,289.4M303.8,218.4L303.7,218.5M303.9,221.3L303.7,218.5M305.8,232.8L303.9,221.3M305.6,234.7L305.8,232.8M305.6,234.7L306.8,248.1M306.5,251.0L306.8,248.1M303.9,256.2L295.0,267.3M306.5,251.0L303.9,256.2M287.6,270.2L271.7,283.6M295.0,267.3L287.6,270.2M271.7,283.6L271.3,284.0M301.1,218.4L300.0,222.3M300.6,234.7L300.0,222.3M300.6,234.7L296.7,241.9M297.5,251.0L296.7,241.9M287.6,262.6L278.1,267.3M297.5,251.0L287.6,262.6M278.1,267.3L271.3,271.4M298.4,218.4L296.3,226.0M296.7,234.7L296.3,226.0M296.7,234.7L288.1,250.5M288.2,251.0L288.1,250.5M286.2,252.4L271.3,262.9M287.6,251.7L286.2,252.4M288.2,251.0L287.6,251.7M295.8,218.4L292.5,229.8M292.8,234.7L292.5,229.8M287.6,244.2L278.9,251.0M292.8,234.7L287.6,244.2M278.9,251.0L271.3,256.3M293.1,218.4L288.8,233.5M288.8,234.7L288.8,233.5M277.3,245.0L271.3,250.7M287.6,237.0L277.3,245.0M288.8,234.7L287.6,237.0M287.6,228.3L286.1,234.7M290.4,218.4L287.6,228.3M286.1,234.7L271.3,248.7M287.6,219.0L284.0,234.7M287.8,218.4L287.6,219.0M284.0,234.7L271.3,246.7M285.2,218.4L285.1,220.9M281.9,234.7L285.1,220.9M281.9,234.7L271.3,244.7M282.7,218.4L282.3,223.7M279.8,234.7L282.3,223.7M279.8,234.7L271.3,242.7M280.2,218.4L279.6,226.4M277.7,234.7L279.6,226.4M277.7,234.7L271.3,240.8M277.7,218.4L276.9,229.1M275.6,234.7L276.9,229.1M275.6,234.7L271.3,238.8M275.2,218.4L274.2,231.8M273.5,234.7L274.2,231.8M273.5,234.7L271.3,236.8M272.7,218.4L271.5,234.5M271.4,234.7L271.5,234.5M271.4,234.7L271.3,234.8" stroke="#333" stroke-opacity="0.2" stroke-width="0.5" fill="none"/>
<g fill="none" stroke="#263238" stroke-width="0.9" stroke-linejoin="miter">
<polyline points="274.9,218.4 271.3,223.0"/>
<polyline points="271.3,246.1 275.7,280.4 295.6,237.3 289.9,218.4"/>
<polyline points="271.3,302.1 286.4,278.3 344.4,282.7 358.3,313.7 327.5,365.2"/>
</g>
<path d="M271.3,365.2v1.8M271.3,365.2h-1.8M287.6,365.2v3M271.3,348.9h-3M303.9,365.2v1.8M271.3,332.6h-1.8M320.2,365.2v3M271.3,316.3h-3M336.5,365.2v1.8M271.3,300.0h-1.8M352.7,365.2v3M271.3,283.6h-3M369.0,365.2v1.8M271.3,267.3h-1.8M385.3,365.2v3M271.3,251.0h-3M401.6,365.2v1.8M271.3,234.7h-1.8M417.9,365.2v3M271.3,218.4h-3" stroke="#333" stroke-width="0.9" fill="none"/>
<rect x="271.3" y="218.4" width="146.6" height="146.8" fill="none" stroke="#333" stroke-width="1"/>
<text x="287.6" y="376.8" font-size="10" text-anchor="middle" fill="#222" >2</text>
<text x="267.5" y="352.5" font-size="10" text-anchor="end" fill="#222" >2</text>
<text x="320.2" y="376.8" font-size="10" text-anchor="middle" fill="#222" >4</text>
<text x="267.5" y="319.9" font-size="10" text-anchor="end" fill="#222" >4</text>
<text x="352.7" y="376.8" font-size="10" text-anchor="middle" fill="#222" >6</text>
<text x="267.5" y="287.2" font-size="10" text-anchor="end" fill="#222" >6</text>
<text x="385.3" y="376.8" font-size="10" text-anchor="middle" fill="#222" >8</text>
<text x="267.5" y="254.6" font-size="10" text-anchor="end" fill="#222" >8</text>
<text x="417.9" y="376.8" font-size="10" text-anchor="middle" fill="#222" >10</text>
<text x="267.5" y="222" font-size="10" text-anchor="end" fill="#222" >10</text>
<text x="242.5" y="217.3" font-size="14" text-anchor="start" fill="#111" >e</text>
<text x="345.6" y="388.5" font-size="10.5" text-anchor="middle" fill="#222">X (µm)</text>
<text transform="translate(256.0,292.8) rotate(-90)" font-size="10.5" text-anchor="middle" fill="#222">Y (µm)</text>
<rect x="440.2" y="218.6" width="12.9" height="2.9" fill="#fff"/>
<rect x="440.2" y="362.3" width="12.9" height="2.9" fill="#000"/>
<rect x="440.2" y="358.39" width="12.9" height="4.21" fill="#0000fd"/>
<rect x="440.2" y="354.48" width="12.9" height="4.21" fill="#0002ff"/>
<rect x="440.2" y="350.57" width="12.9" height="4.21" fill="#0021ff"/>
<rect x="440.2" y="346.66" width="12.9" height="4.21" fill="#0041ff"/>
<rect x="440.2" y="342.74" width="12.9" height="4.21" fill="#0060ff"/>
<rect x="440.2" y="338.83" width="12.9" height="4.21" fill="#0080ff"/>
<rect x="440.2" y="334.92" width="12.9" height="4.21" fill="#009fff"/>
<rect x="440.2" y="331.01" width="12.9" height="4.21" fill="#00bfff"/>
<rect x="440.2" y="327.10" width="12.9" height="4.21" fill="#00deff"/>
<rect x="440.2" y="323.19" width="12.9" height="4.21" fill="#00feff"/>
<rect x="440.2" y="319.28" width="12.9" height="4.21" fill="#00ffe2"/>
<rect x="440.2" y="315.37" width="12.9" height="4.21" fill="#00ffc4"/>
<rect x="440.2" y="311.46" width="12.9" height="4.21" fill="#00ffa6"/>
<rect x="440.2" y="307.54" width="12.9" height="4.21" fill="#00ff88"/>
<rect x="440.2" y="303.63" width="12.9" height="4.21" fill="#00ff69"/>
<rect x="440.2" y="299.72" width="12.9" height="4.21" fill="#00ff4b"/>
<rect x="440.2" y="295.81" width="12.9" height="4.21" fill="#00ff2d"/>
<rect x="440.2" y="291.90" width="12.9" height="4.21" fill="#00ff0f"/>
<rect x="440.2" y="287.99" width="12.9" height="4.21" fill="#10ff00"/>
<rect x="440.2" y="284.08" width="12.9" height="4.21" fill="#30ff00"/>
<rect x="440.2" y="280.17" width="12.9" height="4.21" fill="#50ff00"/>
<rect x="440.2" y="276.26" width="12.9" height="4.21" fill="#71ff00"/>
<rect x="440.2" y="272.34" width="12.9" height="4.21" fill="#91ff00"/>
<rect x="440.2" y="268.43" width="12.9" height="4.21" fill="#b1ff00"/>
<rect x="440.2" y="264.52" width="12.9" height="4.21" fill="#d1ff00"/>
<rect x="440.2" y="260.61" width="12.9" height="4.21" fill="#f1ff00"/>
<rect x="440.2" y="256.70" width="12.9" height="4.21" fill="#ffeb00"/>
<rect x="440.2" y="252.79" width="12.9" height="4.21" fill="#ffc900"/>
<rect x="440.2" y="248.88" width="12.9" height="4.21" fill="#ffa700"/>
<rect x="440.2" y="244.97" width="12.9" height="4.21" fill="#ff8600"/>
<rect x="440.2" y="241.06" width="12.9" height="4.21" fill="#ff7000"/>
<rect x="440.2" y="237.14" width="12.9" height="4.21" fill="#ff5900"/>
<rect x="440.2" y="233.23" width="12.9" height="4.21" fill="#ff4300"/>
<rect x="440.2" y="229.32" width="12.9" height="4.21" fill="#ff2c00"/>
<rect x="440.2" y="225.41" width="12.9" height="4.21" fill="#ff1600"/>
<rect x="440.2" y="221.50" width="12.9" height="4.21" fill="#ff0000"/>
<rect x="440.2" y="218.6" width="12.9" height="146.6" fill="none" stroke="#888" stroke-width="0.8"/>
<text x="458.6" y="365.3" font-size="8.3" text-anchor="start" fill="#333" >0.0</text>
<text x="458.6" y="341.8" font-size="8.3" text-anchor="start" fill="#333" >0.6</text>
<text x="458.6" y="318.4" font-size="8.3" text-anchor="start" fill="#333" >1.2</text>
<text x="458.6" y="294.9" font-size="8.3" text-anchor="start" fill="#333" >1.8</text>
<text x="458.6" y="271.4" font-size="8.3" text-anchor="start" fill="#333" >2.4</text>
<text x="458.6" y="248" font-size="8.3" text-anchor="start" fill="#333" >3.0</text>
<text x="458.6" y="224.5" font-size="8.3" text-anchor="start" fill="#333" >3.6</text>
<path d="M453.1,362.3h2.2M453.1,338.8h2.2M453.1,315.4h2.2M453.1,291.9h2.2M453.1,268.4h2.2M453.1,245.0h2.2M453.1,221.5h2.2" stroke="#444" stroke-width="0.8"/>
<text x="425" y="210.6" font-size="10" fill="#222">I<tspan font-size="6.8" dy="2.6">D</tspan><tspan dy="-2.6"> (1000s)</tspan></text>
<text x="479.3" y="216.5" font-size="13.5" text-anchor="start" fill="#111" >f</text>
<path d="M510.6,358.2L511.2,358.2L511.7,358.2L512.2,358.2L512.8,358.2L513.3,358.2L513.9,358.2L514.4,358.2L514.9,358.2L515.5,358.2L516,358.2L516.6,358.2L517.1,358.2L517.6,358.2L518.2,358.2L518.7,358.2L519.3,358.2L519.8,358.2L520.3,358.2L520.9,358.2L521.4,358.2L522,358.2L522.5,358.2L523.1,358.2L523.6,358.2L524.1,358.2L524.7,358.2L525.2,358.2L525.8,358.2L526.3,358.2L526.8,358.2L527.4,358.2L527.9,358.2L528.5,358.2L529,358.2L529.5,358.2L530.1,358.2L530.6,358.2L531.2,358.1L531.7,358.1L532.2,358.1L532.8,358.1L533.3,358.1L533.9,358.1L534.4,358.1L534.9,358.1L535.5,358.1L536,358.1L536.6,358.1L537.1,358.1L537.7,358.1L538.2,358.1L538.7,358L539.3,358L539.8,358L540.4,358L540.9,358L541.4,358L542,358L542.5,358L543.1,357.9L543.6,357.9L544.1,357.9L544.7,357.9L545.2,357.9L545.8,357.9L546.3,357.9L546.8,357.8L547.4,357.8L547.9,357.8L548.5,357.8L549,357.7L549.5,357.7L550.1,357.7L550.6,357.7L551.2,357.7L551.7,357.6L552.3,357.6L552.8,357.6L553.3,357.5L553.9,357.5L554.4,357.5L555,357.5L555.5,357.4L556,357.4L556.6,357.4L557.1,357.3L557.7,357.3L558.2,357.2L558.7,357.2L559.3,357.2L559.8,357.1L560.4,357.1L560.9,357L561.4,357L562,357L562.5,356.9L563.1,356.9L563.6,356.8L564.2,356.8L564.7,356.7L565.2,356.7L565.8,356.6L566.3,356.6L566.9,356.5L567.4,356.5L567.9,356.4L568.5,356.4L569,356.3L569.6,356.3L570.1,356.2L570.6,356.2L571.2,356.1L571.7,356.1L572.3,356L572.8,356L573.3,355.9L573.9,355.9L574.4,355.8L575,355.8L575.5,355.7L576,355.7L576.6,355.6L577.1,355.6L577.7,355.5L578.2,355.5L578.8,355.5L579.3,355.4L579.8,355.4L580.4,355.3L580.9,355.3L581.5,355.2L582,355.2L582.5,355.2L583.1,355.1L583.6,355.1L584.2,355.1L584.7,355L585.2,355L585.8,355L586.3,354.9L586.9,354.9L587.4,354.9L587.9,354.8L588.5,354.8L589,354.8L589.6,354.8L590.1,354.7L590.7,354.7L591.2,354.7L591.7,354.7L592.3,354.7L592.8,354.6L593.4,354.6L593.9,354.6L594.4,354.6L595,354.6L595.5,354.5L596.1,354.5L596.6,354.5L597.1,354.5L597.7,354.5L598.2,354.5L598.8,354.5L599.3,354.4L599.8,354.4L600.4,354.4L600.9,354.4L601.5,354.4L602,354.4L602.5,354.4L603.1,354.4L603.6,354.4L604.2,354.4L604.7,354.4L605.3,354.3L605.8,354.3L606.3,354.3L606.9,354.3L607.4,354.3L608,354.3L608.5,354.3L609,354.3L609.6,354.3L610.1,354.3L610.7,354.3L611.2,354.3L611.7,354.3L612.3,354.3L612.8,354.3L613.4,354.3L613.9,354.3L614.4,354.3L615,354.3L615.5,354.3L616.1,354.2L616.6,354.2L617.1,354.2L617.7,354.2L618.2,354.2L618.8,354.2L619.3,354.2L619.9,354.2L620.4,354.2L620.9,354.2L621.5,354.2L622,354.2L622.6,354.2L623.1,354.2L623.6,354.2L624.2,354.2L624.7,354.2L625.3,354.2L625.8,354.2L626.3,354.2L626.9,354.2L627.4,354.2L628,354.2L628.5,354.2L629,354.2L629.6,354.2L630.1,354.2L630.7,354.2L631.2,354.2L631.8,354.2L632.3,354.2L632.8,354.2L633.4,354.2L633.9,354.2L634.5,354.2L635,354.2L635.5,354.2L636.1,354.2L636.6,354.2L637.2,354.2L637.7,354.2L638.2,354.2L638.8,354.2L639.3,354.2L639.9,354.2L640.4,354.2L640.9,354.2L641.5,354.2L642,354.2L642.6,354.2L643.1,354.2L643.6,354.2L644.2,354.2L644.7,354.2L645.3,354.2L645.8,354.2L646.4,354.2L646.9,354.2L647.4,354.2L648,354.2L648.5,354.2L649.1,354.2L649.6,354.2L650.1,354.2L650.7,354.2L651.2,354.2L651.8,354.2L652.3,354.2L652.8,354.2L653.4,354.2L653.9,354.2L654.5,354.2L655,354.2L655.5,354.2L656.1,354.2L656.6,354.2L657.2,354.2L657.7,354.2L658.3,354.2L658.8,354.2L659.3,354.2L659.9,354.2L660.4,354.2L661,354.2L661.5,354.2L662,354.2L662.6,354.2L663.1,354.2L663.7,354.2L664.2,354.2L664.7,354.2L665.3,354.2L665.8,354.2L666.4,354.2L666.9,354.2L667.4,354.2L668,354.2L668.5,354.2L669.1,354.2L669.6,354.2L670.1,354.2L670.7,354.2L671.2,354.2L671.8,354.2L672.3,354.2L672.9,354.2L673.4,354.2L673.9,354.2L674.5,354.2L675,354.2L675.6,354.2L676.1,354.2L676.6,354.2L677.2,354.2L677.7,354.2L678.3,354.2" fill="none" stroke="#36c4c4" stroke-width="0.9"/>
<path d="M510.6,358.2L511.2,358.2L511.7,358.2L512.2,358.2L512.8,358.2L513.3,358.2L513.9,358.2L514.4,358.2L514.9,358.2L515.5,358.2L516,358.2L516.6,358.2L517.1,358.2L517.6,358.2L518.2,358.2L518.7,358.2L519.3,358.2L519.8,358.2L520.3,358.2L520.9,358.2L521.4,358.2L522,358.2L522.5,358.2L523.1,358.2L523.6,358.1L524.1,358.1L524.7,358.1L525.2,358.1L525.8,358.1L526.3,358.1L526.8,358.1L527.4,358.1L527.9,358L528.5,358L529,358L529.5,357.9L530.1,357.9L530.6,357.9L531.2,357.8L531.7,357.8L532.2,357.7L532.8,357.6L533.3,357.6L533.9,357.5L534.4,357.4L534.9,357.3L535.5,357.2L536,357.1L536.6,357L537.1,356.9L537.7,356.8L538.2,356.7L538.7,356.5L539.3,356.4L539.8,356.3L540.4,356.1L540.9,356L541.4,355.9L542,355.7L542.5,355.6L543.1,355.5L543.6,355.4L544.1,355.3L544.7,355.2L545.2,355.1L545.8,355.1L546.3,355L546.8,355L547.4,355L547.9,355L548.5,355L549,355L549.5,355L550.1,355.1L550.6,355.1L551.2,355.2L551.7,355.3L552.3,355.4L552.8,355.5L553.3,355.5L553.9,355.6L554.4,355.7L555,355.8L555.5,355.9L556,356L556.6,356.1L557.1,356.1L557.7,356.2L558.2,356.3L558.7,356.3L559.3,356.4L559.8,356.4L560.4,356.5L560.9,356.5L561.4,356.5L562,356.5L562.5,356.5L563.1,356.5L563.6,356.5L564.2,356.5L564.7,356.5L565.2,356.5L565.8,356.5L566.3,356.4L566.9,356.4L567.4,356.4L567.9,356.3L568.5,356.3L569,356.3L569.6,356.2L570.1,356.2L570.6,356.1L571.2,356.1L571.7,356L572.3,356L572.8,355.9L573.3,355.9L573.9,355.8L574.4,355.8L575,355.7L575.5,355.7L576,355.7L576.6,355.6L577.1,355.6L577.7,355.5L578.2,355.5L578.8,355.4L579.3,355.4L579.8,355.3L580.4,355.3L580.9,355.3L581.5,355.2L582,355.2L582.5,355.2L583.1,355.1L583.6,355.1L584.2,355L584.7,355L585.2,355L585.8,354.9L586.3,354.9L586.9,354.9L587.4,354.9L587.9,354.8L588.5,354.8L589,354.8L589.6,354.8L590.1,354.7L590.7,354.7L591.2,354.7L591.7,354.7L592.3,354.6L592.8,354.6L593.4,354.6L593.9,354.6L594.4,354.6L595,354.6L595.5,354.5L596.1,354.5L596.6,354.5L597.1,354.5L597.7,354.5L598.2,354.5L598.8,354.5L599.3,354.4L599.8,354.4L600.4,354.4L600.9,354.4L601.5,354.4L602,354.4L602.5,354.4L603.1,354.4L603.6,354.4L604.2,354.4L604.7,354.3L605.3,354.3L605.8,354.3L606.3,354.3L606.9,354.3L607.4,354.3L608,354.3L608.5,354.3L609,354.3L609.6,354.3L610.1,354.3L610.7,354.3L611.2,354.3L611.7,354.3L612.3,354.3L612.8,354.3L613.4,354.3L613.9,354.3L614.4,354.3L615,354.2L615.5,354.2L616.1,354.2L616.6,354.2L617.1,354.2L617.7,354.2L618.2,354.2L618.8,354.2L619.3,354.2L619.9,354.2L620.4,354.2L620.9,354.2L621.5,354.2L622,354.2L622.6,354.2L623.1,354.2L623.6,354.2L624.2,354.2L624.7,354.2L625.3,354.2L625.8,354.2L626.3,354.2L626.9,354.2L627.4,354.2L628,354.2L628.5,354.2L629,354.2L629.6,354.2L630.1,354.2L630.7,354.2L631.2,354.2L631.8,354.2L632.3,354.2L632.8,354.2L633.4,354.2L633.9,354.2L634.5,354.2L635,354.2L635.5,354.2L636.1,354.2L636.6,354.2L637.2,354.2L637.7,354.2L638.2,354.2L638.8,354.2L639.3,354.2L639.9,354.2L640.4,354.2L640.9,354.2L641.5,354.2L642,354.2L642.6,354.2L643.1,354.2L643.6,354.2L644.2,354.2L644.7,354.2L645.3,354.2L645.8,354.2L646.4,354.2L646.9,354.2L647.4,354.2L648,354.2L648.5,354.2L649.1,354.2L649.6,354.2L650.1,354.2L650.7,354.2L651.2,354.2L651.8,354.2L652.3,354.2L652.8,354.2L653.4,354.2L653.9,354.2L654.5,354.2L655,354.2L655.5,354.2L656.1,354.2L656.6,354.2L657.2,354.2L657.7,354.2L658.3,354.2L658.8,354.2L659.3,354.2L659.9,354.2L660.4,354.2L661,354.2L661.5,354.2L662,354.2L662.6,354.2L663.1,354.2L663.7,354.2L664.2,354.2L664.7,354.2L665.3,354.2L665.8,354.2L666.4,354.2L666.9,354.2L667.4,354.2L668,354.2L668.5,354.2L669.1,354.2L669.6,354.2L670.1,354.2L670.7,354.2L671.2,354.2L671.8,354.2L672.3,354.2L672.9,354.2L673.4,354.2L673.9,354.2L674.5,354.2L675,354.2L675.6,354.2L676.1,354.2L676.6,354.2L677.2,354.2L677.7,354.2L678.3,354.2" fill="none" stroke="#4fb070" stroke-width="0.9"/>
<path d="M510.6,358.2L511.2,358.2L511.7,358.2L512.2,358.2L512.8,358.2L513.3,358.2L513.9,358.2L514.4,358.2L514.9,358.2L515.5,358.2L516,358.2L516.6,358.2L517.1,358.2L517.6,358.2L518.2,358.2L518.7,358.2L519.3,358.2L519.8,358.2L520.3,358.2L520.9,358.2L521.4,358.2L522,358.2L522.5,358.2L523.1,358.2L523.6,358.2L524.1,358.2L524.7,358.2L525.2,358.2L525.8,358.2L526.3,358.2L526.8,358.2L527.4,358.2L527.9,358.2L528.5,358.2L529,358.2L529.5,358.1L530.1,358.1L530.6,358.1L531.2,358.1L531.7,358.1L532.2,358.1L532.8,358.1L533.3,358.1L533.9,358.1L534.4,358.1L534.9,358.1L535.5,358.1L536,358.1L536.6,358.1L537.1,358.1L537.7,358L538.2,358L538.7,358L539.3,358L539.8,358L540.4,358L540.9,358L541.4,358L542,358L542.5,357.9L543.1,357.9L543.6,357.9L544.1,357.9L544.7,357.9L545.2,357.9L545.8,357.8L546.3,357.8L546.8,357.8L547.4,357.8L547.9,357.8L548.5,357.7L549,357.7L549.5,357.7L550.1,357.7L550.6,357.7L551.2,357.6L551.7,357.6L552.3,357.6L552.8,357.5L553.3,357.5L553.9,357.5L554.4,357.5L555,357.4L555.5,357.4L556,357.4L556.6,357.3L557.1,357.3L557.7,357.2L558.2,357.2L558.7,357.2L559.3,357.1L559.8,357.1L560.4,357L560.9,357L561.4,357L562,356.9L562.5,356.9L563.1,356.8L563.6,356.8L564.2,356.7L564.7,356.7L565.2,356.6L565.8,356.6L566.3,356.5L566.9,356.5L567.4,356.4L567.9,356.4L568.5,356.3L569,356.3L569.6,356.2L570.1,356.2L570.6,356.1L571.2,356.1L571.7,356L572.3,356L572.8,355.9L573.3,355.9L573.9,355.8L574.4,355.8L575,355.7L575.5,355.7L576,355.6L576.6,355.6L577.1,355.5L577.7,355.5L578.2,355.4L578.8,355.4L579.3,355.3L579.8,355.3L580.4,355.2L580.9,355.2L581.5,355.2L582,355.1L582.5,355.1L583.1,355L583.6,355L584.2,355L584.7,354.9L585.2,354.9L585.8,354.8L586.3,354.8L586.9,354.8L587.4,354.7L587.9,354.7L588.5,354.7L589,354.6L589.6,354.6L590.1,354.5L590.7,354.5L591.2,354.4L591.7,354.4L592.3,354.3L592.8,354.3L593.4,354.2L593.9,354.2L594.4,354.1L595,354L595.5,354L596.1,353.9L596.6,353.8L597.1,353.7L597.7,353.6L598.2,353.5L598.8,353.3L599.3,353.2L599.8,353.1L600.4,352.9L600.9,352.8L601.5,352.6L602,352.4L602.5,352.2L603.1,352L603.6,351.8L604.2,351.5L604.7,351.3L605.3,351.1L605.8,350.8L606.3,350.5L606.9,350.2L607.4,349.9L608,349.6L608.5,349.3L609,349L609.6,348.7L610.1,348.4L610.7,348.1L611.2,347.8L611.7,347.5L612.3,347.2L612.8,346.9L613.4,346.6L613.9,346.3L614.4,346.1L615,345.9L615.5,345.7L616.1,345.5L616.6,345.3L617.1,345.2L617.7,345L618.2,345L618.8,344.9L619.3,344.9L619.9,344.9L620.4,344.9L620.9,345L621.5,345.1L622,345.2L622.6,345.4L623.1,345.5L623.6,345.7L624.2,345.9L624.7,346.2L625.3,346.4L625.8,346.7L626.3,347L626.9,347.3L627.4,347.6L628,347.9L628.5,348.2L629,348.5L629.6,348.8L630.1,349.1L630.7,349.4L631.2,349.7L631.8,350L632.3,350.2L632.8,350.5L633.4,350.8L633.9,351L634.5,351.3L635,351.5L635.5,351.7L636.1,351.9L636.6,352.1L637.2,352.3L637.7,352.5L638.2,352.6L638.8,352.8L639.3,352.9L639.9,353L640.4,353.1L640.9,353.2L641.5,353.3L642,353.4L642.6,353.5L643.1,353.6L643.6,353.6L644.2,353.7L644.7,353.7L645.3,353.8L645.8,353.8L646.4,353.9L646.9,353.9L647.4,353.9L648,353.9L648.5,354L649.1,354L649.6,354L650.1,354L650.7,354L651.2,354L651.8,354.1L652.3,354.1L652.8,354.1L653.4,354.1L653.9,354.1L654.5,354.1L655,354.1L655.5,354.1L656.1,354.1L656.6,354.1L657.2,354.1L657.7,354.1L658.3,354.1L658.8,354.1L659.3,354.1L659.9,354.1L660.4,354.1L661,354.1L661.5,354.1L662,354.1L662.6,354.1L663.1,354.1L663.7,354.1L664.2,354.1L664.7,354.1L665.3,354.1L665.8,354.1L666.4,354.1L666.9,354.1L667.4,354.1L668,354.1L668.5,354.1L669.1,354.1L669.6,354.1L670.1,354.1L670.7,354.1L671.2,354.1L671.8,354.1L672.3,354.1L672.9,354.2L673.4,354.2L673.9,354.2L674.5,354.2L675,354.2L675.6,354.2L676.1,354.2L676.6,354.2L677.2,354.2L677.7,354.2L678.3,354.2" fill="none" stroke="#a070d0" stroke-width="0.9"/>
<path d="M510.6,358.2L511.2,358.2L511.7,358.2L512.2,358.2L512.8,358.2L513.3,358.2L513.9,358.2L514.4,358.2L514.9,358.2L515.5,358.2L516,358.2L516.6,358.2L517.1,358.2L517.6,358.2L518.2,358.2L518.7,358.2L519.3,358.2L519.8,358.2L520.3,358.2L520.9,358.2L521.4,358.2L522,358.2L522.5,358.2L523.1,358.2L523.6,358.2L524.1,358.2L524.7,358.1L525.2,358.1L525.8,358.1L526.3,358.1L526.8,358.1L527.4,358.1L527.9,358.1L528.5,358.1L529,358.1L529.5,358.1L530.1,358.1L530.6,358.1L531.2,358.1L531.7,358.1L532.2,358.1L532.8,358.1L533.3,358.1L533.9,358.1L534.4,358L534.9,358L535.5,358L536,358L536.6,358L537.1,358L537.7,358L538.2,358L538.7,358L539.3,358L539.8,357.9L540.4,357.9L540.9,357.9L541.4,357.9L542,357.9L542.5,357.9L543.1,357.9L543.6,357.8L544.1,357.8L544.7,357.8L545.2,357.8L545.8,357.8L546.3,357.7L546.8,357.7L547.4,357.7L547.9,357.7L548.5,357.7L549,357.6L549.5,357.6L550.1,357.6L550.6,357.5L551.2,357.5L551.7,357.5L552.3,357.5L552.8,357.4L553.3,357.4L553.9,357.4L554.4,357.3L555,357.3L555.5,357.2L556,357.2L556.6,357.2L557.1,357.1L557.7,357.1L558.2,357L558.7,357L559.3,356.9L559.8,356.8L560.4,356.8L560.9,356.7L561.4,356.6L562,356.6L562.5,356.5L563.1,356.4L563.6,356.3L564.2,356.2L564.7,356.1L565.2,356L565.8,355.9L566.3,355.7L566.9,355.6L567.4,355.4L567.9,355.2L568.5,355L569,354.8L569.6,354.6L570.1,354.3L570.6,354.1L571.2,353.8L571.7,353.5L572.3,353.1L572.8,352.8L573.3,352.4L573.9,352L574.4,351.5L575,351L575.5,350.5L576,350L576.6,349.5L577.1,348.9L577.7,348.3L578.2,347.7L578.8,347L579.3,346.4L579.8,345.7L580.4,345L580.9,344.3L581.5,343.6L582,342.9L582.5,342.3L583.1,341.6L583.6,340.9L584.2,340.3L584.7,339.7L585.2,339.1L585.8,338.5L586.3,338L586.9,337.6L587.4,337.2L587.9,336.8L588.5,336.5L589,336.3L589.6,336.1L590.1,336.1L590.7,336L591.2,336.1L591.7,336.2L592.3,336.4L592.8,336.6L593.4,336.9L593.9,337.3L594.4,337.7L595,338.1L595.5,338.6L596.1,339.2L596.6,339.7L597.1,340.3L597.7,340.9L598.2,341.6L598.8,342.2L599.3,342.8L599.8,343.5L600.4,344.1L600.9,344.7L601.5,345.4L602,346L602.5,346.6L603.1,347.1L603.6,347.7L604.2,348.2L604.7,348.7L605.3,349.2L605.8,349.6L606.3,350L606.9,350.4L607.4,350.8L608,351.1L608.5,351.4L609,351.7L609.6,351.9L610.1,352.2L610.7,352.4L611.2,352.6L611.7,352.8L612.3,352.9L612.8,353.1L613.4,353.2L613.9,353.3L614.4,353.4L615,353.5L615.5,353.6L616.1,353.6L616.6,353.7L617.1,353.7L617.7,353.8L618.2,353.8L618.8,353.9L619.3,353.9L619.9,353.9L620.4,353.9L620.9,354L621.5,354L622,354L622.6,354L623.1,354L623.6,354L624.2,354L624.7,354L625.3,354L625.8,354L626.3,354.1L626.9,354.1L627.4,354.1L628,354.1L628.5,354.1L629,354.1L629.6,354.1L630.1,354.1L630.7,354.1L631.2,354.1L631.8,354.1L632.3,354.1L632.8,354.1L633.4,354.1L633.9,354.1L634.5,354.1L635,354.1L635.5,354.1L636.1,354.1L636.6,354.1L637.2,354.1L637.7,354.1L638.2,354.1L638.8,354.1L639.3,354.1L639.9,354.1L640.4,354.1L640.9,354.1L641.5,354.1L642,354.1L642.6,354.1L643.1,354.1L643.6,354.1L644.2,354.1L644.7,354.1L645.3,354.1L645.8,354.1L646.4,354.1L646.9,354.1L647.4,354.1L648,354.1L648.5,354.1L649.1,354.1L649.6,354.1L650.1,354.1L650.7,354.1L651.2,354.1L651.8,354.1L652.3,354.1L652.8,354.1L653.4,354.1L653.9,354.1L654.5,354.1L655,354.1L655.5,354.1L656.1,354.1L656.6,354.1L657.2,354.1L657.7,354.1L658.3,354.1L658.8,354.1L659.3,354.1L659.9,354.1L660.4,354.1L661,354.1L661.5,354.1L662,354.2L662.6,354.2L663.1,354.2L663.7,354.2L664.2,354.2L664.7,354.2L665.3,354.2L665.8,354.2L666.4,354.2L666.9,354.2L667.4,354.2L668,354.2L668.5,354.2L669.1,354.2L669.6,354.2L670.1,354.2L670.7,354.2L671.2,354.2L671.8,354.2L672.3,354.2L672.9,354.2L673.4,354.2L673.9,354.2L674.5,354.2L675,354.2L675.6,354.2L676.1,354.2L676.6,354.2L677.2,354.2L677.7,354.2L678.3,354.2" fill="none" stroke="#30c8c8" stroke-width="0.9"/>
<path d="M510.6,358.1L511.2,358.1L511.7,358.1L512.2,358.1L512.8,358.1L513.3,358.1L513.9,358.1L514.4,358.1L514.9,358.1L515.5,358.1L516,358.1L516.6,358.1L517.1,358.1L517.6,358.1L518.2,358.1L518.7,358.1L519.3,358.1L519.8,358.1L520.3,358L520.9,358L521.4,358L522,358L522.5,358L523.1,358L523.6,358L524.1,358L524.7,358L525.2,358L525.8,358L526.3,358L526.8,358L527.4,358L527.9,357.9L528.5,357.9L529,357.9L529.5,357.9L530.1,357.9L530.6,357.9L531.2,357.9L531.7,357.9L532.2,357.8L532.8,357.8L533.3,357.8L533.9,357.8L534.4,357.8L534.9,357.8L535.5,357.7L536,357.7L536.6,357.7L537.1,357.7L537.7,357.6L538.2,357.6L538.7,357.6L539.3,357.5L539.8,357.5L540.4,357.4L540.9,357.4L541.4,357.3L542,357.2L542.5,357.1L543.1,357L543.6,356.9L544.1,356.8L544.7,356.7L545.2,356.5L545.8,356.3L546.3,356.1L546.8,355.9L547.4,355.6L547.9,355.3L548.5,355L549,354.7L549.5,354.3L550.1,353.8L550.6,353.3L551.2,352.8L551.7,352.2L552.3,351.5L552.8,350.8L553.3,350L553.9,349.2L554.4,348.3L555,347.4L555.5,346.3L556,345.3L556.6,344.1L557.1,342.9L557.7,341.7L558.2,340.4L558.7,339L559.3,337.6L559.8,336.2L560.4,334.7L560.9,333.3L561.4,331.8L562,330.4L562.5,328.9L563.1,327.5L563.6,326.1L564.2,324.8L564.7,323.5L565.2,322.3L565.8,321.2L566.3,320.2L566.9,319.3L567.4,318.6L567.9,317.9L568.5,317.4L569,317.1L569.6,316.9L570.1,316.8L570.6,316.9L571.2,317.2L571.7,317.6L572.3,318.1L572.8,318.8L573.3,319.6L573.9,320.5L574.4,321.5L575,322.6L575.5,323.7L576,325L576.6,326.3L577.1,327.6L577.7,328.9L578.2,330.3L578.8,331.7L579.3,333.1L579.8,334.4L580.4,335.8L580.9,337.1L581.5,338.4L582,339.6L582.5,340.8L583.1,341.9L583.6,343L584.2,344L584.7,344.9L585.2,345.8L585.8,346.7L586.3,347.4L586.9,348.1L587.4,348.8L587.9,349.4L588.5,349.9L589,350.4L589.6,350.9L590.1,351.3L590.7,351.6L591.2,351.9L591.7,352.2L592.3,352.5L592.8,352.7L593.4,352.9L593.9,353.1L594.4,353.2L595,353.3L595.5,353.4L596.1,353.5L596.6,353.6L597.1,353.7L597.7,353.7L598.2,353.8L598.8,353.8L599.3,353.9L599.8,353.9L600.4,353.9L600.9,353.9L601.5,353.9L602,354L602.5,354L603.1,354L603.6,354L604.2,354L604.7,354L605.3,354L605.8,354L606.3,354L606.9,354L607.4,354L608,354L608.5,354L609,354L609.6,354L610.1,354L610.7,354L611.2,354L611.7,354L612.3,354L612.8,354L613.4,354L613.9,354L614.4,354.1L615,354.1L615.5,354.1L616.1,354.1L616.6,354.1L617.1,354.1L617.7,354.1L618.2,354.1L618.8,354.1L619.3,354.1L619.9,354.1L620.4,354.1L620.9,354.1L621.5,354.1L622,354.1L622.6,354.1L623.1,354.1L623.6,354.1L624.2,354.1L624.7,354.1L625.3,354.1L625.8,354.1L626.3,354.1L626.9,354.1L627.4,354.1L628,354.1L628.5,354.1L629,354.1L629.6,354.1L630.1,354.1L630.7,354.1L631.2,354.1L631.8,354.1L632.3,354.1L632.8,354.1L633.4,354.1L633.9,354.1L634.5,354.1L635,354.1L635.5,354.1L636.1,354.1L636.6,354.1L637.2,354.1L637.7,354.1L638.2,354.1L638.8,354.1L639.3,354.1L639.9,354.1L640.4,354.1L640.9,354.1L641.5,354.1L642,354.1L642.6,354.1L643.1,354.1L643.6,354.1L644.2,354.1L644.7,354.1L645.3,354.1L645.8,354.1L646.4,354.1L646.9,354.1L647.4,354.1L648,354.1L648.5,354.1L649.1,354.1L649.6,354.1L650.1,354.1L650.7,354.1L651.2,354.1L651.8,354.1L652.3,354.1L652.8,354.1L653.4,354.1L653.9,354.1L654.5,354.1L655,354.1L655.5,354.1L656.1,354.1L656.6,354.1L657.2,354.1L657.7,354.1L658.3,354.1L658.8,354.1L659.3,354.1L659.9,354.1L660.4,354.1L661,354.1L661.5,354.1L662,354.1L662.6,354.1L663.1,354.1L663.7,354.1L664.2,354.1L664.7,354.1L665.3,354.1L665.8,354.1L666.4,354.1L666.9,354.1L667.4,354.1L668,354.1L668.5,354.1L669.1,354.1L669.6,354.1L670.1,354.1L670.7,354.1L671.2,354.1L671.8,354.2L672.3,354.2L672.9,354.2L673.4,354.2L673.9,354.2L674.5,354.2L675,354.2L675.6,354.2L676.1,354.2L676.6,354.2L677.2,354.2L677.7,354.2L678.3,354.2" fill="none" stroke="#4a80e0" stroke-width="0.9"/>
<path d="M510.6,357.7L511.2,357.7L511.7,357.7L512.2,357.7L512.8,357.7L513.3,357.7L513.9,357.7L514.4,357.6L514.9,357.6L515.5,357.6L516,357.6L516.6,357.6L517.1,357.6L517.6,357.5L518.2,357.5L518.7,357.5L519.3,357.5L519.8,357.5L520.3,357.4L520.9,357.4L521.4,357.4L522,357.4L522.5,357.3L523.1,357.3L523.6,357.3L524.1,357.3L524.7,357.2L525.2,357.2L525.8,357.2L526.3,357.1L526.8,357.1L527.4,357.1L527.9,357L528.5,357L529,356.9L529.5,356.9L530.1,356.9L530.6,356.8L531.2,356.8L531.7,356.7L532.2,356.6L532.8,356.6L533.3,356.5L533.9,356.5L534.4,356.4L534.9,356.3L535.5,356.2L536,356.2L536.6,356.1L537.1,356L537.7,355.9L538.2,355.8L538.7,355.7L539.3,355.5L539.8,355.4L540.4,355.3L540.9,355.1L541.4,355L542,354.8L542.5,354.6L543.1,354.5L543.6,354.2L544.1,354L544.7,353.8L545.2,353.5L545.8,353.2L546.3,352.8L546.8,352.5L547.4,352L547.9,351.5L548.5,350.9L549,350.2L549.5,349.3L550.1,348.3L550.6,347.1L551.2,345.6L551.7,343.9L552.3,341.8L552.8,339.3L553.3,336.3L553.9,332.9L554.4,328.9L555,324.3L555.5,319.1L556,313.4L556.6,307.1L557.1,300.3L557.7,293.1L558.2,285.6L558.7,278.1L559.3,270.6L559.8,263.6L560.4,257.4L560.9,252.2L561.4,248.6L562,246.6L562.5,246.6L563.1,248.4L563.6,252L564.2,257.1L564.7,263.2L565.2,270.2L565.8,277.5L566.3,285L566.9,292.3L567.4,299.5L567.9,306.2L568.5,312.4L569,318L569.6,323.1L570.1,327.6L570.6,331.5L571.2,334.9L571.7,337.8L572.3,340.2L572.8,342.2L573.3,343.9L573.9,345.3L574.4,346.4L575,347.4L575.5,348.2L576,348.8L576.6,349.3L577.1,349.8L577.7,350.2L578.2,350.5L578.8,350.8L579.3,351L579.8,351.2L580.4,351.4L580.9,351.6L581.5,351.7L582,351.9L582.5,352L583.1,352.1L583.6,352.2L584.2,352.3L584.7,352.4L585.2,352.5L585.8,352.6L586.3,352.7L586.9,352.7L587.4,352.8L587.9,352.8L588.5,352.9L589,352.9L589.6,353L590.1,353L590.7,353.1L591.2,353.1L591.7,353.1L592.3,353.2L592.8,353.2L593.4,353.2L593.9,353.3L594.4,353.3L595,353.3L595.5,353.3L596.1,353.3L596.6,353.4L597.1,353.4L597.7,353.4L598.2,353.4L598.8,353.4L599.3,353.5L599.8,353.5L600.4,353.5L600.9,353.5L601.5,353.5L602,353.5L602.5,353.5L603.1,353.6L603.6,353.6L604.2,353.6L604.7,353.6L605.3,353.6L605.8,353.6L606.3,353.6L606.9,353.6L607.4,353.6L608,353.7L608.5,353.7L609,353.7L609.6,353.7L610.1,353.7L610.7,353.7L611.2,353.7L611.7,353.7L612.3,353.7L612.8,353.7L613.4,353.7L613.9,353.7L614.4,353.8L615,353.8L615.5,353.8L616.1,353.8L616.6,353.8L617.1,353.8L617.7,353.8L618.2,353.8L618.8,353.8L619.3,353.8L619.9,353.8L620.4,353.8L620.9,353.8L621.5,353.8L622,353.8L622.6,353.8L623.1,353.9L623.6,353.9L624.2,353.9L624.7,353.9L625.3,353.9L625.8,353.9L626.3,353.9L626.9,353.9L627.4,353.9L628,353.9L628.5,353.9L629,353.9L629.6,353.9L630.1,353.9L630.7,353.9L631.2,353.9L631.8,353.9L632.3,353.9L632.8,353.9L633.4,353.9L633.9,353.9L634.5,353.9L635,353.9L635.5,353.9L636.1,353.9L636.6,354L637.2,354L637.7,354L638.2,354L638.8,354L639.3,354L639.9,354L640.4,354L640.9,354L641.5,354L642,354L642.6,354L643.1,354L643.6,354L644.2,354L644.7,354L645.3,354L645.8,354L646.4,354L646.9,354L647.4,354L648,354L648.5,354L649.1,354L649.6,354L650.1,354L650.7,354L651.2,354L651.8,354L652.3,354L652.8,354L653.4,354L653.9,354L654.5,354L655,354L655.5,354L656.1,354L656.6,354L657.2,354L657.7,354L658.3,354L658.8,354L659.3,354L659.9,354L660.4,354L661,354.1L661.5,354.1L662,354.1L662.6,354.1L663.1,354.1L663.7,354.1L664.2,354.1L664.7,354.1L665.3,354.1L665.8,354.1L666.4,354.1L666.9,354.1L667.4,354.1L668,354.1L668.5,354.1L669.1,354.1L669.6,354.1L670.1,354.1L670.7,354.1L671.2,354.1L671.8,354.1L672.3,354.1L672.9,354.1L673.4,354.1L673.9,354.1L674.5,354.1L675,354.1L675.6,354.1L676.1,354.1L676.6,354.1L677.2,354.1L677.7,354.1L678.3,354.1" fill="none" stroke="#e0b848" stroke-width="0.9"/>
<path d="M502.5,358.3L502.8,358.2L503.2,357.4L503.5,357.7L503.9,357.8L504.2,358.2L504.5,357.5L504.9,356.7L505.2,357.4L505.5,357.4L505.9,357.7L506.2,357.1L506.6,357.8L506.9,356.2L507.2,357.5L507.6,357.6L507.9,357L508.2,358.1L508.6,357.9L508.9,357.9L509.3,357.7L509.6,356.7L509.9,358L510.3,356.4L510.6,357.1L510.9,356.8L511.3,357.4L511.6,358.2L512,358.1L512.3,356.9L512.6,357.6L513,357.3L513.3,357.3L513.7,356.7L514,356.8L514.3,357.2L514.7,357.3L515,356.9L515.3,357.9L515.7,357.7L516,358L516.4,357.8L516.7,358L517,356.9L517.4,357.4L517.7,356.4L518,357.4L518.4,357.1L518.7,357.5L519.1,356.9L519.4,356.9L519.7,357.3L520.1,357L520.4,357.5L520.8,357.4L521.1,357.6L521.4,356.7L521.8,357.5L522.1,357.6L522.4,356.6L522.8,357.1L523.1,357.7L523.5,357.5L523.8,357.3L524.1,357.5L524.5,357L524.8,357.5L525.1,357.5L525.5,356.5L525.8,356L526.2,356.2L526.5,356.9L526.8,356.5L527.2,356.8L527.5,355.8L527.9,356.5L528.2,356.3L528.5,355.6L528.9,355.9L529.2,356.4L529.5,356.8L529.9,356.5L530.2,356.9L530.6,355.4L530.9,356.2L531.2,355.7L531.6,355.9L531.9,356.3L532.2,355.7L532.6,355.6L532.9,355.7L533.3,355.6L533.6,355.4L533.9,355.9L534.3,355.4L534.6,355.4L534.9,355.5L535.3,354.9L535.6,355.9L536,355.4L536.3,354.7L536.6,353.8L537,354.1L537.3,354.6L537.7,353.4L538,353.9L538.3,354.1L538.7,353.7L539,352.7L539.3,352.9L539.7,353.4L540,353.4L540.4,352.4L540.7,353.1L541,352.6L541.4,351.8L541.7,352.4L542,352.1L542.4,351.4L542.7,351.4L543.1,350.4L543.4,350.7L543.7,350.2L544.1,349.9L544.4,350.2L544.8,349.3L545.1,348.7L545.4,349.1L545.8,349L546.1,348.5L546.4,347.4L546.8,347.6L547.1,347.4L547.5,347.4L547.8,346.3L548.1,346.4L548.5,344.8L548.8,345L549.1,344.5L549.5,342.7L549.8,342.2L550.2,341.3L550.5,340.9L550.8,339L551.2,338L551.5,336.7L551.8,334.9L552.2,333.2L552.5,331.9L552.9,329.1L553.2,327.3L553.5,325.2L553.9,322.2L554.2,319.5L554.6,315.7L554.9,313L555.2,309.5L555.6,305.5L555.9,301L556.2,297.7L556.6,293L556.9,287.6L557.3,282.3L557.6,277L557.9,272L558.3,267.2L558.6,262L558.9,255.6L559.3,250.3L559.6,244.7L560,239.3L560.3,235.5L560.6,230.1L561,227.1L561.3,223.8L561.6,221L562,220.1L562.3,217L562.7,217.9L563,217.6L563.3,219.5L563.7,221.7L564,223.7L564.4,226.5L564.7,230.1L565,233.9L565.4,236.1L565.7,240.7L566,244.3L566.4,247.8L566.7,252.7L567.1,256.4L567.4,259.9L567.7,264L568.1,267.7L568.4,271.8L568.7,275.1L569.1,277.5L569.4,280.9L569.8,283.2L570.1,285.9L570.4,288.5L570.8,290.7L571.1,293L571.5,294.5L571.8,297.9L572.1,299L572.5,300.1L572.8,300.9L573.1,303.9L573.5,304.7L573.8,305.5L574.2,306.2L574.5,308.1L574.8,309.9L575.2,309.8L575.5,310.5L575.8,311.6L576.2,312.5L576.5,313.3L576.9,314.7L577.2,314.9L577.5,315.5L577.9,316.7L578.2,317.8L578.5,318.4L578.9,318.5L579.2,319.8L579.6,319.5L579.9,320.6L580.2,321.4L580.6,321.4L580.9,322.4L581.3,321.9L581.6,322.7L581.9,324.2L582.3,324.4L582.6,325.6L582.9,324.7L583.3,325.3L583.6,325.7L584,326.9L584.3,325.8L584.6,326.2L585,327.3L585.3,327.7L585.6,327.9L586,327.5L586.3,328L586.7,328.4L587,328.7L587.3,329.5L587.7,329.3L588,330.1L588.4,329L588.7,329.7L589,329.9L589.4,330.4L589.7,330.9L590,331.6L590.4,331.3L590.7,331.4L591.1,331.6L591.4,331.3L591.7,331.5L592.1,332.7L592.4,333L592.7,332.4L593.1,334.2L593.4,333.6L593.8,333.5L594.1,334.1L594.4,334.8L594.8,334.6L595.1,335.6L595.5,336.1L595.8,335.9L596.1,336.5L596.5,336.5L596.8,336.6L597.1,337L597.5,339.1L597.8,338.2L598.2,338.5L598.5,338.8L598.8,339.7L599.2,340.1L599.5,340.1L599.8,341L600.2,341.8L600.5,341L600.9,341.3L601.2,342.6L601.5,341.8L601.9,343L602.2,342.7L602.5,343.8L602.9,343.4L603.2,344L603.6,344.2L603.9,344L604.2,344L604.6,345L604.9,344L605.3,345.2L605.6,345.7L605.9,345.2L606.3,344.3L606.6,345.5L606.9,346L607.3,345.8L607.6,345.3L608,345.3L608.3,345.3L608.6,345.1L609,344.6L609.3,345.5L609.6,345.3L610,345.5L610.3,345.3L610.7,344.8L611,345.2L611.3,345.7L611.7,344.8L612,344.4L612.4,344.9L612.7,344.1L613,344.4L613.4,345.5L613.7,344.9L614,345.2L614.4,344.8L614.7,344.9L615.1,344.3L615.4,344L615.7,345.2L616.1,343.8L616.4,344.2L616.7,343.6L617.1,344.2L617.4,345.1L617.8,344L618.1,343.8L618.4,343.8L618.8,344L619.1,344.5L619.4,344.4L619.8,344.4L620.1,344.5L620.5,344.1L620.8,344L621.1,343.8L621.5,344.1L621.8,344.5L622.2,344.2L622.5,344.6L622.8,345.2L623.2,344.4L623.5,345L623.8,345.2L624.2,344.7L624.5,345.2L624.9,345.3L625.2,344.8L625.5,345.4L625.9,345.7L626.2,346.2L626.5,347.4L626.9,347.8L627.2,347.3L627.6,345.9L627.9,347.3L628.2,347.7L628.6,347.4L628.9,347.3L629.2,347.9L629.6,348L629.9,348.3L630.3,348.8L630.6,349.1L630.9,350.1L631.3,349.2L631.6,349.4L632,349.5L632.3,349.3L632.6,350.6L633,350.7L633.3,350L633.6,351.2L634,350.5L634.3,350.8L634.7,350.7L635,351.5L635.3,351L635.7,352L636,351.1L636.3,351.7L636.7,352L637,351.8L637.4,351.4L637.7,352.6L638,352.3L638.4,352.9L638.7,352L639.1,352.2L639.4,353L639.7,352.8L640.1,353.3L640.4,352.8L640.7,352.4L641.1,353.2L641.4,353L641.8,353.9L642.1,352.3L642.4,353.8L642.8,353.2L643.1,353.5L643.4,352.8L643.8,353.5L644.1,353.6L644.5,354.1L644.8,352.9L645.1,354.3L645.5,352.8L645.8,352.9L646.1,352.7L646.5,354L646.8,354L647.2,353.6L647.5,353.1L647.8,354.2L648.2,353.1L648.5,354.2L648.9,353.4L649.2,353.7L649.5,353.6L649.9,353.8L650.2,353.4L650.5,354.6L650.9,353.3L651.2,354L651.6,353.9L651.9,354.2L652.2,353.5L652.6,353.6L652.9,354L653.2,354.3L653.6,353L653.9,353.9L654.3,353.6L654.6,354L654.9,353.3L655.3,353.2L655.6,353.3L656,353.1L656.3,353L656.6,354.9L657,354.2L657.3,354.4L657.6,353.5L658,353.7L658.3,354.4L658.7,353.1L659,353.8L659.3,353.1L659.7,354.2L660,353.5L660.3,353.3L660.7,354L661,353.7L661.4,353.9L661.7,354.1L662,353.7L662.4,354.8L662.7,353.5L663,353.8L663.4,354.5L663.7,353.6L664.1,354.8L664.4,354.5L664.7,353.3L665.1,353.7L665.4,354.2L665.8,353.2L666.1,354.1L666.4,354L666.8,353.9L667.1,353.6L667.4,353.7L667.8,354.4L668.1,354.1L668.5,353.7L668.8,353.4L669.1,353.8L669.5,353.5L669.8,353.5L670.1,354.4L670.5,354L670.8,352.9L671.2,354.1L671.5,353.6L671.8,354.6L672.2,352.5L672.5,354.3L672.9,353.6L673.2,353.7L673.5,354.7L673.9,354L674.2,353.4L674.5,354.3L674.9,353.5L675.2,354.1L675.6,353.4L675.9,352.9L676.2,354.5L676.6,353.8L676.9,354.3L677.2,354.4L677.6,354L677.9,353.9L678.3,353.8" fill="none" stroke="#c05080" stroke-width="0.6" stroke-opacity="0.6"/>
<path d="M510.6,357.5L511.2,357.5L511.7,357.5L512.2,357.5L512.8,357.5L513.3,357.5L513.9,357.5L514.4,357.4L514.9,357.4L515.5,357.4L516,357.4L516.6,357.4L517.1,357.3L517.6,357.3L518.2,357.3L518.7,357.3L519.3,357.2L519.8,357.2L520.3,357.2L520.9,357.2L521.4,357.1L522,357.1L522.5,357.1L523.1,357L523.6,357L524.1,356.9L524.7,356.9L525.2,356.9L525.8,356.8L526.3,356.8L526.8,356.7L527.4,356.6L527.9,356.6L528.5,356.5L529,356.4L529.5,356.4L530.1,356.3L530.6,356.2L531.2,356.1L531.7,356L532.2,355.9L532.8,355.7L533.3,355.6L533.9,355.4L534.4,355.3L534.9,355.1L535.5,354.9L536,354.7L536.6,354.5L537.1,354.3L537.7,354.1L538.2,353.8L538.7,353.6L539.3,353.3L539.8,353L540.4,352.7L540.9,352.4L541.4,352.1L542,351.7L542.5,351.4L543.1,351L543.6,350.6L544.1,350.2L544.7,349.7L545.2,349.2L545.8,348.7L546.3,348.2L546.8,347.5L547.4,346.9L547.9,346.1L548.5,345.2L549,344.2L549.5,343L550.1,341.6L550.6,340L551.2,338.1L551.7,335.9L552.3,333.3L552.8,330.2L553.3,326.6L553.9,322.5L554.4,317.7L555,312.4L555.5,306.3L556,299.7L556.6,292.4L557.1,284.5L557.7,276.2L558.2,267.5L558.7,258.7L559.3,250L559.8,241.7L560.4,234.1L560.9,227.6L561.4,222.5L562,219.2L562.5,217.8L563.1,218.2L563.6,220.5L564.2,224.2L564.7,229.1L565.2,234.9L565.8,241.1L566.3,247.6L566.9,254L567.4,260.3L567.9,266.3L568.5,271.9L569,277.2L569.6,281.9L570.1,286.2L570.6,290.1L571.2,293.5L571.7,296.5L572.3,299.3L572.8,301.7L573.3,303.9L573.9,305.9L574.4,307.7L575,309.3L575.5,310.9L576,312.3L576.6,313.7L577.1,315L577.7,316.2L578.2,317.4L578.8,318.5L579.3,319.6L579.8,320.5L580.4,321.5L580.9,322.3L581.5,323.2L582,323.9L582.5,324.6L583.1,325.2L583.6,325.8L584.2,326.4L584.7,326.8L585.2,327.3L585.8,327.7L586.3,328.1L586.9,328.5L587.4,328.8L587.9,329.2L588.5,329.5L589,329.9L589.6,330.2L590.1,330.6L590.7,331L591.2,331.4L591.7,331.9L592.3,332.4L592.8,332.9L593.4,333.4L593.9,333.9L594.4,334.5L595,335.1L595.5,335.7L596.1,336.3L596.6,336.9L597.1,337.6L597.7,338.2L598.2,338.8L598.8,339.4L599.3,340L599.8,340.6L600.4,341.2L600.9,341.7L601.5,342.2L602,342.7L602.5,343.1L603.1,343.5L603.6,343.9L604.2,344.2L604.7,344.5L605.3,344.8L605.8,345L606.3,345.2L606.9,345.3L607.4,345.4L608,345.5L608.5,345.5L609,345.5L609.6,345.5L610.1,345.4L610.7,345.4L611.2,345.3L611.7,345.2L612.3,345L612.8,344.9L613.4,344.8L613.9,344.7L614.4,344.5L615,344.4L615.5,344.3L616.1,344.2L616.6,344.1L617.1,344L617.7,344L618.2,343.9L618.8,343.9L619.3,343.9L619.9,344L620.4,344.1L620.9,344.2L621.5,344.3L622,344.4L622.6,344.6L623.1,344.8L623.6,345L624.2,345.2L624.7,345.5L625.3,345.8L625.8,346L626.3,346.3L626.9,346.6L627.4,346.9L628,347.3L628.5,347.6L629,347.9L629.6,348.2L630.1,348.5L630.7,348.8L631.2,349.2L631.8,349.4L632.3,349.7L632.8,350L633.4,350.3L633.9,350.6L634.5,350.8L635,351L635.5,351.3L636.1,351.5L636.6,351.7L637.2,351.9L637.7,352L638.2,352.2L638.8,352.4L639.3,352.5L639.9,352.6L640.4,352.7L640.9,352.9L641.5,353L642,353L642.6,353.1L643.1,353.2L643.6,353.3L644.2,353.3L644.7,353.4L645.3,353.4L645.8,353.5L646.4,353.5L646.9,353.6L647.4,353.6L648,353.6L648.5,353.6L649.1,353.7L649.6,353.7L650.1,353.7L650.7,353.7L651.2,353.7L651.8,353.8L652.3,353.8L652.8,353.8L653.4,353.8L653.9,353.8L654.5,353.8L655,353.8L655.5,353.8L656.1,353.8L656.6,353.8L657.2,353.8L657.7,353.9L658.3,353.9L658.8,353.9L659.3,353.9L659.9,353.9L660.4,353.9L661,353.9L661.5,353.9L662,353.9L662.6,353.9L663.1,353.9L663.7,353.9L664.2,353.9L664.7,353.9L665.3,353.9L665.8,353.9L666.4,353.9L666.9,353.9L667.4,353.9L668,353.9L668.5,353.9L669.1,353.9L669.6,353.9L670.1,353.9L670.7,354L671.2,354L671.8,354L672.3,354L672.9,354L673.4,354L673.9,354L674.5,354L675,354L675.6,354L676.1,354L676.6,354L677.2,354L677.7,354L678.3,354" fill="none" stroke="#e8606e" stroke-width="0.8"/>
<path d="M502.5,358.3H510.6" stroke="#f09090" stroke-width="0.9"/>
<path d="M502.5,362.3v3M516.0,362.3v1.6M529.5,362.3v3M543.1,362.3v1.6M556.6,362.3v3M570.1,362.3v1.6M583.6,362.3v3M597.1,362.3v1.6M610.7,362.3v3M624.2,362.3v1.6M637.7,362.3v3M651.2,362.3v1.6M664.7,362.3v3M678.3,362.3v1.6M502.5,358.5h-3M502.5,338.2h-1.6M502.5,317.9h-3M502.5,297.5h-1.6M502.5,277.2h-3M502.5,256.9h-1.6M502.5,236.5h-3M502.5,216.2h-1.6" stroke="#333" stroke-width="0.9" fill="none"/>
<rect x="502.5" y="211.4" width="175.8" height="150.9" fill="none" stroke="#999" stroke-width="1.1"/>
<path d="M502.5,211.4V362.3H678.3" fill="none" stroke="#333" stroke-width="1"/>
<text x="502.5" y="373.6" font-size="9" text-anchor="middle" fill="#222" >280</text>
<text x="529.5" y="373.6" font-size="9" text-anchor="middle" fill="#222" >282</text>
<text x="556.6" y="373.6" font-size="9" text-anchor="middle" fill="#222" >284</text>
<text x="583.6" y="373.6" font-size="9" text-anchor="middle" fill="#222" >286</text>
<text x="610.7" y="373.6" font-size="9" text-anchor="middle" fill="#222" >288</text>
<text x="637.7" y="373.6" font-size="9" text-anchor="middle" fill="#222" >290</text>
<text x="664.7" y="373.6" font-size="9" text-anchor="middle" fill="#222" >292</text>
<text x="498" y="361.7" font-size="9" text-anchor="end" fill="#222" >0</text>
<text x="498" y="321.1" font-size="9" text-anchor="end" fill="#222" >5</text>
<text x="498" y="280.4" font-size="9" text-anchor="end" fill="#222" >10</text>
<text x="498" y="239.7" font-size="9" text-anchor="end" fill="#222" >15</text>
<text transform="translate(483.2,286.5) rotate(-90)" font-size="8.8" text-anchor="middle" fill="#222">Counts (1000/s)</text>
<text x="586.9" y="384.6" font-size="9.1" text-anchor="middle" fill="#222" >Binding Energy (eV)</text>
<text x="569.8" y="234" font-size="11.5" text-anchor="start" fill="#222" >sp<tspan font-size="7.5" dy="-4.5">2</tspan><tspan dy="4.5"> C</tspan></text>
<text x="579.2" y="304.4" font-size="11.5" text-anchor="start" fill="#222" >C-C</text>
<text x="597" y="321.6" font-size="11.5" text-anchor="start" fill="#222" >C=O</text>
<text x="625" y="331.8" font-size="11.5" text-anchor="start" fill="#222" >O-C=O</text>
<text x="520.3" y="345.4" font-size="11.5" text-anchor="start" fill="#222" >C-O</text>
<line x1="568.4" y1="234.5" x2="564.3" y2="243.4" stroke="#222" stroke-width="0.7"/>
<polygon points="562.9,246.3 563.1,242.9 565.4,243.9" fill="#222"/>
<line x1="577.5" y1="306.5" x2="573.7" y2="313.9" stroke="#222" stroke-width="0.7"/>
<polygon points="572.3,316.8 572.6,313.4 574.9,314.5" fill="#222"/>
<line x1="596.5" y1="324.0" x2="593.4" y2="332.8" stroke="#222" stroke-width="0.7"/>
<polygon points="592.3,335.8 592.1,332.3 594.6,333.2" fill="#222"/>
<line x1="626.0" y1="334.0" x2="621.6" y2="341.7" stroke="#222" stroke-width="0.7"/>
<polygon points="620.0,344.5 620.5,341.1 622.7,342.4" fill="#222"/>
<line x1="536.5" y1="347.5" x2="542.8" y2="351.7" stroke="#222" stroke-width="0.7"/>
<polygon points="545.5,353.5 542.1,352.8 543.6,350.6" fill="#222"/>
</svg>
</body></html>
